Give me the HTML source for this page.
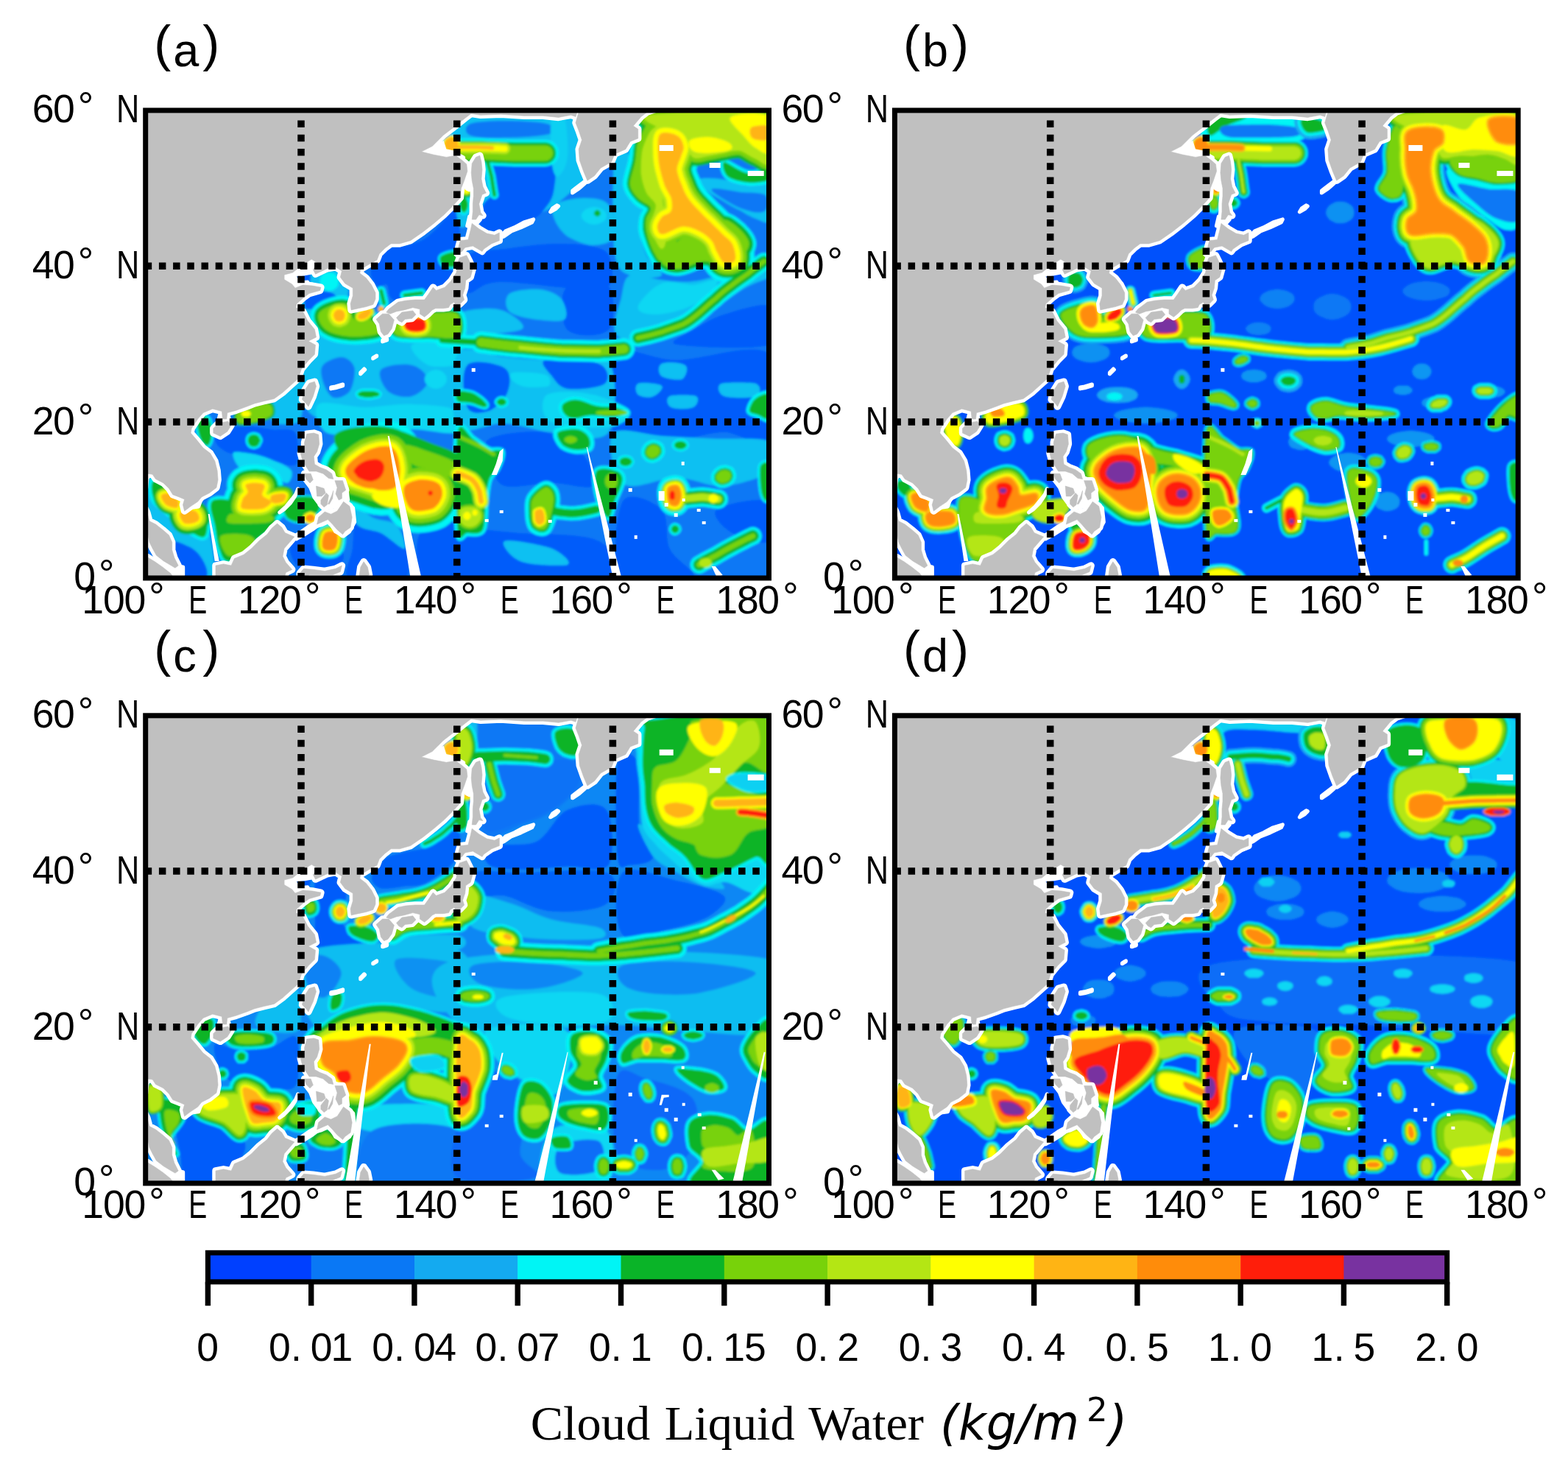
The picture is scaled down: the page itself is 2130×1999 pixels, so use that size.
<!DOCTYPE html>
<html lang="en"><head><meta charset="utf-8"><title>Cloud Liquid Water</title>
<style>html,body{margin:0;padding:0;background:#fff}body{width:2130px;height:1999px;overflow:hidden}svg{display:block}text{white-space:pre}</style>
</head><body>
<svg width="2130" height="1999" viewBox="0 0 2130 1999">
<defs><clipPath id="cp"><rect x="0" y="0" width="846.8" height="635.1"/></clipPath><filter id="bl" x="-5%" y="-5%" width="110%" height="110%"><feGaussianBlur stdDeviation="1.6"/></filter></defs>
<defs><g id="lp"><path d="M-10.6-10.6l453.1 0 0 14.8-8.5 6.4-15.9 12.7-13.8 10.6-14.8 14.8-14.8 7.4 16.9 4.2 17 3.2 12.7-2.1 8.5 6.3 6.3 5.3 1.1 9.6-4.3 12.7-4.2 10.6-1.1 12.7-10.6 11.6-11.6 11.6-13.8 11.7-14.8 11.6-16.9 11.7-14.8 4.2-11.7 0-8.4 6.4-7.4 7.4-3.2 8.4-11.7 6.4-10.6 6.3-1 5.3 8.5 6.4 7.4 9.5 5.3 10.6 0 8.5-3.2 7.4-9.5 3.1-10.6 2.2-9.6 2.1-1-8.5 3.2-10.6 0-10.6-10.6-6.3-6.4-8.5 2.1-8.4-8.4-5.3-11.7 2.1-15.8 7.4-3.2-6.4 6.3-8.4-8.4-5.3-13.8 8.4-11.6 9.6-11.7 3.1 0 6.4 10.6 6.3 4.2 5.3 10.6-4.2 12.7 1.1 11.7 2.1-1.1 4.2-14.8 4.2-7.4 5.3-9.6 8.5-1 5.3 9.5 5.3 6.4 12.7 9.5 11.6 2.1 10.6-10.6 5.3 9.6 5.3-1.1 12.7-8.5 8.5-9.5 11.6-4.2 12.7-10.6 9.6-10.6 9.5-11.6 8.4-13.8 3.2-12.7 3.2-10.6 4.2-14.8 5.3-11.7 3.2-1 8.5-5.3 0-1.1-10.6-12.7-3.2-12.7 5.3-7.4 8.5-8.4 12.7-1.1 6.3 7.4 8.5 9.5 11.6 9.6 7.4 6.3 10.6 3.2 12.7 1 12.7-2.1 10.6-9.5 7.4-10.6 5.3-5.3 6.4-9.5 6.3-8.5 6.4-2.1-8.5 2.1-7.4-7.4-3.2-8.5-3.2-5.2-8.4-7.5-7.4-10.5-5.3-4.3-6.4-6.3-1-3.2 6.3-1.1 12.7-5.3 10.6-2.1 12.7 6.4 2.1 4.2 8.5 3.2 11.6 8.5 4.3 9.5 7.4 8.5 7.4 4.2 9.5 0 10.6 3.2 10.6 5.3 10.6-4.3 3.1-5.3-3.1-10.6-6.4-9.5-7.4-5.3-9.5-4.2-8.5-2.1-10.6-1.1-8.4-12.7-2.2z"/><path d="M-10.6 600.2l12.7 6.3 10.6 6.4 10.6 7.4 10.6 8.4 6.3 8.5 0 8.5-50.8 0z"/><path d="M92.1 431.9l7.4-7.4 12.7-2.2 4.2 5.3-5.3 8.5-9.5 6.4-9.5-4.3z"/><path d="M212.8 392.7l2.1-10.6 7.4-11.6 7.4-2.1 2.1 6.3-4.2 13.8-6.4 13.7-3.1-4.2z"/><path d="M215.9 463.6l0-12.7 3.2-11.6 9.5-1.1 6.4 2.1 1 12.7-3.1 10.6-4.3 6.4 1.1 10.6 7.4 4.2 8.5 3.2 7.4 5.3 2.1 7.4-6.4-1.1-7.4-6.3-9.5-3.2-9.5 0-4.2-6.4-4.3-6.3-3.2-11.7z"/><path d="M215.9 493.3l8.5 0 3.2 8.4-4.3 4.3-5.2-5.3z"/><path d="M231.8 510.2l10.6 3.2 2.1 6.3-5.3 4.3-6.3 0z"/><path d="M238.2 529.2l7.4-9.5 3.1 3.2-2.1 12.7-4.2 3.2-4.2-4.3z"/><path d="M247.7 534.5l5.3-11.6 2.1-6.4-1.1 10.6-4.2 7.4z"/><path d="M257.2 502.8l10.6 0 4.2 12.7-5.3 4.2 0 7.4-4.2 2.1-4.2-8.4 2.1-8.5z"/><path d="M232.9 562.1l2.1-9.6 8.5-7.4 8.4 3.2 8.5-4.2 8.5-12.7 8.4 6.3 3.2 14.8-2.1 13.8-7.4 5.3-3.2 4.2-7.4-6.3-6.4-7.4-6.3-6.4-7.4 3.2z"/><path d="M95.3 645.7l0-27.5 10.6-2.2 10.5 2.2 4.3-9.6 12.7-5.3 10.6-8.4 10.5-10.6 10.6-8.5 6.4-8.4 7.4-6.4 6.3 5.3 4.3 7.4 12.7 5.3-6.4 7.4-7.4 8.5-2.1 10.6 4.2 8.4 8.5 9.6-8.5 4.2-4.2 18z"/><path d="M209.6 645.7l0-17 5.3-6.3 12.7 1.1 15.9 2.1 14.8-3.2 8.4-4.2-2.1 8.4-10.6 4.3-15.8 0-15.9 0-8.5 6.3 2.1 8.5z"/><path d="M290 635.1l2.1-14.8 4.3-7.4 5.3 7.4 2.1 10.6-7.4 4.2 2.1 10.6-7.4 0z"/><path d="M313.3 283.7l8.5-7.4 8.5 0 7.4 8.4-3.2 11.7-5.3 7.4-5.3 2.1-4.2-5.3-2.1-10.6z"/><path d="M340.8 281.6l7.4-7.4 14.9-2.2 4.2 5.3-5.3 5.3-9.5 1.1-4.3 4.2-4.2-2.1z"/><path d="M327.1 274.2l3.2-4.3 12.7-9.5 10.5-2.1 12.7-1.1 12.7 0 5.3-7.4 6.4-9.5 4.2 4.2 11.7-4.2 8.4-8.5 7.4-11.6 1.1-11.7 3.2-8.4 9.5-3.2 4.2 8.4 4.3 9.6-3.2 11.6-6.4 4.3-1 10.5-3.2 9.6 2.1 6.3-6.3 6.4-5.3 1-2.1-4.2-5.3 3.2-2.1 4.2-7.5 1.1-10.5 0-4.3 2.1-5.3 5.3-5.3 4.2-6.3-4.2 0-6.4-9.5-2.1-11.7 3.2-10.6 2.1-8.4 3.2z"/><path d="M423.4 194.8l2.1-10.6 2.1-7.4 10.6-1.1 3.2-12.7 2.1-9.5 9.5 7.4 10.6 6.3 10.6 2.2 6.4-3.2 0 10.6-10.6 4.2-10.6 7.4-2.1 3.2-12.7-7.4-10.6 2.1-4.2 5.3z"/><path d="M443.5 148.2l1.1-10.6 0-10.6 1-10.6 0-10.5-2.1-10.6-1-10.6 1-12.7 5.3-8.5 5.3-2.1 2.1 8.5 1.1 10.5-1.1 12.7 2.1 10.6 4.3 8.5-5.3 2.1-4.3 12.7 2.2 11.7 3.1 4.2-5.3-1.1-4.2 6.4z"/><path d="M582.2-10.6l6.3 12.7-4.2 14.8 4.2 10.6 4.3 12.7-4.3 12.7 1.1 14.8 5.3 14.9 5.3 12.7 9.5-6.4 8.5-10.6 14.8-8.4 4.2-10.6 14.8-6.4 6.4-10.6 10.6-4.2 0-12.7-6.4-4.2 10.6-12.7 8.5-6.4 12.7-4.2 4.2-8.5z"/><path d="M440.3-10.6l0 14.8 14.9 2.2 27.5-1.1 31.7 2.1 25.4 0 21.2 2.1 16.9-3.1 6.4 2.1 6.3-19.1z"/></g><g id="land"><g fill="#fff" stroke="#fff" stroke-width="5" stroke-linejoin="round"><path d="M182 546l9-8 8-10 6-8 2-6-4 10-6 9-9 9z"/><path d="M480 174l9-10 12-5 13-7 13-4-2 4-15 7-13 5-10 7z"/><path d="M222 491l21 4 17 5 13 12 2 17-4 7-13 2-12 2-11-7-6-8-5-13-6-8z"/><path d="M231 565l6-14 11-7 12-2 11-12 11 10 2 19-7 13-8 6-11-6-8-14-11 5z"/><path d="M205 582l11-6 11-7 8-6-2-4-11 6-10 7-9 6z"/><path d="M252 378l6-1 10-3 0-2-10 3-6 1z"/><path d="M292 358l6-6-1-1-5 5z"/><path d="M309 337l5-3 0-1-5 3z"/><path d="M322 314l6-2 0-2-6 2z"/><path d="M339 279l10-2 17-4 7-4-3-3-16 3-15 4z"/><path d="M437 157l10 0 8-9-4-6-11 2z"/><path d="M580 112l9-6 8-7 0-3-8 6-9 7z"/><path d="M550 138l7-4 4-4-2-1-6 4z"/><path d="M373 59l12 7 17 2 17-2 9 6 4-8-13-7-21-4-17-2z"/><path d="M186 241l11 2 19 0 8-3-4-7-10 1-7-7-10-5-7 5z"/><path d="M197 224l13-8 12-9 11 0-6 13-11 2z"/><path d="M99 421l15 0-2-10-10-2z"/><path d="M57 540l15-2 4-11-8-2z"/><path d="M34 629l17 2 0-11-13-2z"/><path d="M430 74l10 11 2 10-2 13-4-2-2-15-2-11z"/></g><use href="#lp" fill="#fff" stroke="#fff" stroke-width="9.5" stroke-linejoin="round"/><use href="#lp" fill="#c0c0c0" stroke="#c0c0c0" stroke-width="0.6"/></g></defs>
<rect width="2130" height="1999" fill="#fff"/>
<g transform="translate(197.7 149.9)"><g clip-path="url(#cp)"><g filter="url(#bl)"><defs><path id="a1" d="M401 198c3-3 19-8 23-6 4 2 3 16 0 19-3 3-15 2-19 0-4-2-7-10-4-13z"/><path id="a2" d="M352 251l23-3"/><path id="a3" d="M320 245l4 17"/><path id="a4" d="M271 278c0 2 0 3-1 4 0 2-1 3-3 4-1 0-2 1-4 1-1 0-3-1-4-1-1-1-2-2-3-4 0-1-1-2-1-4 0-1 1-3 1-4 1-1 2-2 3-3 1-1 3-1 4-1 2 0 3 0 4 1 2 1 3 2 3 3 1 1 1 3 1 4z"/><path id="a5" d="M235 277c1-6 14-11 21-13 7-2 14-3 19 0 5 4 3 16 9 20 5 3 20-2 25 2 5 3 12 13 7 17-6 3-27 5-39 4-12-1-25-4-32-9-7-5-12-15-10-21z"/><path id="a6" d="M307 272c0 1 0 2 0 3-1 1-2 2-3 3-1 2-2 3-4 4-1 1-3 1-5 2-1 0-3 0-4 0-1 0-2-1-3-2 0 0 0-1 0-3 0-1 1-2 2-3 2-1 3-3 5-3 1-1 3-2 5-3 1 0 3 0 4 0 1 0 2 1 3 2z"/><path id="a7" d="M335 281c3-4 17-3 27-4 10-1 22-2 32-2 11 0 25-3 30 2 5 5 7 25 0 30-7 5-26 0-40 0-14 0-35 2-43-2-8-4-10-19-6-24z"/><path id="a8" d="M354 286c3-3 19-5 23-2 4 2 5 12 1 14-3 3-18 3-22 0-4-2-6-10-2-12z"/><path id="a9" d="M425 46c0 1 0 3-1 5-1 1-2 2-3 3-2 1-4 1-5 1-2 0-4 0-5-1-1-1-3-2-4-3 0-2-1-4-1-5 0-2 1-4 1-5 1-1 3-3 4-3 1-1 3-2 5-2 1 0 3 1 5 2 1 0 2 2 3 3 1 1 1 3 1 5z"/><path id="a10" d="M411 56c8 0 30 0 45 0 14 1 28 1 43 2 14 0 37 0 44 0"/><path id="a11" d="M411 51c8 0 32 0 45 0 13 0 27 1 32 1"/><path id="a12" d="M464 68c1 4 4 14 6 22 1 7 3 21 4 25"/><path id="a13" d="M442 102c0 2-1 4-1 6-1 1-1 3-2 4-1 0-2 1-3 1-1 0-2-1-3-1-1-1-2-3-3-4 0-2 0-4 0-6 0-1 0-3 0-5 1-2 2-3 3-4 1-1 2-1 3-1 1 0 2 0 3 1 1 1 1 2 2 4 0 2 1 4 1 5z"/><path id="a14" d="M438 128c0 2 0 4-1 5 0 2-1 3-2 4-1 1-2 2-3 2 0 0-1-1-2-2-1-1-2-2-2-4-1-1-1-3-1-5 0-2 0-4 1-5 0-2 1-3 2-4 1-1 2-2 2-2 1 0 2 1 3 2 1 1 2 2 2 4 1 1 1 3 1 5z"/><path id="a15" d="M699 32c4-4 18-1 23 2 6 3 8 10 9 15 1 5-3 10-4 15-2 5-5 11-5 17 1 6 4 15 7 21 2 7 5 12 8 17 4 5 6 8 11 13 5 5 11 12 17 17 6 6 12 12 17 17 5 6 12 9 15 15 3 6 6 17 4 22-1 4-10 6-15 4-4-2-7-10-10-15-3-5-3-10-7-15-4-5-11-10-17-13-6-3-13-6-19-6-6-1-10 2-15 4-5 2-13 7-17 6-4 0-6-6-6-10 0-4 3-9 6-13 3-4 11-4 13-9 2-4 1-11 0-17-2-5-6-10-9-17-2-6-4-13-6-21-2-8-3-17-3-26 0-8-1-19 3-23z"/><path id="a16" d="M686 13c-5 3-13 20-17 30-3 9-2 18-4 27-2 10-7 22-7 30 1 8 6 14 11 19 5 6 15 8 17 13 2 5-6 11-6 17-1 7 0 14 2 22 2 7 5 15 8 21 4 6 6 13 11 13 5 0 21 17 21-13 0-31-15-141-21-171-6-30-10-12-15-8z"/><path id="a17" d="M701 203c-2 7 12 12 21 12 10 1 24-9 35-10 10-1 21 5 29 4 9-1 16-4 22-9 5-4 12-12 12-19 0-6-7-14-12-19-6-5-15-14-22-13-7 2-12 18-21 22-9 3-21-6-32 0-11 5-30 24-32 32z"/><path id="a18" d="M686 6c25-3 135-10 162 0 27 11 3 54 0 64-3 10-12-1-19-4-7-2-14-9-21-11-7-1-15 1-22 3-7 1-14 3-21 4-7 1-16 5-21 2-6-3-4-15-11-21-7-7-24-11-32-17-8-6-39-16-15-20z"/><path id="a19" d="M786 70c5 0 22 14 32 15 11 2 25-5 30-4 5 1 5 10 0 13-5 3-20 5-30 4-9-1-22-4-27-8-6-5-9-19-5-20z"/><path id="a20" d="M840 205c-4 3-15 11-22 17-7 5-14 9-21 15-7 5-16 12-23 19-8 6-15 13-22 19-7 6-13 11-21 15-9 4-20 7-30 11-10 3-27 7-32 8"/><path id="a21" d="M318 385c0 1-1 2-2 3-2 0-4 1-6 1-2 1-5 1-7 1-3 0-6 0-8-1-2 0-4-1-5-1-1-1-2-2-2-3 0-1 1-1 2-2 1-1 3-1 5-2 2 0 5 0 8 0 2 0 5 0 7 0 2 1 4 1 6 2 1 1 2 1 2 2z"/><path id="a22" d="M124 412c2-4 14-9 21-11 7-2 19-4 23-2 5 2 6 11 3 15-4 4-15 7-22 9-7 1-17 3-21 2-4-2-7-9-4-13z"/><path id="a23" d="M156 448c0 2-1 3-2 4 0 2-1 3-3 4-1 0-2 1-4 1-1 0-3-1-4-1-1-1-3-2-3-4-1-1-1-2-1-4 0-1 0-3 1-4 0-1 2-3 3-3 1-1 3-1 4-1 2 0 3 0 4 1 2 0 3 2 3 3 1 1 2 3 2 4z"/><path id="a24" d="M70 418c2-4 12-3 15 0 3 3 5 13 5 19 0 7-2 16-5 18-2 1-8-3-10-9-3-6-6-23-5-28z"/><path id="a25" d="M136 508c3-2 13-3 17-2 5 0 8 1 9 4 1 3-5 9-3 13 1 3 11 5 12 8 0 3-5 7-9 9-4 2-12 2-17 2-5 0-13 0-15-2-2-3 1-9 2-13 2-4 6-5 7-9 0-3-5-8-3-10z"/><path id="a26" d="M171 523c2-2 16-4 19-2 3 1 0 8-2 10-3 2-12 4-15 2-3-1-5-8-2-10z"/><path id="a27" d="M90 531c4-5 22-3 29 0 7 4 5 19 13 22 9 2 31-6 39-5 7 2 7 9 4 15-4 6-19 14-26 22-6 7-6 16-13 21-6 5-19 8-25 6-6-1-8-9-11-17-3-8-4-21-6-32-2-10-9-26-4-32z"/><path id="a28" d="M21 523c1-3 9-4 13-2 4 1 9 7 11 10 1 3 0 8-2 9-3 1-12-2-15-4-4-3-8-11-7-13z"/><path id="a29" d="M47 546c2-3 17-4 21-2 4 2 7 10 4 13-2 3-14 6-19 4-4-2-9-12-6-15z"/><path id="a30" d="M9 506c1-5 8-3 12 0 5 2 5 9 13 15 8 6 28 16 36 21 9 5 11 5 13 11 2 6 1 22-2 25-3 4-10 0-17-4-7-4-17-14-26-21-8-8-20-14-25-22-5-8-6-21-4-25z"/><path id="a31" d="M188 531c2-4 9-5 17-6 7-1 22-1 27 2 5 3 6 12 3 17-4 5-15 14-22 15-7 1-17-2-21-6-4-5-7-17-4-22z"/><path id="a32" d="M230 554c0 1 0 2-1 2 0 1-1 2-2 2-1 1-2 1-3 1-1 0-2 0-3-1-1 0-2-1-3-2 0 0-1-1-1-2 0-1 1-2 1-3 1-1 2-2 3-2 1 0 2-1 3-1 1 0 2 1 3 1 1 0 2 1 2 2 1 1 1 2 1 3z"/><path id="a33" d="M243 574c3-4 15-4 17 0 3 3 1 18-2 21-3 4-15 4-17 0-3-3-1-18 2-21z"/><path id="a34" d="M284 487c2-4 9-9 14-11 6-2 13-3 18-2 4 1 7 4 8 8 1 4-1 12-4 15-3 4-9 6-13 7-4 0-9-1-13-3-3-1-7-3-8-6-2-2-5-5-2-8z"/><path id="a35" d="M273 484c3-6 16-16 25-21 10-5 27-9 35-6 7 2 11 14 12 23 2 9 0 24-4 30-4 6-14 6-21 6-7 0-14-4-22-6-7-3-17-4-21-9-4-4-8-10-4-17z"/><path id="a36" d="M352 510c3-5 14-8 21-9 8 0 19 1 24 5 5 3 7 11 6 17-1 5-5 13-11 17-6 3-19 5-25 4-7-1-11-7-13-13-3-5-5-16-2-21z"/><path id="a37" d="M456 315c9 1 35 5 53 6 18 2 36 4 54 5 17 0 38 1 53 1 14-1 28-2 34-3"/><path id="a38" d="M403 312l53 3"/><path id="a39" d="M567 399c3-3 11-7 19-6 7 0 17 6 26 8 8 2 18 1 25 2 7 2 17 5 17 7 0 2-9 5-17 6-8 1-23-2-32-2-9 0-17 5-23 4-6 0-11-3-13-6-3-3-5-10-2-13z"/><path id="a40" d="M560 437c4-3 19-5 26-4 7 1 12 5 15 9 3 4 4 11 2 15-2 3-11 4-17 4-6 0-15-3-19-6-4-4-10-14-7-18z"/><path id="a41" d="M424 382c3-2 15 0 21 2 7 3 15 10 17 13 3 3 2 6-2 6-3 0-13-5-19-6-6-1-14 0-17-2-3-3-4-11 0-13z"/><path id="a42" d="M490 396c0 1 0 2-1 2 0 1-1 2-2 2-1 0-2 1-3 1-1 0-3-1-4-1 0 0-1-1-2-2 0 0-1-1-1-2 0-1 1-2 1-2 1-1 2-2 2-2 1-1 3-1 4-1 1 0 2 0 3 1 1 0 2 1 2 2 1 0 1 1 1 2z"/><path id="a43" d="M424 437c3-20 14 5 21 9 7 4 15 12 22 15 6 3 14-2 17 2 2 4-2 15-5 21-2 7-10 10-12 17-3 8-3 19-5 30-1 12 0 32-4 39-4 7-16 4-21 4-6 0-11 18-13-4-2-23-4-112 0-133z"/><path id="a44" d="M424 493c3 1 14 5 19 8 5 4 8 10 10 15 2 5 2 13 3 15"/><path id="a45" d="M428 542c3-4 17-4 22-2 4 2 7 8 6 13-1 4-6 11-11 12-4 2-12 0-15-4-3-4-5-16-2-19z"/><path id="a46" d="M526 527c3-5 13-14 17-15 5-1 10 5 11 11 1 5 0 14-2 21-2 8-5 20-9 24-4 3-11 1-15-3-3-4-4-15-4-21 0-6-1-12 2-17z"/><path id="a47" d="M529 544c2-2 8-4 10-2 2 2 4 11 3 15 0 3-5 6-7 6-2 0-5-3-6-6 0-3-1-10 0-13z"/><path id="a48" d="M552 544c5 1 22 4 32 3 10 0 23-4 28-5"/><path id="a49" d="M612 491c3-7 19-4 25-2 6 1 11 5 11 12 0 8-8 22-11 30-3 9-5 22-8 22-4 0-10-11-13-22-3-10-8-33-4-40z"/><path id="a50" d="M710 514c1-4 10-5 12-4 3 1 5 8 5 13 0 4-2 11-5 13-2 1-8 1-10-3-2-3-4-15-2-19z"/><path id="a51" d="M735 527c4 0 14-2 22-2 7 0 17 3 21 3"/><path id="a52" d="M698 458c0 1 1 3 1 5 0 1-1 3-2 4-1 1-2 3-3 3-2 1-4 2-5 2-2 0-3 0-5-1-1-1-2-2-3-3-1-1-1-3-1-4 0-2 1-4 2-5 0-1 2-3 3-3 1-1 3-2 5-2 1 0 3 1 4 1 2 1 3 2 4 3z"/><path id="a53" d="M661 477c0 1-1 2-2 3 0 1-1 2-3 2-1 1-3 1-4 1-1 0-3 0-4-1-1 0-3-1-3-2-1-1-1-2-1-3 0-1 0-2 1-3 0-1 2-2 3-2 1-1 3-1 4-1 1 0 3 0 4 1 2 0 3 1 3 2 1 1 2 2 2 3z"/><path id="a54" d="M735 455c0 0 0 1-1 2-1 1-2 2-3 2-1 1-3 1-4 1-2 0-3 0-5-1-1 0-2-1-3-2 0-1-1-2-1-2 0-1 1-2 1-3 1-1 2-2 3-2 2-1 3-1 5-1 1 0 3 0 4 1 1 0 2 1 3 2 1 1 1 2 1 3z"/><path id="a55" d="M795 494c1 1 1 3 0 4 0 1-1 3-2 4-1 1-3 3-5 3-1 1-4 1-5 1-2 0-4-1-5-2-1-1-2-2-3-3 0-2 0-3 0-5 1-1 2-3 3-4 1-1 3-2 4-3 2 0 4-1 6-1 1 1 3 1 5 2 1 1 2 2 2 4z"/><path id="a56" d="M752 617c4-3 16-9 24-13 8-5 15-9 23-13 8-4 21-11 26-13"/><path id="a57" d="M829 391c5-4 16-9 19-5 3 5 2 28 0 32-3 5-10-2-15-4-4-2-12-2-13-6 0-4 4-14 9-17z"/><path id="a58" d="M835 484c2-6 11-9 13-2 2 7 1 38 0 45-2 7-8 3-10-4-3-7-4-32-3-39z"/><path id="a59" d="M725 569c0 0-1 1-1 2-1 1-1 2-2 2-1 1-2 1-3 1-1 0-2 0-2-1-1 0-2-1-2-2-1-1-1-2-1-2 0-1 0-2 1-3 0-1 1-2 2-2 0 0 1-1 2-1 1 0 2 1 3 1 1 0 1 1 2 2 0 1 1 2 1 3z"/></defs><g stroke-linejoin="round" stroke-linecap="round"><rect x="-5" y="-5" width="860" height="648" fill="#0a78f5"/><path d="M424 119c-3-12-12 22-19 30-7 9-14 16-21 22-7 5-14 8-22 10-7 3-14 3-21 4-7 2-16 2-21 7-6 4-11 16-13 21-2 6-1 9 0 13 1 4 5 11 9 13 3 2 9-5 12-2 3 2 1 13 5 17 3 4 10 6 17 6 6 0 16-6 23-8 8-3 13-2 21-7 9-4 25 0 30-21 5-21 3-92 0-105z" fill="#055cfa"/><path d="M213 217c10-16 49-8 60 0 11 9-4 40 4 49 8 10 36 3 43 11 7 9 18 34 0 41-18 7-89 17-107 0-18-17-10-84 0-101z" fill="#0ec0f2"/><path d="M217 249c3-3 11-4 18-4 6 0 16 1 21 4 4 4 10 12 6 15-3 4-20 4-27 5-8 0-15 3-18 0-2-4-2-16 0-20z" fill="#055cfa"/><path d="M203 220c2-3 16-5 19-3 3 3 3 15 0 18-3 2-14 2-17 0-4-3-5-13-2-15z" fill="#055cfa"/><path d="M424 6c28-23 138-6 166 0 29 6 3 23 4 37 2 13 8 34 5 47-4 12-17 17-26 25-9 8-19 16-30 21-10 6-21 8-34 13-13 5-32 17-42 17-10 0-10-14-17-17-8-3-22 24-26 0-4-24-28-119 0-143z" fill="#0ec0f2"/><path d="M467 70c6-3 28-1 42-1 14 1 34-1 41 6 7 6 3 23 2 32-1 8-4 15-9 21-4 6-9 12-17 17-7 5-18 10-27 13-10 3-25 5-32 4-8-1-10-7-11-13-1-5 3-15 6-21 3-6 10-6 11-13 1-6-2-18-3-25-1-8-10-16-3-20z" fill="#055cfa" stroke="#055cfa" stroke-width="6"/><path d="M441 18c8-3 29-4 47-4 17 0 47 1 57 4 11 3 13 11 4 14-10 3-43 5-61 5-18 1-39 0-47-3-8-3-8-13 0-16z" fill="#0a78f5"/><path d="M552 9c3-11 13-10 17 0 3 9 6 41 4 55-1 13-9 24-13 26-3 1-7-6-8-20-2-13-3-51 0-61z" fill="#0ad0f2"/><path d="M556 128c7-5 26-9 38-9 13 0 27 0 35 9 7 8 12 33 8 43-3 9-19 12-30 12-10 0-25-7-34-12-8-6-14-15-17-22-3-7-6-16 0-21z" fill="#0ec0f2"/><path d="M626 143c0 2 0 4-2 6-1 1-4 3-6 4-3 1-6 2-9 2-2 0-6-1-8-2-3-1-5-3-6-4-2-2-3-4-3-6 0-2 1-4 3-6 1-2 3-3 6-4 2-1 6-2 8-2 3 0 6 1 9 2 2 1 5 2 6 4 2 2 2 4 2 6z" fill="#08d7f3"/><path d="M437 198c8-10 32-8 51-10 19-3 45-6 64-7 18 0 34 0 47 2 13 3 25 4 30 13 5 9 9 35 0 43-10 7-37 3-56 2-19-1-42-5-60-6-17-2-34-3-46 0-13 2-25 18-30 12-5-6-9-39 0-49z" fill="#055cfa"/><path d="M571 241c9-10 48-12 58-2 9 9 9 50 0 59-10 10-46 10-56 0-9-9-11-47-2-57z" fill="#055cfa"/><path d="M494 249c7-5 29-7 41-6 12 1 24 6 30 13 5 7 10 23 4 28-6 4-26 1-38 0-13-2-31-5-37-11-6-6-6-19 0-24z" fill="#0ec0f2"/><path d="M424 277c7-6 30-8 43-8 12 0 22 3 29 8 8 5 25 17 13 21-12 5-71 8-85 5-14-4-7-20 0-26z" fill="#0ec0f2"/><path d="M637 64c4-21 19-8 21 0 3 8-7 37-4 49 3 12 19 16 21 23 3 8-4 12-4 22 1 10 4 27 9 38 5 11 25 23 21 28-3 4-32 5-43 0-10-5-17-5-21-32-3-27-3-107 0-128z" fill="#0ec0f2"/><path d="M750 94c4-3 25-2 36 0 12 1 22 7 32 8 11 1 25-10 30-2 5 8 3 41 0 49-3 8-12 0-19-2-7-2-14-7-21-11-7-3-15-8-22-12-7-5-15-8-21-13-6-5-18-14-15-17z" fill="#0ec0f2"/><path d="M769 107c3-3 27 2 39 4 12 1 28 0 34 4 5 4 4 18 0 21-4 4-15 3-24 0-8-2-19-7-27-12-9-5-25-15-22-17z" fill="#0a78f5"/><path d="M658 224c10-4 29 5 43 6 14 2 29 4 43 2 14-1 28-7 42-10 15-3 33-5 43-7 10-1 16-4 19-2 3 2 5 9 0 13-5 4-19 7-30 13-10 5-21 14-32 21-10 7-17 15-29 21-13 7-29 12-45 17-17 5-41 13-54 13-12 0-19-3-21-13-2-9 5-30 9-42 3-13 3-28 12-32z" fill="#0ec0f2"/><path d="M701 235c13-5 30 2 43 2 12-1 28-9 32-7 3 3-4 15-11 22-7 6-20 12-32 17-12 4-32 9-43 8-10 0-23-3-21-11 2-7 20-27 32-31z" fill="#08d7f3"/><path d="M744 298c10-6 25-16 42-21 18-5 52-17 62-11 10 7 21 43 0 52-21 8-108 3-126 0-17-3 11-13 22-20z" fill="#055cfa"/><path d="M224 318c35-11 166-17 200 0 33 17 17 85 0 102-18 18-73 5-104 5-32-1-68 0-85-7-18-7-20-19-22-36-2-17-24-53 11-64z" fill="#0ec0f2"/><path d="M235 399c8-6 42 4 63 4 22 0 44-5 64-4 21 1 52 2 62 9 10 6 10 25 0 29-10 5-41-4-62-4-20 0-44 4-64 4-19 1-42 7-53 0-10-6-19-32-10-38z" fill="#08d7f3"/><path d="M239 350c2-9 20-15 27-15 8 0 16 7 18 15 1 8-2 26-7 32-5 6-19 12-25 6-7-5-16-29-13-38z" fill="#0a78f5"/><path d="M320 352c5-6 32-9 42-6 11 2 22 14 22 21 0 7-13 19-22 21-8 3-24 0-32-6-7-6-16-24-10-30z" fill="#0a78f5"/><path d="M362 318c7-5 52-4 62 0 10 4 7 21 0 26-7 4-30 6-40 2-10-4-28-23-22-28z" fill="#08d7f3"/><path d="M409 365c0 2 0 5-2 6-1 2-3 4-5 5-2 1-5 2-8 2-2 0-5-1-7-2-2-1-4-3-6-5-1-1-2-4-2-6 0-2 1-5 2-6 2-2 4-4 6-5 2-1 5-2 7-2 3 0 6 1 8 2 2 1 4 3 5 5 2 1 2 4 2 6z" fill="#08d7f3"/><path d="M171 382c6-9 33-19 40-15 7 4 4 31 2 41-1 9-3 15-10 17-8 2-27 3-32-5-6-7-7-29 0-38z" fill="#0ec0f2"/><path d="M96 433c7-4 30-4 43-4 12 0 21 3 32 4 10 2 26-3 32 4 5 8 6 37 2 43-5 7-21-2-30-4-9-2-17-7-26-9-9-1-21 2-30 0-8-2-17-7-21-12-4-6-9-18-2-22z" fill="#055cfa"/><path d="M119 465c3-3 21 1 30 2 9 2 18 5 26 9 8 3 20 8 23 13 3 5-1 16-6 17-5 0-16-10-26-13-10-3-26 0-34-4-8-5-15-20-13-24z" fill="#08d7f3"/><path d="M107 561c10-3 54-4 64-2 10 2 5 12-5 15-10 3-45 4-55 2-10-2-14-12-4-15z" fill="#08d7f3"/><path d="M0 495c4-8 12 0 21 6 9 6 22 19 32 30 11 12 26 21 32 39 6 17 12 55 5 66-8 11-36 10-47 0-12-10-15-48-22-62-7-14-17-8-21-21-4-14-4-49 0-58z" fill="#0ec0f2"/><path d="M26 585c2-7 29 5 38 10 9 6 14 15 17 22 3 6 5 16 0 19-5 3-23 9-32 0-9-9-26-45-23-51z" fill="#055cfa"/><path d="M198 531c2-3 13-4 15-2 3 2 2 12 0 15-2 3-10 4-13 2-2-2-4-12-2-15z" fill="#055cfa"/><path d="M196 595c0-8 11-16 17-21 7-5 13-12 22-9 8 4 27 22 31 30 5 9 5 17-4 22-9 4-38 9-49 6-11-4-17-20-17-28z" fill="#055cfa"/><path d="M288 553c6-6 21 5 32 10 10 6 26 9 32 22 5 12 12 42 0 51-13 9-63 7-75 0-12-7 3-27 4-41 2-14 0-37 7-42z" fill="#055cfa"/><path d="M373 574c8-12 42-21 51-11 8 11 8 61 0 73-8 12-40 10-49 0-8-10-10-50-2-62z" fill="#055cfa"/><path d="M277 531c4-2 21 16 32 22 11 5 25 3 32 10 7 7 14 30 11 32-4 2-22-16-32-21-11-5-25-4-32-11-7-7-14-30-11-32z" fill="#0ec0f2"/><path d="M637 331c14-16 50 8 85 8 36 0 105-26 126-8 21 18 10 97 0 115-10 18-41-9-62-9-21 0-39 9-64 9-24 0-71 11-85-9-14-19-14-90 0-106z" fill="#055cfa"/><path d="M701 344c5-3 27-2 32 2 5 3 1 16-4 19-6 2-23-1-28-4-5-4-5-15 0-17z" fill="#0ec0f2"/><path d="M669 371c5-2 29 0 32 3 4 2-5 12-11 14-5 3-17 1-21-2-3-3-5-12 0-15z" fill="#0ec0f2"/><path d="M712 388c5-2 31-2 36 0 5 3 1 13-4 15-6 3-25 3-30 0-5-2-8-12-2-15z" fill="#0ec0f2"/><path d="M782 371c7-2 39-2 47 0 8 3 7 15 0 17-7 3-35 3-43 0-7-2-11-14-4-17z" fill="#0ec0f2"/><path d="M424 331c11-16 43 3 64 4 21 2 40 4 64 4 23 1 64-16 77 0 12 17 12 82 0 98-13 17-54 3-77 0-24-2-43-11-64-12-21-2-53 20-64 4-11-16-11-82 0-98z" fill="#0ec0f2"/><path d="M499 356c7-1 36 0 44 3 8 2 8 12 5 15-4 2-20 2-28 2-8-1-16-4-19-7-4-3-10-11-2-13z" fill="#08d7f3"/><path d="M543 388c5-5 18-6 30-6 12 0 29 2 43 6 14 5 39 13 42 20 4 6-7 17-21 21-14 3-48 2-64 0-15-2-25-6-30-13-5-7-5-22 0-28z" fill="#08d7f3"/><path d="M437 346c8-9 42-2 51 4 9 6 8 22 4 32-3 10-16 22-25 26-10 3-25 6-30-5-5-10-9-48 0-57z" fill="#055cfa"/><path d="M543 339c11-2 59-1 73 5 13 5 15 22 8 27-7 6-39 9-51 7-12-2-16-11-21-17-5-7-19-19-9-22z" fill="#055cfa"/><path d="M467 446c12-7 55-12 76-9 22 4 41 18 51 30 11 12 20 37 13 43-7 6-35-4-55-4-20 0-51 8-64 4-14-4-14-19-17-30-4-11-17-27-4-34z" fill="#055cfa"/><path d="M424 574c14-10 53-2 85 0 32 2 86 0 107 11 20 10 49 42 17 51-32 9-174 10-209 0-35-10-14-52 0-62z" fill="#055cfa"/><path d="M488 585c7-3 50 5 64 10 14 6 28 19 21 22-7 2-50 1-64-5-14-5-28-25-21-27z" fill="#0ec0f2"/><path d="M648 531c9-15 42 0 53 11 11 11 4 38 11 53 7 16 42 34 32 41-11 7-80 17-96 0-16-17-9-89 0-105z" fill="#055cfa"/><path d="M776 542c8-7 60-18 72-11 12 7 8 46 0 54-9 7-39-4-51-11-12-7-30-25-21-32z" fill="#055cfa"/><path d="M637 437c11-7 41 3 64 5 23 1 50 3 75 4 24 1 60-3 72 4 12 7 10 29 0 39-10 10-41 19-62 21-21 2-42-11-64-11-21 0-49 13-64 11-14-2-17-9-21-21-3-12-11-44 0-52z" fill="#0ec0f2"/><use href="#a1" fill="#00f5f5" stroke="#00f5f5" stroke-width="5"/><use href="#a2" fill="none" stroke="#00f5f5" stroke-width="12"/><use href="#a3" fill="none" stroke="#00f5f5" stroke-width="12"/><use href="#a5" fill="#00f5f5" stroke="#00f5f5" stroke-width="21"/><path d="M262 232c0 3 0 5-1 7-2 2-3 3-5 4-2 2-4 2-7 2-2 0-4 0-6-2-2-1-4-2-5-4-1-2-1-4-1-7 0-2 0-4 1-6 1-2 3-4 5-5 2-1 4-1 6-1 3 0 5 0 7 1 2 1 3 3 5 5 1 2 1 4 1 6z" fill="#00f5f5"/><use href="#a7" fill="#00f5f5" stroke="#00f5f5" stroke-width="15"/><path d="M419 279c0 2-1 4-1 5-1 1-2 3-4 4-1 0-3 1-5 1-1 0-3-1-4-1-2-1-3-3-4-4-1-1-1-3-1-5 0-1 0-3 1-5 1-1 2-2 4-3 1-1 3-1 4-1 2 0 4 0 5 1 2 1 3 2 4 3 0 2 1 4 1 5z" fill="#00f5f5"/><use href="#a10" fill="none" stroke="#00f5f5" stroke-width="36"/><use href="#a12" fill="none" stroke="#00f5f5" stroke-width="11"/><use href="#a14" fill="#00f5f5" stroke="#00f5f5" stroke-width="6"/><use href="#a15" fill="#00f5f5" stroke="#00f5f5" stroke-width="51"/><use href="#a16" fill="#00f5f5" stroke="#00f5f5" stroke-width="19"/><use href="#a17" fill="#00f5f5" stroke="#00f5f5" stroke-width="19"/><use href="#a19" fill="#00f5f5" stroke="#00f5f5" stroke-width="8"/><use href="#a20" fill="none" stroke="#00f5f5" stroke-width="23"/><use href="#a21" fill="#00f5f5" stroke="#00f5f5" stroke-width="6"/><use href="#a23" fill="#00f5f5" stroke="#00f5f5" stroke-width="6"/><use href="#a24" fill="#00f5f5" stroke="#00f5f5" stroke-width="6"/><use href="#a25" fill="#00f5f5" stroke="#00f5f5" stroke-width="49"/><use href="#a27" fill="#00f5f5" stroke="#00f5f5" stroke-width="8"/><use href="#a30" fill="#00f5f5" stroke="#00f5f5" stroke-width="8"/><use href="#a31" fill="#00f5f5" stroke="#00f5f5" stroke-width="4"/><use href="#a33" fill="#00f5f5" stroke="#00f5f5" stroke-width="21"/><use href="#a35" fill="#00f5f5" stroke="#00f5f5" stroke-width="68"/><use href="#a36" fill="#00f5f5" stroke="#00f5f5" stroke-width="59"/><use href="#a37" fill="none" stroke="#00f5f5" stroke-width="29"/><use href="#a38" fill="none" stroke="#00f5f5" stroke-width="19"/><use href="#a39" fill="#00f5f5" stroke="#00f5f5" stroke-width="8"/><use href="#a40" fill="#00f5f5" stroke="#00f5f5" stroke-width="11"/><use href="#a41" fill="#00f5f5" stroke="#00f5f5" stroke-width="6"/><use href="#a42" fill="#00f5f5" stroke="#00f5f5" stroke-width="6"/><use href="#a43" fill="#00f5f5" stroke="#00f5f5" stroke-width="8"/><use href="#a46" fill="#00f5f5" stroke="#00f5f5" stroke-width="17"/><use href="#a48" fill="none" stroke="#00f5f5" stroke-width="19"/><use href="#a49" fill="#00f5f5" stroke="#00f5f5" stroke-width="8"/><use href="#a50" fill="#00f5f5" stroke="#00f5f5" stroke-width="28"/><use href="#a51" fill="none" stroke="#00f5f5" stroke-width="26"/><use href="#a52" fill="#00f5f5" stroke="#00f5f5" stroke-width="13"/><use href="#a53" fill="#00f5f5" stroke="#00f5f5" stroke-width="6"/><use href="#a54" fill="#00f5f5" stroke="#00f5f5" stroke-width="6"/><use href="#a55" fill="#00f5f5" stroke="#00f5f5" stroke-width="13"/><use href="#a56" fill="none" stroke="#00f5f5" stroke-width="24"/><use href="#a57" fill="#00f5f5" stroke="#00f5f5" stroke-width="8"/><use href="#a58" fill="#00f5f5" stroke="#00f5f5" stroke-width="6"/><use href="#a59" fill="#00f5f5" stroke="#00f5f5" stroke-width="6"/><use href="#a1" fill="#0ab428"/><use href="#a2" fill="none" stroke="#0ab428" stroke-width="5"/><use href="#a3" fill="none" stroke="#0ab428" stroke-width="5"/><use href="#a5" fill="#0ab428" stroke="#0ab428" stroke-width="11"/><use href="#a7" fill="#0ab428" stroke="#0ab428" stroke-width="6"/><use href="#a10" fill="none" stroke="#0ab428" stroke-width="29"/><use href="#a12" fill="none" stroke="#0ab428" stroke-width="5"/><use href="#a13" fill="#0ab428" stroke="#0ab428" stroke-width="11"/><use href="#a14" fill="#0ab428"/><path d="M618 140c0 0 0 1-1 2 0 0-1 1-1 1-1 1-2 1-2 1-1 0-2 0-2-1-1 0-2-1-2-1 0-1-1-2-1-2 0-1 1-2 1-2 0-1 1-2 2-2 0 0 1-1 2-1 0 0 1 1 2 1 0 0 1 1 1 2 1 0 1 1 1 2z" fill="#0ab428"/><use href="#a15" fill="#0ab428" stroke="#0ab428" stroke-width="39"/><use href="#a16" fill="#0ab428" stroke="#0ab428" stroke-width="8"/><use href="#a17" fill="#0ab428" stroke="#0ab428" stroke-width="11"/><path d="M720 179c3-3 13-5 19-4 6 1 15 6 18 10 2 5-1 13-5 15-4 3-14 0-19-2-5-1-8-3-11-6-2-3-5-10-2-13z" fill="#0ab428"/><use href="#a18" fill="#0ab428" stroke="#0ab428" stroke-width="21"/><use href="#a19" fill="#0ab428"/><use href="#a20" fill="none" stroke="#0ab428" stroke-width="15"/><use href="#a21" fill="#0ab428"/><use href="#a22" fill="#0ab428" stroke="#0ab428" stroke-width="6"/><use href="#a23" fill="#0ab428"/><use href="#a24" fill="#0ab428"/><use href="#a25" fill="#0ab428" stroke="#0ab428" stroke-width="36"/><use href="#a26" fill="#0ab428" stroke="#0ab428" stroke-width="21"/><use href="#a27" fill="#0ab428"/><use href="#a28" fill="#0ab428" stroke="#0ab428" stroke-width="21"/><use href="#a29" fill="#0ab428" stroke="#0ab428" stroke-width="28"/><use href="#a30" fill="#0ab428"/><use href="#a31" fill="#0ab428"/><use href="#a35" fill="#0ab428" stroke="#0ab428" stroke-width="51"/><use href="#a36" fill="#0ab428" stroke="#0ab428" stroke-width="42"/><path d="M256 446c-1-6 6-10 17-13 11-3 34-5 47-4 13 1 21 5 32 8 10 4 20 8 32 13 12 5 33 11 40 17 7 7 10 22 0 22-10 0-37-18-62-22-24-3-67 4-85 0-18-3-20-15-21-21z" fill="#0ab428"/><use href="#a37" fill="none" stroke="#0ab428" stroke-width="19"/><use href="#a38" fill="none" stroke="#0ab428" stroke-width="8"/><use href="#a39" fill="#0ab428"/><use href="#a40" fill="#0ab428"/><use href="#a41" fill="#0ab428"/><use href="#a42" fill="#0ab428"/><use href="#a43" fill="#0ab428"/><use href="#a46" fill="#0ab428" stroke="#0ab428" stroke-width="7"/><use href="#a48" fill="none" stroke="#0ab428" stroke-width="11"/><use href="#a49" fill="#0ab428"/><use href="#a51" fill="none" stroke="#0ab428" stroke-width="18"/><use href="#a52" fill="#0ab428" stroke="#0ab428" stroke-width="5"/><use href="#a53" fill="#0ab428"/><use href="#a54" fill="#0ab428"/><use href="#a55" fill="#0ab428" stroke="#0ab428" stroke-width="5"/><use href="#a56" fill="none" stroke="#0ab428" stroke-width="16"/><use href="#a57" fill="#0ab428"/><use href="#a58" fill="#0ab428"/><use href="#a59" fill="#0ab428"/><use href="#a5" fill="#78d20a"/><use href="#a6" fill="#78d20a" stroke="#78d20a" stroke-width="8"/><use href="#a7" fill="#78d20a"/><use href="#a10" fill="none" stroke="#78d20a" stroke-width="21"/><use href="#a15" fill="#78d20a" stroke="#78d20a" stroke-width="30"/><use href="#a16" fill="#78d20a"/><use href="#a17" fill="#78d20a"/><use href="#a18" fill="#78d20a" stroke="#78d20a" stroke-width="11"/><path d="M705 9c6-3 26-1 39 0 13 0 31 1 38 4 7 2 11 8 4 10-6 3-30 3-42 3-13-1-26-2-32-5-7-3-12-10-7-12z" fill="#78d20a"/><use href="#a20" fill="none" stroke="#78d20a" stroke-width="6"/><use href="#a22" fill="#78d20a"/><use href="#a25" fill="#78d20a" stroke="#78d20a" stroke-width="25"/><use href="#a26" fill="#78d20a" stroke="#78d20a" stroke-width="15"/><path d="M115 548c4-1 12 0 21 0 10 1 29 1 35 2 5 2 5 7-3 9-7 2-30 2-40 2-10 0-15 0-17-2-2-2 0-9 4-11z" fill="#78d20a"/><path d="M102 578c5-4 27-3 34-2 8 1 14 6 13 11 0 4-10 12-17 15-6 2-16 6-21 2-5-4-13-21-9-26z" fill="#78d20a"/><use href="#a33" fill="#78d20a" stroke="#78d20a" stroke-width="13"/><use href="#a35" fill="#78d20a" stroke="#78d20a" stroke-width="32"/><use href="#a36" fill="#78d20a" stroke="#78d20a" stroke-width="32"/><path d="M352 455c3-3 20 4 32 8 12 4 33 11 40 17 7 7 5 20 0 21-5 2-19-9-30-12-10-4-24-3-32-9-7-6-14-23-10-25z" fill="#78d20a"/><use href="#a37" fill="none" stroke="#78d20a" stroke-width="12"/><path d="M616 408c5-1 28-1 34 0 6 1 6 4 0 5-6 1-29 1-34 0-6-1-6-4 0-5z" fill="#78d20a"/><path d="M586 447c0 1 0 2-1 2-1 1-2 2-3 2-2 1-3 1-5 1-1 0-3 0-4-1-1 0-2-1-3-2-1 0-1-1-1-2 0-1 0-2 1-2 1-1 2-2 3-2 1 0 3-1 4-1 2 0 3 1 5 1 1 0 2 1 3 2 1 0 1 1 1 2z" fill="#78d20a"/><path d="M428 444c4 2 16 7 24 11 7 3 17 10 21 12" fill="none" stroke="#78d20a" stroke-width="5"/><use href="#a45" fill="#78d20a" stroke="#78d20a" stroke-width="6"/><use href="#a46" fill="#78d20a"/><path d="M641 504c0 1 0 3-1 5 0 1-2 3-3 4-1 1-3 1-4 1-2 0-3 0-4-1-2-1-3-3-4-4 0-2-1-4-1-5 0-2 1-4 1-6 1-1 2-3 4-4 1-1 2-1 4-1 1 0 3 0 4 1 1 1 3 3 3 4 1 2 1 4 1 6z" fill="#78d20a"/><use href="#a50" fill="#78d20a" stroke="#78d20a" stroke-width="17"/><use href="#a52" fill="#78d20a"/><use href="#a55" fill="#78d20a"/><use href="#a56" fill="none" stroke="#78d20a" stroke-width="7"/><use href="#a4" fill="#b4e614" stroke="#b4e614" stroke-width="15"/><use href="#a8" fill="#b4e614" stroke="#b4e614" stroke-width="15"/><use href="#a11" fill="none" stroke="#b4e614" stroke-width="15"/><use href="#a13" fill="#b4e614" stroke="#b4e614" stroke-width="4"/><use href="#a15" fill="#b4e614" stroke="#b4e614" stroke-width="21"/><path d="M688 26c-4 3-10 17-13 27-2 10-2 23-2 32 1 10 4 19 7 26 3 7 11 11 13 17 1 6-4 14-5 21 0 7 0 15 2 22 3 6 8 17 11 17 3 0 6-4 6-17 0-14-4-41-6-64-1-23 0-62-2-75-2-14-7-10-11-6z" fill="#b4e614"/><use href="#a18" fill="#b4e614"/><use href="#a25" fill="#b4e614" stroke="#b4e614" stroke-width="17"/><use href="#a28" fill="#b4e614" stroke="#b4e614" stroke-width="13"/><use href="#a29" fill="#b4e614" stroke="#b4e614" stroke-width="17"/><use href="#a35" fill="#b4e614" stroke="#b4e614" stroke-width="21"/><use href="#a36" fill="#b4e614" stroke="#b4e614" stroke-width="21"/><path d="M509 322c9 1 36 3 54 4 17 1 44 1 53 1" fill="none" stroke="#b4e614" stroke-width="5"/><use href="#a44" fill="none" stroke="#b4e614" stroke-width="20"/><use href="#a45" fill="#b4e614"/><use href="#a51" fill="none" stroke="#b4e614" stroke-width="10"/><path d="M769 614c0 1 0 3-1 4-1 1-2 1-3 2-1 0-3 1-4 1-2 0-3-1-4-1-2-1-3-1-4-2 0-1-1-3-1-4 0-1 1-2 1-3 1-1 2-2 4-2 1-1 2-1 4-1 1 0 3 0 4 1 1 0 2 1 3 2 1 1 1 2 1 3z" fill="#b4e614"/><use href="#a4" fill="#ffff00" stroke="#ffff00" stroke-width="7"/><use href="#a6" fill="#ffff00" stroke="#ffff00" stroke-width="4"/><use href="#a8" fill="#ffff00" stroke="#ffff00" stroke-width="8"/><use href="#a9" fill="#ffff00" stroke="#ffff00" stroke-width="4"/><use href="#a11" fill="none" stroke="#ffff00" stroke-width="8"/><use href="#a13" fill="#ffff00"/><use href="#a15" fill="#ffff00" stroke="#ffff00" stroke-width="13"/><path d="M739 41c4-4 18-5 26-5 9 1 21 4 26 7 5 2 8 8 4 10-4 3-21 4-30 5-8 0-17 0-21-3-5-2-8-11-5-14z" fill="#ffff00"/><path d="M795 9c6-5 44-8 53 0 9 7 3 39 0 46-3 8-13 0-19-4-6-3-11-10-17-17-6-7-23-21-17-25z" fill="#ffff00"/><path d="M143 412c0 1 0 1-1 2-1 1-1 1-2 2-1 0-2 0-4 0-1 0-2 0-3 0-1-1-2-1-2-2-1-1-1-1-1-2 0-1 0-2 1-2 0-1 1-1 2-2 1 0 2 0 3 0 2 0 3 0 4 0 1 1 1 1 2 2 1 0 1 1 1 2z" fill="#ffff00"/><use href="#a25" fill="#ffff00" stroke="#ffff00" stroke-width="10"/><use href="#a26" fill="#ffff00" stroke="#ffff00" stroke-width="6"/><use href="#a28" fill="#ffff00" stroke="#ffff00" stroke-width="6"/><use href="#a29" fill="#ffff00" stroke="#ffff00" stroke-width="8"/><use href="#a32" fill="#ffff00" stroke="#ffff00" stroke-width="6"/><use href="#a33" fill="#ffff00" stroke="#ffff00" stroke-width="6"/><use href="#a35" fill="#ffff00" stroke="#ffff00" stroke-width="13"/><use href="#a36" fill="#ffff00" stroke="#ffff00" stroke-width="11"/><path d="M309 521c4-3 25-4 32-3 7 2 11 10 11 13 0 4-5 8-11 9-6 0-20-3-25-7-6-3-11-10-7-12z" fill="#ffff00"/><use href="#a44" fill="none" stroke="#ffff00" stroke-width="14"/><path d="M442 550c0 1 0 2-1 3 0 1-1 2-2 2 0 1-1 1-2 1-1 0-2 0-3-1-1 0-1-1-2-2 0-1-1-2-1-3 0 0 1-1 1-2 1-1 1-2 2-2 1-1 2-1 3-1 1 0 2 0 2 1 1 0 2 1 2 2 1 1 1 2 1 2z" fill="#ffff00"/><path d="M451 546c0 1 0 2 0 2-1 1-1 1-2 2 0 0-1 0-2 0 0 0-1 0-2 0 0-1-1-1-1-2 0 0 0-1 0-2 0 0 0-1 0-2 0 0 1-1 1-1 1 0 2-1 2-1 1 0 2 1 2 1 1 0 1 1 2 1 0 1 0 2 0 2z" fill="#ffff00"/><use href="#a47" fill="#ffff00" stroke="#ffff00" stroke-width="5"/><use href="#a50" fill="#ffff00" stroke="#ffff00" stroke-width="11"/><path d="M778 527c0 1 0 2-1 3-1 1-1 2-2 2-1 1-3 1-4 1-1 0-2 0-3-1-1 0-2-1-2-2-1-1-1-2-1-3 0-1 0-2 1-3 0-1 1-2 2-2 1-1 2-1 3-1 1 0 3 0 4 1 1 0 1 1 2 2 1 1 1 2 1 3z" fill="#ffff00"/><use href="#a4" fill="#ffb414"/><use href="#a6" fill="#ffb414"/><path d="M324 270c0 0-1 1-1 2 0 0-1 1-1 1-1 0-2 1-2 1-1 0-2-1-2-1-1 0-1-1-2-1 0-1 0-2 0-2 0-1 0-2 0-2 1-1 1-1 2-2 0 0 1 0 2 0 0 0 1 0 2 0 0 1 1 1 1 2 0 0 1 1 1 2z" fill="#ffb414"/><use href="#a9" fill="#ffb414"/><path d="M411 50c7 0 29 0 39 0 9 0 17 1 21 1" fill="none" stroke="#ffb414" stroke-width="5"/><use href="#a15" fill="#ffb414"/><path d="M823 23c3-2 21-4 25-2 4 3 4 16 0 18-4 3-19 2-23-1-4-2-6-12-2-15z" fill="#ffb414"/><use href="#a25" fill="#ffb414"/><use href="#a26" fill="#ffb414"/><use href="#a28" fill="#ffb414"/><use href="#a29" fill="#ffb414"/><use href="#a44" fill="none" stroke="#ffb414" stroke-width="7"/><use href="#a47" fill="#ffb414"/><use href="#a50" fill="#ffb414" stroke="#ffb414" stroke-width="4"/><use href="#a8" fill="#ff8c0a" stroke="#ff8c0a" stroke-width="3"/><use href="#a32" fill="#ff8c0a"/><use href="#a33" fill="#ff8c0a"/><use href="#a34" fill="#ff8c0a" stroke="#ff8c0a" stroke-width="19"/><use href="#a35" fill="#ff8c0a"/><use href="#a36" fill="#ff8c0a"/><use href="#a50" fill="#ff8c0a"/><use href="#a8" fill="#ff1e0a"/><use href="#a34" fill="#ff1e0a"/><path d="M390 520c0 0 0 1 0 1-1 1-1 1-1 1-1 1-2 1-2 1-1 0-1 0-2-1 0 0-1 0-1-1 0 0 0-1 0-1 0-1 0-2 0-2 0-1 1-1 1-1 1 0 1-1 2-1 0 0 1 1 2 1 0 0 0 0 1 1 0 0 0 1 0 2z" fill="#ff1e0a"/><path d="M719 523c0 1 0 2 0 3 0 1-1 2-2 2 0 1-1 1-1 1-1 0-2 0-2-1-1 0-1-1-2-2 0-1 0-2 0-3 0-1 0-3 0-3 1-1 1-2 2-3 0 0 1-1 2-1 0 0 1 1 1 1 1 1 2 2 2 3 0 0 0 2 0 3z" fill="#ff1e0a"/></g></g><path fill="#fff" d="M329 442l2 0 44 194-15 0z"/><path fill="#fff" d="M85 548l2 0 13 64-6 0z"/><path fill="#fff" d="M599 457l1 0 47 179-12 0z"/><path fill="#fff" d="M769 619l5 0 10 12-8 3z"/><path fill="#fff" d="M470 495l6-15 5-17 5-4-1 17-8 19z"/><path fill="#fff" d="M375 53l30-12 6 19-17 6z"/><path fill="#fff" d="M698 47l19 0 0 8-19 0z"/><path fill="#fff" d="M766 71l15 0 0 7-15 0z"/><path fill="#fff" d="M818 82l22 0 0 7-22 0z"/><path fill="#fff" d="M443 350l5 0 0 5-5 0z"/><path fill="#fff" d="M481 543l5 0 0 4-5 0z"/><path fill="#fff" d="M461 555l5 0 0 4-5 0z"/><path fill="#fff" d="M547 556l5 0 0 4-5 0z"/><path fill="#fff" d="M656 513l5 0 0 5-5 0z"/><path fill="#fff" d="M728 477l4 0 0 5-4 0z"/><path fill="#fff" d="M664 577l4 0 0 5-4 0z"/><path fill="#fff" d="M756 558l5 0 0 4-5 0z"/><path fill="#fff" d="M749 541l5 0 0 4-5 0z"/><path fill="#fff" d="M718 547l5 0 0 5-5 0z"/><path fill="#fff" d="M705 533l5 0 0 5-5 0z"/><path fill="#fff" d="M729 527l4 0 0 4-4 0z"/><path fill="#fff" d="M697 517l8 0 0 13-8 0z"/><use href="#land"/><g stroke="#000" stroke-width="9.5" stroke-dasharray="9.5 9.7" fill="none"><line x1="211.3" y1="13.7" x2="211.3" y2="635.1"/><line x1="423" y1="13.7" x2="423" y2="635.1"/><line x1="634.7" y1="13.7" x2="634.7" y2="635.1"/><line x1="-1" y1="211.3" x2="849.8" y2="211.3"/><line x1="-1" y1="423" x2="849.8" y2="423"/></g></g><rect x="0" y="0" width="846.8" height="635.1" fill="none" stroke="#000" stroke-width="7"/></g>
<g transform="translate(1215.4 149.9)"><g clip-path="url(#cp)"><g filter="url(#bl)"><defs><path id="b1" d="M401 198c3-4 19-13 23-10 4 2 3 19 0 23-3 4-15 4-19 2-4-2-7-10-4-15z"/><path id="b2" d="M352 251l23-3"/><path id="b3" d="M320 245l4 17"/><path id="b4" d="M256 230c0 2-1 4-2 6 0 1-2 3-3 3-2 1-4 2-6 2-2 0-4-1-5-2-2 0-3-2-4-3-1-2-1-4-1-6 0-2 0-4 1-5 1-2 2-3 4-4 1-1 3-1 5-1 2 0 4 0 6 1 1 1 3 2 3 4 1 1 2 3 2 5z"/><path id="b5" d="M226 277c2-6 22-11 30-13 8-2 14-3 19 0 5 4 3 16 9 20 5 3 20-2 25 2 5 3 12 13 7 17-6 3-27 4-39 4-12 0-23 1-32-4-8-5-21-19-19-26z"/><path id="b6" d="M254 271c2-4 13-7 17-5 3 3 4 13 4 18 0 4-3 9-6 10-4 1-11-2-13-6-3-4-5-14-2-17z"/><path id="b7" d="M308 271c0 1 0 2 0 3 0 1-1 2-2 4-1 1-3 2-4 4-2 1-4 2-5 2-2 1-4 1-5 1-1 0-2-1-3-1 0-1 0-2 0-4 0-1 1-2 2-3 1-2 3-3 4-4 2-1 4-2 5-3 2 0 4-1 5-1 1 1 2 1 3 2z"/><path id="b8" d="M335 284c3-5 17-3 27-5 10-1 22-4 32-4 11 0 25-1 30 4 5 6 7 23 0 28-7 5-26 2-40 2-14 0-35 2-43-2-8-4-10-19-6-23z"/><path id="b9" d="M353 286c4-3 22-5 26-2 5 2 7 13 3 16-4 2-21 3-26 1-5-3-7-12-3-15z"/><path id="b10" d="M425 46c0 1 0 3-1 5-1 1-2 2-3 3-2 1-4 1-5 1-2 0-4 0-5-1-1-1-3-2-4-3 0-2-1-4-1-5 0-2 1-4 1-5 1-1 3-3 4-3 1-1 3-2 5-2 1 0 3 1 5 2 1 0 2 2 3 3 1 1 1 3 1 5z"/><path id="b11" d="M552 13c3-3 20-2 25 0 6 2 12 10 9 13-3 2-20 6-26 4-5-2-11-14-8-17z"/><path id="b12" d="M411 56c8 0 30 0 45 0 14 1 28 1 43 2 14 0 37 0 44 0"/><path id="b13" d="M411 50c7 0 29 0 39 0 9 0 17 1 21 1"/><path id="b14" d="M467 68c0 4 3 14 4 22 1 7 2 17 3 21"/><path id="b15" d="M442 103c0 2-1 4-1 5-1 2-1 3-2 4-1 1-2 1-3 1-1 0-2 0-2-1-1-1-2-2-2-4-1-1-1-3-1-5 0-1 0-3 1-4 0-2 1-3 2-4 0-1 1-1 2-1 1 0 2 0 3 1 1 1 1 2 2 4 0 1 1 3 1 4z"/><path id="b16" d="M439 126c0 1 0 3-1 4 0 1-1 2-2 3-1 1-2 1-2 1-1 0-2 0-3-1-1-1-2-2-2-3-1-1-1-3-1-4 0-2 0-3 1-4 0-2 1-3 2-4 1 0 2-1 3-1 0 0 1 1 2 1 1 1 2 2 2 4 1 1 1 2 1 4z"/><path id="b17" d="M466 126c0 1-1 2-1 2-1 1-1 2-2 2-1 1-2 1-3 1-1 0-2 0-2-1-1 0-2-1-2-2-1 0-1-1-1-2 0-1 0-2 1-3 0-1 1-1 2-2 0 0 1-1 2-1 1 0 2 1 3 1 1 1 1 1 2 2 0 1 1 2 1 3z"/><path id="b18" d="M699 28c7-5 33-5 40-2 8 2 6 12 5 17-2 5-10 5-13 12-3 8-5 20-4 30 1 11 5 26 10 34 5 9 11 11 20 17 8 7 22 15 29 22 8 7 15 13 17 21 3 8 2 21-2 26-3 4-14 3-19 0-5-4-4-13-8-20-5-6-10-13-17-17-8-3-17-2-26-2-9 0-24 5-30 2-6-2-6-13-4-19 1-5 11-6 13-13 1-6 0-17-3-25-2-9-8-16-10-26-2-9-3-22-2-32 0-9-4-21 4-25z"/><path id="b19" d="M680 21c-4 2-9 22-11 32-2 11 2 23 0 32-2 9-12 16-11 22 2 5 12 12 17 12 6 0 13 0 15-12 3-13 4-50 3-64-2-15-9-23-13-22z"/><path id="b20" d="M701 177c-2 7 12 32 21 36 10 5 24-8 35-8 10 0 21 8 29 8 9 0 16-3 22-8 5-6 12-17 12-24 0-7-7-14-12-19-6-5-15-14-22-13-7 2-12 18-21 22-9 3-21-2-32 0-11 1-30-1-32 6z"/><path id="b21" d="M686 6c25-3 135-10 162 0 27 11 3 54 0 64-3 10-12-2-19-4-7-2-14-6-21-6-7-1-15 1-22 2-7 0-14-1-21 0-7 0-16 5-21 2-6-3-4-15-11-21-7-7-24-11-32-17-8-6-39-16-15-20z"/><path id="b22" d="M808 13c5-5 33-5 40 0 6 5 5 25 0 30-5 4-23 2-30-2-6-5-15-24-10-28z"/><path id="b23" d="M757 64c7-4 35-2 51 0 15 2 33 6 40 11 6 5 5 15 0 19-5 4-20 4-30 4-9 0-18-4-27-6-9-2-20-2-26-7-6-4-16-17-8-21z"/><path id="b24" d="M840 205c-4 3-15 11-22 17-7 5-14 9-21 15-7 5-16 12-23 19-8 6-15 13-22 19-7 6-13 11-21 15-9 4-20 7-30 11-10 3-23 6-32 8-9 3-12 4-21 7-9 2-27 5-32 6"/><path id="b25" d="M124 412c2-4 13-9 21-11 8-2 21-4 26-2 5 2 7 11 4 15-4 4-18 7-26 9-8 1-17 3-21 2-4-2-7-9-4-13z"/><path id="b26" d="M68 418c2-4 14-3 17 0 4 3 5 13 5 19 0 7-2 16-5 18-3 1-10-3-13-9-2-6-6-23-4-28z"/><path id="b27" d="M157 448c0 1-1 3-1 4-1 1-2 2-3 3-1 0-3 1-4 1-1 0-2-1-3-1-2-1-3-2-3-3-1-1-1-3-1-4 0-1 0-3 1-4 0-1 1-2 3-2 1-1 2-1 3-1 1 0 3 0 4 1 1 0 2 1 3 2 0 1 1 3 1 4z"/><path id="b28" d="M139 508c2-3 11-3 14-2 4 1 7 4 7 8 0 4-5 13-7 17-1 5-1 8-4 9-2 1-9 1-10-2-2-3 2-10 2-15 0-5-5-12-2-15z"/><path id="b29" d="M128 510c5-5 19-11 25-11 7 0 10 7 13 11 3 4 0 11 5 13 4 2 18-4 21-2 3 1 2 9-2 12-5 4-16 6-24 9-7 2-14 6-21 6-7 1-18 0-21-4-4-3 1-11 2-17 0-6-3-12 2-17z"/><path id="b30" d="M90 527c5-5 22 0 29 4 7 5 5 18 13 22 9 3 31-4 39-3 7 2 7 7 4 13-4 6-19 16-26 24-6 7-6 17-13 21-6 4-19 6-25 4-7-2-9-9-13-17-3-8-7-20-8-32-2-11-5-31 0-36z"/><path id="b31" d="M23 523c2-3 10-4 13-2 4 1 9 8 10 12 1 4 0 10-3 11-3 1-12-3-15-6-3-4-6-12-5-15z"/><path id="b32" d="M45 547c4-3 26-3 32-1 5 3 7 12 2 15-5 3-24 5-30 2-6-2-9-13-4-16z"/><path id="b33" d="M4 504c2-2 10-3 13 0 3 2 7 11 6 14 0 4-7 5-10 5-3-1-7-6-9-9-1-3-2-9 0-10z"/><path id="b34" d="M188 544c2-4 9-10 17-13 7-2 22-4 27-2 5 2 6 10 3 15-4 5-15 13-22 15-7 2-17-2-21-4-4-3-7-7-4-11z"/><path id="b35" d="M230 554c0 0 0 1-1 2 0 1-1 1-2 2-1 0-2 0-3 0-1 0-2 0-3 0-1-1-2-1-3-2 0-1-1-2-1-2 0-1 1-2 1-3 1 0 2-1 3-1 1-1 2-1 3-1 1 0 2 0 3 1 1 0 2 1 2 1 1 1 1 2 1 3z"/><path id="b36" d="M245 576c3-4 14-4 17-2 3 2 3 9 2 13-1 3-5 7-8 8-4 2-11 3-13 0-2-3-1-15 2-19z"/><path id="b37" d="M252 565c0 1-1 3-1 4-1 1-2 1-3 2-1 0-2 1-3 1-1 0-2-1-3-1-1-1-2-1-2-2-1-1-1-3-1-4 0-1 0-2 1-3 0-1 1-2 2-2 1-1 2-1 3-1 1 0 2 0 3 1 1 0 2 1 3 2 0 1 1 2 1 3z"/><path id="b38" d="M288 489c1-4 5-9 10-11 6-2 17-2 22 0 4 2 6 6 6 11 0 4-2 12-6 15-4 2-12 2-17 2-5-1-11-4-13-7-3-3-4-7-2-10z"/><path id="b39" d="M273 484c3-7 16-17 25-21 10-4 27-7 35-4 7 3 10 13 12 21 3 9 1 20 0 30 0 10 0 24-4 30-4 5-14 4-21 2-7-2-14-9-22-15-7-6-17-14-21-21-4-7-8-15-4-22z"/><path id="b40" d="M367 514c1-5 9-10 15-10 5-1 15 2 19 6 4 4 5 10 4 15-1 4-5 11-11 13-5 1-16 1-21-2-5-4-8-16-6-22z"/><path id="b41" d="M262 457c2-6 16-11 26-13 9-2 21-3 32 0 10 2 21 11 32 15 10 4 20 5 32 8 12 4 33 9 40 13 7 4 10 13 0 13-10 0-37-11-62-13-24-2-68 4-85 0-17-4-17-17-15-23z"/><path id="b42" d="M403 312c8 0 35 2 53 4 18 2 35 5 53 7 18 2 36 4 54 5 17 0 37 1 53 0 16-1 28-3 42-6 15-3 36-10 43-12"/><path id="b43" d="M567 401c3-3 11-6 19-6 7 0 17 6 26 7 8 2 14 2 25 3 11 2 32 3 38 5 7 1 7 3 0 4-6 1-26 3-38 3-12 0-23-3-32-3-9 0-17 5-23 4-6 0-11-3-13-6-3-3-5-8-2-11z"/><path id="b44" d="M543 440c0-4 15-6 22-7 7-1 15 1 21 2 6 2 12 5 15 9 3 3 4 10 2 13-2 2-11 4-17 4-6 0-12-3-19-6-7-4-23-12-24-15z"/><path id="b45" d="M545 367c0 1 0 2-1 3-1 1-2 2-4 3-1 0-3 1-5 1-2 0-4-1-6-1-1-1-3-2-3-3-1-1-2-2-2-3 0-1 1-2 2-3 0-1 2-2 3-2 2-1 4-1 6-1 2 0 4 0 5 1 2 0 3 1 4 2 1 1 1 2 1 3z"/><path id="b46" d="M428 386c3-1 12-4 17-2 6 2 15 10 17 13 3 3 2 6-2 6-3 0-14-5-19-6-5-1-11 0-13-2-2-2-3-7 0-9z"/><path id="b47" d="M492 398c0 1 0 2-1 2 0 1-1 2-2 2-1 0-2 1-3 1-1 0-3-1-3-1-1 0-2-1-3-2 0 0-1-1-1-2 0-1 1-2 1-2 1-1 2-2 3-2 0 0 2-1 3-1 1 0 2 1 3 1 1 0 2 1 2 2 1 0 1 1 1 2z"/><path id="b48" d="M479 336c0 1 0 2 0 3-1 1-2 2-3 2-1 1-2 2-4 2-1 1-3 1-4 1-1 0-3 0-3 0-1 0-2-1-2-2 0 0 0-1 0-2 1-1 2-2 3-3 1 0 2-1 3-2 2 0 3 0 5-1 1 0 2 1 3 1 1 0 2 1 2 1z"/><path id="b49" d="M496 425c0 0 0 1 0 2-1 0-1 1-2 1 0 0-1 1-2 1-1 0-1-1-2-1-1 0-1-1-2-1 0-1 0-2 0-2 0-1 0-2 0-2 1-1 1-1 2-2 1 0 1 0 2 0 1 0 2 0 2 0 1 1 1 1 2 2 0 0 0 1 0 2z"/><path id="b50" d="M424 437c3-20 14 5 21 9 7 4 15 12 22 15 6 3 14-2 17 2 2 4-2 15-5 21-2 7-10 10-12 17-3 8-4 19-5 30 0 12 7 32 2 39-4 7-21 4-27 4-7 0-11 18-13-4-2-23-4-112 0-133z"/><path id="b51" d="M424 495c3 1 14 1 19 4 5 3 8 10 11 15 2 6 3 14 4 17"/><path id="b52" d="M432 544c3-3 13-3 18-2 4 1 9 7 8 11-1 3-9 9-13 10-4 2-8 1-10-2-3-3-5-14-3-17z"/><path id="b53" d="M531 527c2-5 11-12 14-13 4 0 8 4 9 9 1 5-1 14-2 21-1 8-1 19-4 24-4 4-12 6-15 2-4-4-4-19-5-26 0-7 0-12 3-17z"/><path id="b54" d="M532 544c1-3 7-4 9-2 2 2 5 11 4 15 0 4-4 10-6 11-2 0-6-5-7-9-2-4-2-12 0-15z"/><path id="b55" d="M552 542c5 1 22 5 32 4 10 0 23-5 28-6"/><path id="b56" d="M505 540l21-11"/><path id="b57" d="M616 491c3-7 15-4 21-2 7 1 15 5 17 12 2 8-2 22-6 30-4 9-15 22-19 22-5 0-7-11-9-22-2-10-7-33-4-40z"/><path id="b58" d="M710 514c1-4 9-5 12-4 4 1 6 8 7 13 0 4-2 11-4 13-3 1-11 1-13-3-3-3-4-15-2-19z"/><path id="b59" d="M735 527c4 0 14-2 22-2 7 0 17 3 21 3"/><path id="b60" d="M700 459c0 1 1 3 1 4-1 2-1 3-2 4-1 2-2 3-4 4-1 0-3 1-4 1-2 0-4 0-5 0-1-1-2-2-3-3 0-1-1-3-1-4 1-1 1-3 2-4 1-1 2-3 4-3 1-1 3-2 4-2 2 0 4 0 5 1 1 0 2 1 3 2z"/><path id="b61" d="M662 477c0 1-1 2-2 3 0 1-1 2-3 2-1 1-2 1-4 1-1 0-3 0-4-1-1 0-3-1-3-2-1-1-1-2-1-3 0-1 0-2 1-3 0-1 2-2 3-2 1-1 3-1 4-1 2 0 3 0 4 1 2 0 3 1 3 2 1 1 2 2 2 3z"/><path id="b62" d="M738 457c0 0 0 1-1 2-1 1-2 1-3 2-2 0-4 0-5 0-2 0-4 0-5 0-1-1-3-1-4-2 0-1-1-2-1-2 0-1 1-2 1-3 1 0 3-1 4-1 1-1 3-1 5-1 1 0 3 0 5 1 1 0 2 1 3 1 1 1 1 2 1 3z"/><path id="b63" d="M800 495c0 2 0 3-1 5 0 1-1 3-2 4-2 1-4 3-6 3-1 1-4 1-5 1-2 0-4 0-6-1-1-1-2-2-3-4 0-1 0-3 0-4 1-2 2-3 3-5 2-1 4-2 6-3 1 0 4-1 5-1 2 0 4 1 6 2 1 1 2 2 3 3z"/><path id="b64" d="M750 395c0 1 0 2-1 3-1 1-2 2-3 3-2 0-4 1-5 2-2 0-4 0-6 0-1 0-3 0-4 0-1-1-2-1-2-2 0-1 0-2 1-3 1-1 2-2 3-3 2 0 4-1 5-2 2 0 4 0 6 0 1 0 3 0 4 0 1 1 2 2 2 2z"/><path id="b65" d="M812 381c0 1-1 1-1 2-1 1-3 1-4 2-2 0-4 0-6 0-1 0-4 0-5 0-2-1-3-1-4-2-1-1-1-1-1-2 0-1 0-2 1-2 1-1 2-1 4-2 1 0 4 0 5 0 2 0 4 0 6 0 1 1 3 1 4 2 0 0 1 1 1 2z"/><path id="b66" d="M757 617c3-2 12-5 19-9 7-4 15-10 23-15 8-5 21-12 26-15"/><path id="b67" d="M808 425c1-5 14-20 21-26 7-6 16-13 19-11 3 3 2 24 0 28-3 4-10-4-15-2-4 2-8 13-13 15-4 2-14 1-12-4z"/><path id="b68" d="M835 484c2-6 11-9 13-2 2 7 1 38 0 45-2 7-8 3-10-4-3-7-4-32-3-39z"/><path id="b69" d="M727 571c0 1-1 2-1 3 0 1-1 2-2 2-1 1-2 1-3 1-1 0-2 0-2-1-1 0-2-1-2-2-1-1-1-2-1-3 0-1 0-3 1-3 0-1 1-2 2-3 0 0 1-1 2-1 1 0 2 1 3 1 1 1 2 2 2 3 0 0 1 2 1 3z"/><path id="b70" d="M428 625c4-2 15-3 22-2 6 1 14 6 17 8 2 3 6 4 0 5-7 1-32 2-39 0-6-2-3-9 0-11z"/></defs><g stroke-linejoin="round" stroke-linecap="round"><rect x="-5" y="-5" width="860" height="648" fill="#0351fc"/><path d="M428 9c20-6 101-6 122 0 20 5 20 26 0 32-21 5-102 5-122 0-20-6-20-27 0-32z" fill="#00f5f5"/><path d="M428 9c8-5 46-3 49 0 4 2-19 8-27 12-9 5-18 15-22 13-3-2-8-21 0-25z" fill="#0ab428"/><path d="M447 21c10-2 46-2 62-2 17 1 30 2 36 4 6 3 10 10 0 12-9 2-41 2-57 2-16 0-32 1-38-2-7-2-13-11-3-14z" fill="#0a78f5"/><path d="M624 139c0 2-1 5-2 7-2 2-4 4-7 5-3 2-7 2-10 2-3 0-7 0-9-2-3-1-6-3-7-5-2-2-3-5-3-7 0-3 1-6 3-8 1-2 4-4 7-5 2-2 6-2 9-2 3 0 7 0 10 2 3 1 5 3 7 5 1 2 2 5 2 8z" fill="#0f91f2"/><path d="M543 256c0 2-1 4-3 6-2 2-5 4-8 5-4 1-8 2-12 2-4 0-8-1-12-2-3-1-6-3-8-5-2-2-4-4-4-6 0-2 2-5 4-7 2-1 5-3 8-4 4-1 8-2 12-2 4 0 8 1 12 2 3 1 6 3 8 4 2 2 3 5 3 7z" fill="#0c82f4"/><path d="M511 296c0 2-1 3-2 5-1 1-4 2-6 3-3 0-6 1-9 1-3 0-6-1-8-1-3-1-5-2-6-3-2-2-3-3-3-5 0-1 1-3 3-4 1-1 3-2 6-3 2-1 5-1 8-1 3 0 6 0 9 1 2 1 5 2 6 3 1 1 2 3 2 4z" fill="#0c82f4"/><path d="M620 266c0 3-1 7-3 9-2 2-6 5-10 6-3 2-8 3-13 3-4 0-9-1-12-3-4-1-8-4-10-6-2-2-3-6-3-9 0-2 1-6 3-8 2-2 6-5 10-6 3-2 8-3 12-3 5 0 10 1 13 3 4 1 8 4 10 6 2 2 3 6 3 8z" fill="#0a78f5"/><path d="M754 245c0 2-1 5-4 7-3 1-7 3-12 4-4 1-10 2-16 2-5 0-11-1-16-2-4-1-9-3-11-4-3-2-5-5-5-7 0-2 2-4 5-6 2-2 7-4 11-5 5-1 11-2 16-2 6 0 12 1 16 2 5 1 9 3 12 5 3 2 4 4 4 6z" fill="#0a78f5"/><path d="M750 81c4-5 25 2 36 4 12 3 22 10 32 11 11 1 25-12 30-2 5 9 3 48 0 59-3 12-12 10-19 9-7-1-14-8-21-13-7-5-15-11-22-17-7-6-15-8-21-17-6-8-18-29-15-34z" fill="#00f5f5"/><path d="M765 100c3-3 29 5 43 7 13 1 33-3 40 4 6 7 5 32 0 38-5 6-20 2-30-2-9-3-18-11-27-19-9-8-29-24-26-28z" fill="#0a78f5"/><path d="M330 386c0 2-1 4-3 6-3 1-6 3-10 4-4 0-10 1-14 1-5 0-10-1-14-1-4-1-8-3-10-4-3-2-4-4-4-6 0-1 1-3 4-5 2-2 6-3 10-4 4-1 9-1 14-1 4 0 10 0 14 1 4 1 7 2 10 4 2 2 3 4 3 5z" fill="#14aaf0"/><path d="M309 388c0 1 0 2-1 3-1 1-3 2-4 2-2 0-4 1-6 1-1 0-3-1-5-1-1 0-3-1-4-2-1-1-1-2-1-3 0 0 0-1 1-2 1-1 3-2 4-2 2-1 4-1 5-1 2 0 4 0 6 1 1 0 3 1 4 2 1 1 1 2 1 2z" fill="#00f5f5"/><path d="M292 329c0 2-1 4-3 6-2 2-6 4-10 5-3 1-8 2-13 2-4 0-9-1-12-2-4-1-8-3-10-5-2-2-3-4-3-6 0-2 1-5 3-7 2-2 6-3 10-4 3-1 8-2 12-2 5 0 10 1 13 2 4 1 8 2 10 4 2 2 3 5 3 7z" fill="#0f91f2"/><path d="M401 365c0 2-1 5-2 6-1 2-2 4-4 5-1 1-3 2-5 2-2 0-4-1-5-2-2-1-3-3-4-5-1-1-2-4-2-6 0-2 1-5 2-6 1-2 2-4 4-5 1-1 3-2 5-2 2 0 4 1 5 2 2 1 3 3 4 5 1 1 2 4 2 6z" fill="#14aaf0"/><path d="M384 414c0 2-2 4-6 5-4 2-9 3-16 4-6 1-14 2-21 2-7 0-15-1-21-2-6-1-12-2-16-4-3-1-6-3-6-5 0-2 3-4 6-5 4-2 10-3 16-4 6-1 14-2 21-2 7 0 15 1 21 2 7 1 12 2 16 4 4 1 6 3 6 5z" fill="#0f91f2"/><path d="M107 563c9-2 50-4 59-2 10 2 5 10-4 13-9 2-42 4-51 2-9-2-14-10-4-13z" fill="#0a78f5"/><path d="M198 531c5-3 23-4 28-2 5 3 4 14 0 17-4 3-21 5-26 2-4-2-6-14-2-17z" fill="#0351fc"/><path d="M729 354c0 2-1 4-2 6-1 1-3 3-5 4-1 0-4 1-6 1-2 0-5-1-6-1-2-1-4-3-5-4-1-2-2-4-2-6 0-1 1-3 2-5 1-2 3-3 5-4 1-1 4-1 6-1 2 0 5 0 6 1 2 1 4 2 5 4 1 2 2 4 2 5z" fill="#1096f2"/><path d="M703 380c0 1 0 2-2 3-1 1-2 2-4 2-2 1-4 1-7 1-2 0-4 0-6-1-2 0-4-1-5-2-1-1-1-2-1-3 0-1 0-2 1-3 1-1 3-2 5-3 2 0 4 0 6 0 3 0 5 0 7 0 2 1 3 2 4 3 2 1 2 2 2 3z" fill="#1096f2"/><path d="M750 397c0 1-1 3-2 4-2 1-4 2-6 2-3 1-6 1-9 1-3 0-6 0-8-1-3 0-5-1-7-2-1-1-2-3-2-4 0-1 1-3 2-4 2-1 4-2 7-3 2 0 5-1 8-1 3 0 6 1 9 1 2 1 4 2 6 3 1 1 2 3 2 4z" fill="#1096f2"/><path d="M829 382c0 1-1 3-3 4-2 2-5 3-8 3-3 1-7 2-10 2-4 0-8-1-11-2-3 0-6-1-8-3-2-1-3-3-3-4 0-1 1-3 3-4 2-1 5-3 8-3 3-1 7-1 11-1 3 0 7 0 10 1 3 0 6 2 8 3 2 1 3 3 3 4z" fill="#1096f2"/><path d="M569 450c0 2-1 4-2 6-2 1-4 3-7 3-2 1-5 2-8 2-3 0-6-1-9-2-2 0-5-2-6-3-1-2-2-4-2-6 0-2 1-4 2-5 1-2 4-3 6-4 3-1 6-1 9-1 3 0 6 0 8 1 3 1 5 2 7 4 1 1 2 3 2 5z" fill="#1096f2"/><path d="M686 531c0 2-1 5-2 7-2 2-4 3-6 4-3 1-6 2-9 2-3 0-6-1-8-2-3-1-5-2-7-4-1-2-2-5-2-7 0-2 1-4 2-6 2-2 4-4 7-5 2-1 5-2 8-2 3 0 6 1 9 2 2 1 4 3 6 5 1 2 2 4 2 6z" fill="#1096f2"/><path d="M505 361c0 1-1 3-2 4-2 1-4 2-7 3-2 1-5 1-8 1-3 0-6 0-9-1-2-1-4-2-6-3-1-1-2-3-2-4 0-2 1-3 2-5 2-1 4-2 6-3 3 0 6-1 9-1 3 0 6 1 8 1 3 1 5 2 7 3 1 2 2 3 2 5z" fill="#1096f2"/><path d="M641 478c0 2-1 5-3 6-2 2-6 4-9 5-4 1-9 2-13 2-4 0-9-1-13-2-4-1-7-3-9-5-2-1-4-4-4-6 0-2 2-5 4-6 2-2 5-4 9-5 4-1 9-2 13-2 4 0 9 1 13 2 3 1 7 3 9 5 2 1 3 4 3 6z" fill="#1096f2"/><path d="M733 446c0 2-2 4-4 5-3 2-7 3-12 4-5 1-11 2-16 2-5 0-11-1-16-2-5-1-9-2-12-4-2-1-4-3-4-5 0-2 2-4 4-5 3-2 7-3 12-4 5-1 11-2 16-2 5 0 11 1 16 2 5 1 9 2 12 4 2 1 4 3 4 5z" fill="#1096f2"/><use href="#b4" fill="#14aaf0" stroke="#14aaf0" stroke-width="13"/><use href="#b5" fill="#14aaf0" stroke="#14aaf0" stroke-width="19"/><use href="#b11" fill="#14aaf0" stroke="#14aaf0" stroke-width="17"/><use href="#b18" fill="#14aaf0" stroke="#14aaf0" stroke-width="40"/><use href="#b24" fill="none" stroke="#14aaf0" stroke-width="24"/><use href="#b45" fill="#14aaf0" stroke="#14aaf0" stroke-width="17"/><use href="#b1" fill="#00f5f5" stroke="#00f5f5" stroke-width="8"/><use href="#b2" fill="none" stroke="#00f5f5" stroke-width="11"/><use href="#b3" fill="none" stroke="#00f5f5" stroke-width="13"/><use href="#b4" fill="#00f5f5" stroke="#00f5f5" stroke-width="6"/><use href="#b5" fill="#00f5f5" stroke="#00f5f5" stroke-width="13"/><use href="#b8" fill="#00f5f5" stroke="#00f5f5" stroke-width="11"/><use href="#b11" fill="#00f5f5" stroke="#00f5f5" stroke-width="8"/><use href="#b12" fill="none" stroke="#00f5f5" stroke-width="36"/><use href="#b14" fill="none" stroke="#00f5f5" stroke-width="16"/><use href="#b16" fill="#00f5f5" stroke="#00f5f5" stroke-width="11"/><use href="#b17" fill="#00f5f5" stroke="#00f5f5" stroke-width="6"/><use href="#b18" fill="#00f5f5" stroke="#00f5f5" stroke-width="34"/><use href="#b19" fill="#00f5f5" stroke="#00f5f5" stroke-width="11"/><use href="#b20" fill="#00f5f5" stroke="#00f5f5" stroke-width="17"/><path d="M733 185c0 1 0 2-1 3 0 1-1 2-2 2-1 1-2 1-3 1-1 0-3 0-4-1 0 0-1-1-2-2 0-1-1-2-1-3 0 0 1-1 1-2 1-1 2-2 2-2 1-1 3-1 4-1 1 0 2 0 3 1 1 0 2 1 2 2 1 1 1 2 1 2z" fill="#00f5f5"/><use href="#b23" fill="#00f5f5" stroke="#00f5f5" stroke-width="13"/><use href="#b24" fill="none" stroke="#00f5f5" stroke-width="18"/><use href="#b27" fill="#00f5f5" stroke="#00f5f5" stroke-width="13"/><path d="M188 442c0 2-1 4-1 5-1 2-2 3-3 4-1 1-2 1-3 1-1 0-2 0-3-1-1-1-2-2-2-4-1-1-1-3-1-5 0-2 0-4 1-6 0-1 1-3 2-4 1 0 2-1 3-1 1 0 2 1 3 1 1 1 2 3 3 4 0 2 1 4 1 6z" fill="#00f5f5"/><use href="#b29" fill="#00f5f5" stroke="#00f5f5" stroke-width="36"/><use href="#b30" fill="#00f5f5" stroke="#00f5f5" stroke-width="8"/><use href="#b31" fill="#00f5f5" stroke="#00f5f5" stroke-width="21"/><use href="#b32" fill="#00f5f5" stroke="#00f5f5" stroke-width="21"/><use href="#b33" fill="#00f5f5" stroke="#00f5f5" stroke-width="6"/><use href="#b36" fill="#00f5f5" stroke="#00f5f5" stroke-width="19"/><use href="#b37" fill="#00f5f5" stroke="#00f5f5" stroke-width="6"/><use href="#b39" fill="#00f5f5" stroke="#00f5f5" stroke-width="40"/><use href="#b40" fill="#00f5f5" stroke="#00f5f5" stroke-width="57"/><use href="#b41" fill="#00f5f5" stroke="#00f5f5" stroke-width="13"/><use href="#b42" fill="none" stroke="#00f5f5" stroke-width="22"/><use href="#b43" fill="#00f5f5" stroke="#00f5f5" stroke-width="11"/><use href="#b44" fill="#00f5f5" stroke="#00f5f5" stroke-width="13"/><use href="#b45" fill="#00f5f5" stroke="#00f5f5" stroke-width="8"/><use href="#b46" fill="#00f5f5" stroke="#00f5f5" stroke-width="8"/><use href="#b47" fill="#00f5f5" stroke="#00f5f5" stroke-width="8"/><use href="#b48" fill="#00f5f5" stroke="#00f5f5" stroke-width="8"/><use href="#b49" fill="#00f5f5" stroke="#00f5f5" stroke-width="6"/><use href="#b50" fill="#00f5f5" stroke="#00f5f5" stroke-width="8"/><use href="#b53" fill="#00f5f5" stroke="#00f5f5" stroke-width="15"/><use href="#b55" fill="none" stroke="#00f5f5" stroke-width="23"/><use href="#b56" fill="none" stroke="#00f5f5" stroke-width="12"/><use href="#b57" fill="#00f5f5" stroke="#00f5f5" stroke-width="11"/><use href="#b58" fill="#00f5f5" stroke="#00f5f5" stroke-width="25"/><use href="#b59" fill="none" stroke="#00f5f5" stroke-width="25"/><use href="#b60" fill="#00f5f5" stroke="#00f5f5" stroke-width="11"/><use href="#b61" fill="#00f5f5" stroke="#00f5f5" stroke-width="8"/><use href="#b62" fill="#00f5f5" stroke="#00f5f5" stroke-width="8"/><use href="#b63" fill="#00f5f5" stroke="#00f5f5" stroke-width="13"/><use href="#b64" fill="#00f5f5" stroke="#00f5f5" stroke-width="13"/><use href="#b65" fill="#00f5f5" stroke="#00f5f5" stroke-width="13"/><use href="#b66" fill="none" stroke="#00f5f5" stroke-width="23"/><use href="#b67" fill="#00f5f5" stroke="#00f5f5" stroke-width="11"/><use href="#b68" fill="#00f5f5" stroke="#00f5f5" stroke-width="6"/><use href="#b69" fill="#00f5f5" stroke="#00f5f5" stroke-width="8"/><path d="M722 585l0 17" fill="none" stroke="#00f5f5" stroke-width="5"/><use href="#b70" fill="#00f5f5" stroke="#00f5f5" stroke-width="13"/><use href="#b1" fill="#0ab428" stroke="#0ab428" stroke-width="4"/><use href="#b2" fill="none" stroke="#0ab428" stroke-width="4"/><use href="#b4" fill="#0ab428"/><use href="#b5" fill="#0ab428" stroke="#0ab428" stroke-width="6"/><use href="#b8" fill="#0ab428" stroke="#0ab428" stroke-width="5"/><use href="#b11" fill="#0ab428"/><use href="#b12" fill="none" stroke="#0ab428" stroke-width="30"/><use href="#b14" fill="none" stroke="#0ab428" stroke-width="11"/><use href="#b16" fill="#0ab428" stroke="#0ab428" stroke-width="4"/><use href="#b17" fill="#0ab428"/><use href="#b18" fill="#0ab428" stroke="#0ab428" stroke-width="29"/><use href="#b19" fill="#0ab428" stroke="#0ab428" stroke-width="5"/><use href="#b20" fill="#0ab428" stroke="#0ab428" stroke-width="11"/><path d="M716 179c2-3 15-3 19-2 5 1 8 7 9 11 0 4-3 11-7 12-3 2-11 2-15-2-3-3-8-15-6-19z" fill="#0ab428"/><use href="#b21" fill="#0ab428" stroke="#0ab428" stroke-width="17"/><use href="#b23" fill="#0ab428" stroke="#0ab428" stroke-width="6"/><use href="#b24" fill="none" stroke="#0ab428" stroke-width="14"/><path d="M394 365c0 1 0 2 0 3-1 1-1 2-2 3 0 0-1 0-2 0-1 0-1 0-2 0-1-1-1-2-2-3 0-1 0-2 0-3 0-1 0-2 0-3 1-1 1-2 2-3 1 0 1 0 2 0 1 0 2 0 2 0 1 1 1 2 2 3 0 1 0 2 0 3z" fill="#0ab428"/><use href="#b25" fill="#0ab428" stroke="#0ab428" stroke-width="11"/><use href="#b26" fill="#0ab428" stroke="#0ab428" stroke-width="8"/><use href="#b27" fill="#0ab428" stroke="#0ab428" stroke-width="6"/><use href="#b29" fill="#0ab428" stroke="#0ab428" stroke-width="30"/><use href="#b30" fill="#0ab428" stroke="#0ab428" stroke-width="4"/><use href="#b33" fill="#0ab428"/><use href="#b34" fill="#0ab428" stroke="#0ab428" stroke-width="4"/><use href="#b37" fill="#0ab428"/><use href="#b39" fill="#0ab428" stroke="#0ab428" stroke-width="32"/><use href="#b40" fill="#0ab428" stroke="#0ab428" stroke-width="49"/><use href="#b41" fill="#0ab428" stroke="#0ab428" stroke-width="6"/><use href="#b42" fill="none" stroke="#0ab428" stroke-width="16"/><use href="#b43" fill="#0ab428" stroke="#0ab428" stroke-width="4"/><use href="#b44" fill="#0ab428" stroke="#0ab428" stroke-width="4"/><use href="#b45" fill="#0ab428"/><use href="#b46" fill="#0ab428" stroke="#0ab428" stroke-width="4"/><use href="#b47" fill="#0ab428" stroke="#0ab428" stroke-width="4"/><use href="#b48" fill="#0ab428" stroke="#0ab428" stroke-width="4"/><use href="#b50" fill="#0ab428" stroke="#0ab428" stroke-width="4"/><use href="#b53" fill="#0ab428" stroke="#0ab428" stroke-width="10"/><use href="#b55" fill="none" stroke="#0ab428" stroke-width="19"/><use href="#b56" fill="none" stroke="#0ab428" stroke-width="5"/><use href="#b57" fill="#0ab428" stroke="#0ab428" stroke-width="4"/><use href="#b59" fill="none" stroke="#0ab428" stroke-width="19"/><use href="#b60" fill="#0ab428" stroke="#0ab428" stroke-width="6"/><use href="#b61" fill="#0ab428" stroke="#0ab428" stroke-width="4"/><use href="#b62" fill="#0ab428" stroke="#0ab428" stroke-width="4"/><use href="#b63" fill="#0ab428" stroke="#0ab428" stroke-width="6"/><use href="#b64" fill="#0ab428" stroke="#0ab428" stroke-width="6"/><use href="#b65" fill="#0ab428" stroke="#0ab428" stroke-width="6"/><use href="#b66" fill="none" stroke="#0ab428" stroke-width="17"/><use href="#b67" fill="#0ab428" stroke="#0ab428" stroke-width="6"/><use href="#b68" fill="#0ab428"/><use href="#b69" fill="#0ab428" stroke="#0ab428" stroke-width="4"/><use href="#b1" fill="#78d20a"/><use href="#b3" fill="none" stroke="#78d20a" stroke-width="8"/><use href="#b5" fill="#78d20a"/><use href="#b7" fill="#78d20a" stroke="#78d20a" stroke-width="11"/><use href="#b8" fill="#78d20a"/><use href="#b12" fill="none" stroke="#78d20a" stroke-width="24"/><use href="#b15" fill="#78d20a" stroke="#78d20a" stroke-width="8"/><use href="#b16" fill="#78d20a"/><use href="#b18" fill="#78d20a" stroke="#78d20a" stroke-width="23"/><use href="#b19" fill="#78d20a"/><use href="#b20" fill="#78d20a" stroke="#78d20a" stroke-width="5"/><use href="#b21" fill="#78d20a" stroke="#78d20a" stroke-width="8"/><path d="M712 9c9-3 64-3 74 0 11 2-1 10-10 12-9 2-32 2-43 0-11-2-30-10-21-12z" fill="#78d20a"/><use href="#b23" fill="#78d20a"/><use href="#b24" fill="none" stroke="#78d20a" stroke-width="10"/><use href="#b25" fill="#78d20a" stroke="#78d20a" stroke-width="6"/><use href="#b26" fill="#78d20a" stroke="#78d20a" stroke-width="4"/><use href="#b29" fill="#78d20a" stroke="#78d20a" stroke-width="23"/><use href="#b30" fill="#78d20a"/><use href="#b31" fill="#78d20a" stroke="#78d20a" stroke-width="15"/><use href="#b32" fill="#78d20a" stroke="#78d20a" stroke-width="15"/><use href="#b36" fill="#78d20a" stroke="#78d20a" stroke-width="13"/><use href="#b39" fill="#78d20a" stroke="#78d20a" stroke-width="23"/><use href="#b40" fill="#78d20a" stroke="#78d20a" stroke-width="42"/><use href="#b41" fill="#78d20a"/><use href="#b42" fill="none" stroke="#78d20a" stroke-width="13"/><use href="#b43" fill="#78d20a"/><use href="#b44" fill="#78d20a"/><use href="#b46" fill="#78d20a"/><use href="#b47" fill="#78d20a"/><use href="#b48" fill="#78d20a"/><use href="#b49" fill="#78d20a"/><use href="#b50" fill="#78d20a"/><use href="#b53" fill="#78d20a" stroke="#78d20a" stroke-width="5"/><use href="#b55" fill="none" stroke="#78d20a" stroke-width="15"/><use href="#b57" fill="#78d20a"/><use href="#b58" fill="#78d20a" stroke="#78d20a" stroke-width="19"/><use href="#b59" fill="none" stroke="#78d20a" stroke-width="15"/><use href="#b60" fill="#78d20a" stroke="#78d20a" stroke-width="3"/><use href="#b61" fill="#78d20a"/><use href="#b62" fill="#78d20a"/><use href="#b63" fill="#78d20a" stroke="#78d20a" stroke-width="3"/><use href="#b64" fill="#78d20a" stroke="#78d20a" stroke-width="3"/><use href="#b65" fill="#78d20a" stroke="#78d20a" stroke-width="3"/><use href="#b66" fill="none" stroke="#78d20a" stroke-width="13"/><use href="#b67" fill="#78d20a"/><use href="#b69" fill="#78d20a"/><use href="#b70" fill="#78d20a" stroke="#78d20a" stroke-width="6"/><use href="#b12" fill="none" stroke="#b4e614" stroke-width="18"/><use href="#b14" fill="none" stroke="#b4e614" stroke-width="4"/><use href="#b18" fill="#b4e614" stroke="#b4e614" stroke-width="18"/><use href="#b20" fill="#b4e614"/><use href="#b21" fill="#b4e614"/><use href="#b24" fill="none" stroke="#b4e614" stroke-width="5"/><use href="#b27" fill="#b4e614"/><use href="#b29" fill="#b4e614" stroke="#b4e614" stroke-width="17"/><path d="M111 546c4-2 15 2 25 2 10 1 29 1 35 2 5 2 5 7-3 9-7 2-30 2-40 2-10 0-16 0-19-2-3-3-3-11 2-13z" fill="#b4e614"/><path d="M100 580c5-4 28-3 36-2 9 1 14 5 13 9 0 4-10 12-17 15-7 2-20 5-25 2-6-4-12-19-7-24z" fill="#b4e614"/><use href="#b34" fill="#b4e614"/><use href="#b39" fill="#b4e614" stroke="#b4e614" stroke-width="17"/><use href="#b40" fill="#b4e614" stroke="#b4e614" stroke-width="36"/><use href="#b42" fill="none" stroke="#b4e614" stroke-width="9"/><path d="M616 408c7-1 35 0 42 1 8 1 8 4 0 5-7 1-35 1-42 0-7-1-7-5 0-6z" fill="#b4e614"/><path d="M594 448c0 1 0 2-1 3-1 1-3 2-5 3-2 0-4 1-6 1-2 0-5-1-7-1-2-1-3-2-4-3-1-1-2-2-2-3 0-1 1-2 2-3 1-1 2-2 4-2 2-1 5-1 7-1 2 0 4 0 6 1 2 0 4 1 5 2 1 1 1 2 1 3z" fill="#b4e614"/><use href="#b51" fill="none" stroke="#b4e614" stroke-width="19"/><path d="M428 444c4 2 16 7 24 11 7 3 17 10 21 12" fill="none" stroke="#b4e614" stroke-width="5"/><use href="#b55" fill="none" stroke="#b4e614" stroke-width="8"/><use href="#b60" fill="#b4e614"/><use href="#b63" fill="#b4e614"/><use href="#b64" fill="#b4e614"/><use href="#b65" fill="#b4e614"/><use href="#b66" fill="none" stroke="#b4e614" stroke-width="10"/><use href="#b3" fill="none" stroke="#ffff00" stroke-width="4"/><use href="#b6" fill="#ffff00" stroke="#ffff00" stroke-width="11"/><path d="M256 292c5-2 35-5 42-4 8 1 10 8 5 10-6 3-29 4-37 3-7-1-15-7-10-9z" fill="#ffff00"/><use href="#b7" fill="#ffff00" stroke="#ffff00" stroke-width="6"/><use href="#b9" fill="#ffff00" stroke="#ffff00" stroke-width="13"/><use href="#b10" fill="#ffff00" stroke="#ffff00" stroke-width="4"/><path d="M411 51c8 0 29 0 45 0 16 0 44 1 53 1" fill="none" stroke="#ffff00" stroke-width="7"/><use href="#b15" fill="#ffff00" stroke="#ffff00" stroke-width="4"/><use href="#b18" fill="#ffff00" stroke="#ffff00" stroke-width="13"/><path d="M744 21c4-5 23 7 32 5 9-3 9-15 21-17 12-3 42-9 51 0 8 8 5 43 0 51-5 8-19-4-30-5-10-1-20-2-32-2-11 0-31 8-38 2-7-5-9-29-4-34z" fill="#ffff00"/><use href="#b25" fill="#ffff00"/><use href="#b26" fill="#ffff00"/><use href="#b29" fill="#ffff00" stroke="#ffff00" stroke-width="11"/><use href="#b31" fill="#ffff00" stroke="#ffff00" stroke-width="8"/><use href="#b32" fill="#ffff00" stroke="#ffff00" stroke-width="8"/><use href="#b35" fill="#ffff00" stroke="#ffff00" stroke-width="6"/><use href="#b36" fill="#ffff00" stroke="#ffff00" stroke-width="7"/><use href="#b39" fill="#ffff00" stroke="#ffff00" stroke-width="11"/><use href="#b40" fill="#ffff00" stroke="#ffff00" stroke-width="30"/><path d="M379 467c4-1 19 3 26 7 7 3 19 11 19 15 0 3-12 5-19 4-7-2-17-9-21-13-5-4-8-12-5-13z" fill="#ffff00"/><use href="#b42" fill="none" stroke="#ffff00" stroke-width="5"/><use href="#b51" fill="none" stroke="#ffff00" stroke-width="15"/><use href="#b52" fill="#ffff00" stroke="#ffff00" stroke-width="6"/><use href="#b53" fill="#ffff00"/><path d="M648 504c0 1-1 3-2 4-1 1-2 2-4 3-1 1-3 1-5 1-2 0-4 0-5-1-2-1-3-2-4-3-1-1-2-3-2-4 0-2 1-3 2-5 1-1 2-2 4-3 1-1 3-1 5-1 2 0 4 0 5 1 2 1 3 2 4 3 1 2 2 3 2 5z" fill="#ffff00"/><use href="#b58" fill="#ffff00" stroke="#ffff00" stroke-width="15"/><use href="#b59" fill="none" stroke="#ffff00" stroke-width="8"/><use href="#b66" fill="none" stroke="#ffff00" stroke-width="6"/><use href="#b70" fill="#ffff00"/><use href="#b6" fill="#ffb414" stroke="#ffb414" stroke-width="4"/><use href="#b13" fill="none" stroke="#ffb414" stroke-width="11"/><use href="#b18" fill="#ffb414" stroke="#ffb414" stroke-width="6"/><use href="#b22" fill="#ffb414" stroke="#ffb414" stroke-width="6"/><use href="#b29" fill="#ffb414" stroke="#ffb414" stroke-width="5"/><use href="#b31" fill="#ffb414" stroke="#ffb414" stroke-width="4"/><use href="#b32" fill="#ffb414" stroke="#ffb414" stroke-width="4"/><use href="#b39" fill="#ffb414" stroke="#ffb414" stroke-width="5"/><use href="#b40" fill="#ffb414" stroke="#ffb414" stroke-width="24"/><use href="#b58" fill="#ffb414" stroke="#ffb414" stroke-width="11"/><use href="#b6" fill="#ff8c0a"/><use href="#b7" fill="#ff8c0a" stroke="#ff8c0a" stroke-width="2"/><path d="M324 270c0 0-1 1-1 2 0 0-1 1-1 1-1 0-2 1-2 1-1 0-2-1-2-1-1 0-1-1-2-1 0-1 0-2 0-2 0-1 0-2 0-2 1-1 1-1 2-2 0 0 1 0 2 0 0 0 1 0 2 0 0 1 1 1 1 2 0 0 1 1 1 2z" fill="#ff8c0a"/><use href="#b9" fill="#ff8c0a" stroke="#ff8c0a" stroke-width="6"/><use href="#b10" fill="#ff8c0a"/><use href="#b13" fill="none" stroke="#ff8c0a" stroke-width="6"/><use href="#b15" fill="#ff8c0a"/><use href="#b18" fill="#ff8c0a"/><use href="#b22" fill="#ff8c0a"/><path d="M130 408c2-2 12-4 15-3 3 2 6 7 4 9-2 2-11 3-15 2-3-1-6-7-4-8z" fill="#ff8c0a"/><use href="#b28" fill="#ff8c0a" stroke="#ff8c0a" stroke-width="4"/><use href="#b29" fill="#ff8c0a"/><use href="#b31" fill="#ff8c0a"/><use href="#b32" fill="#ff8c0a"/><use href="#b35" fill="#ff8c0a" stroke="#ff8c0a" stroke-width="2"/><use href="#b36" fill="#ff8c0a" stroke="#ff8c0a" stroke-width="3"/><use href="#b39" fill="#ff8c0a"/><use href="#b40" fill="#ff8c0a" stroke="#ff8c0a" stroke-width="19"/><path d="M337 467c2-3 12 0 15 5 3 4 4 18 2 21-2 3-10 0-13-4-3-5-6-19-4-22z" fill="#ff8c0a"/><use href="#b51" fill="none" stroke="#ff8c0a" stroke-width="11"/><use href="#b52" fill="#ff8c0a"/><use href="#b54" fill="#ff8c0a" stroke="#ff8c0a" stroke-width="6"/><use href="#b58" fill="#ff8c0a" stroke="#ff8c0a" stroke-width="6"/><path d="M779 528c0 1 0 2-1 3 0 1-1 1-2 2-1 0-2 0-2 0-1 0-2 0-3 0-1-1-2-1-2-2 0-1-1-2-1-3 0-1 1-2 1-3 0 0 1-1 2-2 1 0 2 0 3 0 0 0 1 0 2 0 1 1 2 2 2 2 1 1 1 2 1 3z" fill="#ff8c0a"/><path d="M772 614c0 1 0 2-1 3 0 0-1 1-2 1-1 0-3 1-4 1-1 0-3-1-4-1-1 0-2-1-2-1-1-1-1-2-1-3 0 0 0-1 1-2 0 0 1-1 2-1 1-1 3-1 4-1 1 0 3 0 4 1 1 0 2 1 2 1 1 1 1 2 1 2z" fill="#ff8c0a"/><use href="#b7" fill="#ff1e0a"/><use href="#b9" fill="#ff1e0a" stroke="#ff1e0a" stroke-width="3"/><use href="#b28" fill="#ff1e0a"/><use href="#b35" fill="#ff1e0a"/><use href="#b36" fill="#ff1e0a"/><use href="#b38" fill="#ff1e0a" stroke="#ff1e0a" stroke-width="20"/><use href="#b40" fill="#ff1e0a"/><use href="#b51" fill="none" stroke="#ff1e0a" stroke-width="6"/><use href="#b54" fill="#ff1e0a"/><use href="#b58" fill="#ff1e0a"/><use href="#b9" fill="#7832a0"/><path d="M152 516c0 1 0 2-1 2 0 1-1 1-2 2 0 0-1 0-2 0-1 0-2 0-2 0-1-1-2-1-2-2 0 0-1-1-1-2 0 0 1-1 1-2 0 0 1-1 2-1 0 0 1 0 2 0 1 0 2 0 2 0 1 0 2 1 2 1 1 1 1 2 1 2z" fill="#7832a0"/><path d="M259 584c0 0-1 1-1 1 0 1-1 2-1 2-1 0-2 0-2 0-1 0-2 0-2 0-1 0-1-1-2-2 0 0 0-1 0-1 0-1 0-2 0-2 1-1 1-1 2-2 0 0 1 0 2 0 0 0 1 0 2 0 0 1 1 1 1 2 0 0 1 1 1 2z" fill="#7832a0"/><use href="#b38" fill="#7832a0"/><path d="M398 521c0 1-1 2-1 3-1 1-2 2-3 2-1 1-3 1-4 1-1 0-3 0-4-1-1 0-2-1-2-2-1-1-1-2-1-3 0-1 0-3 1-4 0-1 1-1 2-2 1 0 3-1 4-1 1 0 3 1 4 1 1 1 2 1 3 2 0 1 1 3 1 4z" fill="#7832a0"/><path d="M542 558c0 0 0 1 0 2 0 0-1 0-1 1-1 0-1 0-2 0 0 0-1 0-2 0 0-1 0-1-1-1 0-1 0-2 0-2 0-1 0-1 0-2 1 0 1-1 1-1 1 0 2 0 2 0 1 0 1 0 2 0 0 0 1 1 1 1 0 1 0 1 0 2z" fill="#7832a0"/><path d="M722 524c0 0 0 1-1 2 0 0 0 1-1 1-1 0-1 1-2 1-1 0-1-1-2-1 0 0-1-1-1-1-1-1-1-2-1-2 0-1 0-2 1-2 0-1 1-1 1-2 1 0 1 0 2 0 1 0 1 0 2 0 1 1 1 1 1 2 1 0 1 1 1 2z" fill="#7832a0"/></g></g><path fill="#fff" d="M329 442l2 0 44 194-15 0z"/><path fill="#fff" d="M85 548l2 0 13 64-6 0z"/><path fill="#fff" d="M599 457l1 0 47 179-12 0z"/><path fill="#fff" d="M769 619l5 0 10 12-8 3z"/><path fill="#fff" d="M470 495l6-15 5-17 5-4-1 17-8 19z"/><path fill="#fff" d="M375 53l30-12 6 19-17 6z"/><path fill="#fff" d="M698 47l19 0 0 8-19 0z"/><path fill="#fff" d="M766 71l15 0 0 7-15 0z"/><path fill="#fff" d="M818 82l22 0 0 7-22 0z"/><path fill="#fff" d="M443 350l5 0 0 5-5 0z"/><path fill="#fff" d="M481 543l5 0 0 4-5 0z"/><path fill="#fff" d="M461 555l5 0 0 4-5 0z"/><path fill="#fff" d="M547 556l5 0 0 4-5 0z"/><path fill="#fff" d="M656 513l5 0 0 5-5 0z"/><path fill="#fff" d="M728 477l4 0 0 5-4 0z"/><path fill="#fff" d="M664 577l4 0 0 5-4 0z"/><path fill="#fff" d="M756 558l5 0 0 4-5 0z"/><path fill="#fff" d="M749 541l5 0 0 4-5 0z"/><path fill="#fff" d="M718 547l5 0 0 5-5 0z"/><path fill="#fff" d="M705 533l5 0 0 5-5 0z"/><path fill="#fff" d="M729 527l4 0 0 4-4 0z"/><path fill="#fff" d="M697 517l8 0 0 13-8 0z"/><use href="#land"/><g stroke="#000" stroke-width="9.5" stroke-dasharray="9.5 9.7" fill="none"><line x1="211.3" y1="13.7" x2="211.3" y2="635.1"/><line x1="423" y1="13.7" x2="423" y2="635.1"/><line x1="634.7" y1="13.7" x2="634.7" y2="635.1"/><line x1="-1" y1="211.3" x2="849.8" y2="211.3"/><line x1="-1" y1="423" x2="849.8" y2="423"/></g></g><rect x="0" y="0" width="846.8" height="635.1" fill="none" stroke="#000" stroke-width="7"/></g>
<g transform="translate(197.7 971.8)"><g clip-path="url(#cp)"><g filter="url(#bl)"><defs><path id="c1" d="M426 136c-2 3-9 13-15 17-5 5-11 10-17 13-5 4-12 7-15 8"/><path id="c2" d="M426 213c-3 3-13 10-21 15-8 5-16 10-26 13-9 3-19 5-29 6-10 2-25 4-30 5"/><path id="c3" d="M327 261c0 1 0 2-1 3 0 1-1 2-2 3-2 0-3 1-4 1-1 0-3-1-4-1-1-1-2-2-3-3 0-1-1-2-1-3 0-1 1-2 1-3 1-1 2-2 3-2 1-1 3-1 4-1 1 0 2 0 4 1 1 0 2 1 2 2 1 1 1 2 1 3z"/><path id="c4" d="M215 254c2-3 12-5 15-2 3 2 4 11 2 14-1 4-10 7-12 5-3-2-6-14-5-17z"/><path id="c5" d="M271 266c0 2-1 3-1 4-1 1-2 2-2 3-1 1-3 1-4 1-1 0-2 0-3-1-1-1-2-2-2-3-1-1-1-2-1-4 0-1 0-2 1-3 0-1 1-2 2-3 1-1 2-1 3-1 1 0 3 0 4 1 0 1 1 2 2 3 0 1 1 2 1 3z"/><path id="c6" d="M307 273c0 1 0 2 0 3-1 1-2 2-3 3-1 1-3 2-4 3-2 1-4 1-5 1-2 1-3 1-5 0-1 0-1-1-2-2 0 0 0-1 0-3 1-1 2-2 3-3 1-1 3-2 4-3 2 0 4-1 5-1 2 0 3 0 4 0 1 0 2 1 3 2z"/><path id="c7" d="M277 286c4-2 19 0 26 2 6 2 12 7 13 10 0 4-3 9-9 9-6 0-21-5-26-9-5-3-7-11-4-12z"/><path id="c8" d="M335 298c3-1 9-8 17-10 8-3 19-3 32-4 12-2 35-2 42-3"/><path id="c9" d="M405 274c0 1 0 2-1 3-1 0-2 1-3 2-1 0-3 0-4 0-2 0-3 0-5 0-1-1-2-2-3-2-1-1-1-2-1-3 0-1 0-2 1-3 1 0 2-1 3-2 2 0 3 0 5 0 1 0 3 0 4 0 1 1 2 2 3 2 1 1 1 2 1 3z"/><path id="c10" d="M425 46c0 1 0 3-1 5-1 1-2 2-3 3-2 1-4 1-5 1-2 0-4 0-5-1-1-1-3-2-4-3 0-2-1-4-1-5 0-2 1-4 1-5 1-1 3-3 4-3 1-1 3-2 5-2 1 0 3 1 5 2 1 0 2 2 3 3 1 1 1 3 1 5z"/><path id="c11" d="M424 21c2-7 10-3 13 0 3 4 6 15 6 22 0 7-3 17-6 21-3 4-11 7-13 0-2-7-2-36 0-43z"/><path id="c12" d="M452 56c6 0 25-1 36-1 11 0 23 1 32 1 9 1 19 2 23 3"/><path id="c13" d="M556 23c2-4 11-6 17-6 6 0 14 3 17 9 3 5 3 21 0 25-3 5-12 4-17 2-5-1-10-5-13-10-2-5-6-15-4-20z"/><path id="c14" d="M467 66c1 4 4 17 6 24 2 6 5 14 6 17"/><path id="c15" d="M441 102c0 2 0 4 0 5-1 2-1 3-2 4-1 0-1 1-2 1-1 0-2-1-3-1 0-1-1-2-1-4-1-1-1-3-1-5 0-1 0-3 1-4 0-2 1-3 1-4 1-1 2-1 3-1 1 0 1 0 2 1 1 1 1 2 2 4 0 1 0 3 0 4z"/><path id="c16" d="M424 119c2-6 8-7 11-2 2 5 3 26 2 32-2 6-11 9-13 4-2-4-2-28 0-34z"/><path id="c17" d="M467 124c0 1 0 2-1 3 0 0-1 1-2 2-1 0-2 1-3 1-1 0-2-1-3-1-1-1-1-2-2-2 0-1-1-2-1-3 0-1 1-2 1-3 1-1 1-2 2-3 1 0 2 0 3 0 1 0 2 0 3 0 1 1 2 2 2 3 1 1 1 2 1 3z"/><path id="c18" d="M678 17c-2 10-3 34-3 47 0 13 2 21 3 32 0 11 0 22 2 32 2 10 5 18 10 25 6 8 15 15 22 22 7 6 14 9 21 17 8 8 15 26 24 30 8 3 17-4 29-9 12-5 33-17 43-21 10-4 16 27 19-4 3-31 27-151 0-182-27-30-133-1-162 0-28 2-7 1-8 11z"/><path id="c19" d="M776 119c5 0 19 0 32-1 12 0 35-1 42-1"/><path id="c20" d="M808 131c3 0 14 1 21 2 7 1 18 3 21 3"/><path id="c21" d="M791 87c-2-3 7-7 17-8 9-1 33 1 40 4 6 4 5 14 0 17-5 3-20 4-30 2-9-2-26-11-27-15z"/><path id="c22" d="M850 232c-3 4-14 16-21 22-7 6-14 10-21 15-7 4-15 9-22 12-7 4-14 8-21 11-7 3-12 4-21 6-9 3-22 5-32 7-11 2-22 3-32 4-11 2-22 4-32 5-11 2-27 5-32 6"/><path id="c23" d="M424 235c3-8 12-5 17-3 5 3 10 9 11 15 0 6-2 17-7 22-4 5-18 14-21 8-4-6-3-35 0-42z"/><path id="c24" d="M502 308c-1 1-2 2-3 3-2 0-4 1-6 0-3 0-5 0-8-1-2-1-5-2-6-4-2-1-4-3-5-4 0-2-1-3 0-4 0-2 1-3 3-3 2-1 4-1 6-1 2 0 5 1 7 2 3 1 5 2 7 3 2 2 4 3 4 5 1 1 1 3 1 4z"/><path id="c25" d="M254 380c2-4 11-5 12-2 2 2 1 13-2 17-2 3-11 7-12 4-2-2-1-16 2-19z"/><path id="c26" d="M64 414c4-4 21-5 26-2 4 2 3 11 2 17-2 6-7 16-11 17-4 1-10-3-13-9-3-5-8-19-4-23z"/><path id="c27" d="M111 433c3-3 15-4 25-4 10 0 29 1 35 4 5 3 5 10 0 13-6 3-25 4-35 4-9 0-17-1-21-4-4-3-8-10-4-13z"/><path id="c28" d="M136 463c0 1 0 2 0 3-1 1-2 2-3 3-1 0-2 0-3 0-1 0-2 0-3 0-1-1-2-2-2-3-1-1-1-2-1-3 0-1 0-2 1-3 0-1 1-2 2-2 1-1 2-1 3-1 1 0 2 0 3 1 1 0 2 1 3 2 0 1 0 2 0 3z"/><path id="c29" d="M110 487c0 0 0 1-1 2 0 1-1 2-2 2-1 1-2 1-3 1 0 0-1 0-2-1-1 0-2-1-2-2-1-1-1-2-1-2 0-1 0-2 1-3 0-1 1-2 2-2 1-1 2-1 2-1 1 0 2 0 3 1 1 0 2 1 2 2 1 1 1 2 1 3z"/><path id="c30" d="M143 525c3-2 18 0 23 2 6 2 11 10 11 13 0 3-6 4-11 4-5 0-15-1-19-4-4-3-7-13-4-15z"/><path id="c31" d="M132 506c2-4 12 1 17 4 5 3 7 10 13 13 6 3 19 0 21 4 3 4 0 17-4 21-3 5-11 4-17 5-6 0-13 3-17 0-4-4-6-14-9-22-2-8-6-22-4-25z"/><path id="c32" d="M72 523c6-5 25-8 35-9 10 0 20-2 25 4 5 7 5 26 4 35 0 8-3 17-8 17-5 0-13-12-21-17-9-5-27-8-32-13-6-5-8-13-3-17z"/><path id="c33" d="M4 506c2-5 12-5 15 0 3 4 4 20 2 25-2 5-12 9-15 5-2-5-4-25-2-30z"/><path id="c34" d="M21 523c5-5 23 0 28 4 5 4 5 14 2 21-2 8-15 18-17 26-1 8 9 18 9 21 0 3-5 3-9-4-3-7-11-27-13-38-2-12-4-26 0-30z"/><path id="c35" d="M188 544c2-5 9-12 17-15 7-3 22-6 27-2 5 4 6 20 3 26-4 6-15 10-22 10-7 1-17-3-21-6-4-3-7-8-4-13z"/><path id="c36" d="M224 574c2-4 14-14 21-13 7 1 20 13 21 17 2 4-5 8-10 9-5 1-16 0-21-2-6-3-13-7-11-11z"/><path id="c37" d="M192 587c2-4 17-7 21-5 4 3 7 16 4 20-2 3-14 4-19 2-4-3-9-14-6-17z"/><path id="c38" d="M241 446c6-5 25-3 36-4 12-2 21-5 32-5 11 0 29 2 36 5 8 3 10 7 9 13-1 5-7 14-13 21-6 6-14 11-21 17-7 6-14 14-22 17-7 3-16 2-21 0-5-2-7-9-11-13-3-4-6-8-10-13-4-4-13-6-15-12-3-7-6-21 0-26z"/><path id="c39" d="M235 429c3-6 17-17 31-24 15-6 36-12 54-12 18-1 36 4 53 8 17 5 42 13 51 19 8 7 10 20 0 22-10 2-41-7-62-9-20-2-44-5-64-4-19 1-42 13-53 13-10 0-14-7-10-13z"/><path id="c40" d="M352 446c3-5 20-9 32-9 12 0 33 4 40 9 7 5 5 19 0 21-5 2-19-8-30-8-10 0-24 10-32 8-7-2-14-16-10-21z"/><path id="c41" d="M362 489c6-3 22 0 32 4 11 3 25 11 30 17 5 6 5 16 0 17-5 1-19-6-30-9-10-2-26-3-32-8-5-5-5-19 0-21z"/><path id="c42" d="M362 467c4-3 27-6 35-4 7 2 12 12 8 15-4 3-25 6-32 4-7-2-14-11-11-15z"/><path id="c43" d="M284 531c-1 7-3 25-5 43-1 17-3 52-4 62"/><path id="c44" d="M488 320c12 1 53 4 75 4 21 1 37 2 53 2 16-1 25-1 42-3 18-1 54-6 64-7"/><path id="c45" d="M424 442c3-17 12-5 17-2 5 2 10 8 13 15 2 6 3 16 2 25-2 9-8 21-11 30-2 9 0 21-4 26-4 5-14 19-17 4-3-16-3-82 0-98z"/><path id="c46" d="M467 381c0 1-1 3-3 4-2 1-4 2-7 2-3 1-6 1-10 1-3 0-6 0-9-1-3 0-6-1-7-2-2-1-3-3-3-4 0-1 1-3 3-4 1-1 4-2 7-2 3-1 6-1 9-1 4 0 7 0 10 1 3 0 5 1 7 2 2 1 3 3 3 4z"/><path id="c47" d="M500 487c-1 0-2 1-3 1-1 1-2 1-3 0-2 0-3 0-5-1-1-1-2-2-3-3-1-1-1-2-2-3 0-1 0-2 1-3 0-1 1-1 2-2 1 0 2 0 4 0 1 0 3 1 4 2 1 0 2 1 3 2 1 1 2 3 2 4 0 1 0 2 0 3z"/><path id="c48" d="M580 433c4-4 17-5 25-4 8 1 20 6 24 13 3 6 0 17-3 25-2 8-9 15-10 22-1 6 8 13 4 17-3 3-18 5-26 4-7-1-19-7-21-13-1-6 12-14 13-21 1-7-8-14-9-21-1-8-2-18 3-22z"/><path id="c49" d="M592 440c3-4 15-4 20-3 4 2 8 8 8 11 0 4-4 9-8 11-5 1-14 1-18-2-3-4-4-14-2-17z"/><path id="c50" d="M513 501c5-7 15-5 22-2 6 3 14 13 17 22 2 8 1 23-2 32-3 8-9 18-15 21-6 3-17 1-22-4-5-5-8-15-8-26 0-11 3-35 8-43z"/><path id="c51" d="M563 531c4-3 21-4 31-4 11 0 27-1 32 4 5 6 4 25-2 30-5 5-20 0-30-2-9-2-24-6-29-11-6-4-7-13-2-17z"/><path id="c52" d="M552 574c3-3 17-4 21-2 4 2 7 12 4 15-2 2-17 2-21 0-4-2-7-11-4-13z"/><path id="c53" d="M648 455c3-6 12-15 21-18 9-2 22-2 32 0 10 3 23 8 28 13 5 5 7 14 2 17-5 3-20 0-30 0-10 0-23 0-32 0-9 1-18 7-21 5-4-3-4-12 0-17z"/><path id="c54" d="M686 449c0 2-1 4-1 5-1 1-1 3-2 4-1 0-1 1-2 1-1 0-2-1-3-1 0-1-1-3-1-4-1-1-1-3-1-5 0-1 0-3 1-5 0-1 1-2 1-3 1-1 2-1 3-1 1 0 1 0 2 1 1 1 1 2 2 3 0 2 1 4 1 5z"/><path id="c55" d="M717 453c0 1 0 2-1 2-1 1-2 1-3 2-1 0-2 0-3 0-2 0-3 0-4 0-1-1-2-1-3-2 0 0-1-1-1-2 0 0 1-1 1-1 1-1 2-2 3-2 1 0 2 0 4 0 1 0 2 0 3 0 1 0 2 1 3 2 1 0 1 1 1 1z"/><path id="c56" d="M718 425c0 1 0 2-1 2 0 1-1 2-2 2-1 1-2 1-3 1-1 0-3 0-3-1-1 0-2-1-3-2 0 0-1-1-1-2 0-1 1-2 1-3 1-1 2-1 3-2 0 0 2-1 3-1 1 0 2 1 3 1 1 1 2 1 2 2 1 1 1 2 1 3z"/><path id="c57" d="M656 403c3-1 15-2 24-2 8 1 24 2 27 4 4 3 2 8-6 9-7 1-31 0-38-2-8-2-10-7-7-9z"/><path id="c58" d="M757 434c0 1-1 2-2 3-1 1-3 1-5 2-2 0-4 1-6 1-2 0-5-1-7-1-2-1-3-1-4-2-1-1-2-2-2-3 0-1 1-2 2-2 1-1 2-2 4-2 2-1 5-1 7-1 2 0 4 0 6 1 2 0 4 1 5 2 1 0 2 1 2 2z"/><path id="c59" d="M722 480c3-2 23 1 32 2 9 2 16 3 22 7 5 4 12 13 10 17-1 3-13 5-21 4-8-1-18-8-26-13-7-5-19-14-17-17z"/><path id="c60" d="M812 450c2-7 11-20 17-25 6-6 16-20 19-9 3 11 3 61 0 73-3 11-14-1-19-5-5-3-10-11-13-17-3-5-6-10-4-17z"/><path id="c61" d="M739 553c5-8 16-10 26-11 10-1 23 3 32 6 9 4 13 15 21 15 9 1 25-23 30-10 5 12 17 69 0 83-18 14-89 5-104 0-15-5 13-22 13-30-1-9-15-13-18-21-2-9-4-25 0-32z"/><path id="c62" d="M687 509c1 1 1 3 1 5 0 2-1 3-1 4-1 1-1 2-2 2-1 0-2 0-3 0-1-1-2-2-3-4-1-1-2-3-2-5-1-1-1-3-1-5 0-2 0-3 1-4 0-1 1-2 2-2 1-1 2 0 3 0 1 1 2 2 3 4 1 1 2 3 2 5z"/><path id="c63" d="M706 564c1 2 1 4 1 6-1 1-1 3-2 4 0 1-1 2-2 2-1 0-2 0-3-1-1-1-2-2-3-4 0-1-1-3-1-5 0-1-1-3 0-5 0-2 0-3 1-4 0-1 1-2 2-2 1 0 2 0 3 1 1 1 2 2 3 3 0 2 1 4 1 5z"/><path id="c64" d="M661 610c0 1-1 2-2 3-1 1-2 1-4 2-1 0-3 0-5 0-2 0-4 0-5 0-2-1-3-1-4-2-1-1-2-2-2-3 0-1 1-2 2-3 1 0 2-1 4-1 1-1 3-1 5-1 2 0 4 0 5 1 2 0 3 1 4 1 1 1 2 2 2 3z"/><path id="c65" d="M729 612c0 2-1 4-1 6-1 1-1 3-2 4-1 0-3 1-4 1-1 0-2-1-3-1-1-1-2-3-2-4-1-2-1-4-1-6 0-1 0-4 1-5 0-2 1-3 2-4 1-1 2-1 3-1 1 0 3 0 4 1 1 1 1 2 2 4 0 1 1 4 1 5z"/><path id="c66" d="M629 612c0 2-1 4-1 6-1 1-2 3-3 4-1 0-2 1-3 1-1 0-2-1-3-1-1-1-2-3-2-4-1-2-1-4-1-6 0-1 0-4 1-5 0-2 1-3 2-4 1-1 2-1 3-1 1 0 2 0 3 1 1 1 2 2 3 4 0 1 1 4 1 5z"/><path id="c67" d="M677 595c0 2-1 3-1 4-1 2-1 3-2 4-1 0-2 1-3 1-1 0-2-1-2-1-1-1-2-2-2-4-1-1-1-2-1-4 0-1 0-3 1-4 0-1 1-2 2-3 0-1 1-1 2-1 1 0 2 0 3 1 1 1 1 2 2 3 0 1 1 3 1 4z"/></defs><g stroke-linejoin="round" stroke-linecap="round"><rect x="-5" y="-5" width="860" height="648" fill="#0d87f4"/><path d="M424 149c-3-4-12 12-19 17-7 5-12 10-21 13-9 3-23 4-32 6-9 3-18 4-24 7-6 3-9 8-12 13-4 5-10 12-9 17 1 5 5 11 13 13 7 1 21-1 32-3 10-1 20 1 32-6 12-7 33-21 40-34 7-13 3-39 0-43z" fill="#0662f9"/><path d="M232 217c6-9 23-1 30 3 7 3 10 11 11 21 1 10-8 27-7 36 2 10 10 15 15 21 6 7 25 17 17 20-7 3-52 7-63 0-12-7-4-24-5-41 0-17-3-50 2-60z" fill="#055cfa"/><path d="M203 220c2-3 16-5 19-3 3 3 3 13 0 15-3 3-14 3-17 0-4-2-5-10-2-12z" fill="#055cfa"/><path d="M333 303c15-4 76-7 91-5 15 3 15 17 0 20-15 3-76 2-91 0-16-3-16-12 0-15z" fill="#0fbdf1"/><path d="M424 6c28-23 138-6 166 0 29 6 3 23 4 37 2 13 8 34 5 47-4 12-17 17-26 25-9 8-19 16-30 21-10 6-21 8-34 13-13 5-32 17-42 17-10 0-10-14-17-17-8-3-22 24-26 0-4-24-28-119 0-143z" fill="#0a78f5"/><path d="M477 70c8-7 27 0 43-2 16-2 41-11 53-8 12 3 17 17 17 25 0 9-9 18-17 26-8 8-19 15-30 21-10 6-21 9-34 13-13 4-34 14-42 13-9-1-10-12-9-19 1-8 14-13 17-24 3-11-5-37 2-45z" fill="#0972f6"/><path d="M428 9c4-10 19-10 22 0 2 9-1 46-5 55-3 9-14 9-17 0-3-9-3-46 0-55z" fill="#0fbdf1"/><path d="M467 177c10-5 46 2 64-6 17-9 26-36 42-43 16-7 44-13 53 0 10 12 11 62 3 75-9 12-36 1-56 2-20 1-46 4-64 4-18 0-35-1-42-6-8-6-11-21 0-26z" fill="#055cfa"/><path d="M641 64c5-21 23-14 28 0 5 14-1 64 2 85 4 22 22 34 19 43-2 9-23 11-32 11-8 0-14 12-17-11-2-23-4-107 0-128z" fill="#055cfa"/><path d="M445 213c11-5 34 0 64 0 30 0 98-7 117 0 20 7 13 34 0 43-12 9-51 12-74 10-23-1-46-17-64-21-18-3-36 6-43 0-7-5-10-26 0-32z" fill="#0662f9"/><path d="M445 245c9-5 36 6 54 11 17 5 33 16 53 21 19 5 53 7 64 11 10 4 14 12 0 15-14 2-57 2-85 0-29-3-72-6-86-15-14-10-9-37 0-43z" fill="#0fbdf1"/><path d="M648 213c12-12 51 6 74 11 23 5 57 13 64 21 7 8-9 20-21 28-12 7-34 13-53 17-20 4-54 21-64 8-11-12-13-72 0-85z" fill="#0662f9"/><path d="M669 149c0 6 13 32 21 43 9 11 22 15 32 21 11 7 22 14 32 17 11 4 31 7 32 5 2-3-9-15-21-22-12-7-41-12-53-21-13-9-14-25-22-32-7-7-21-16-21-11z" fill="#0fbdf1"/><path d="M667 53c1-14-17-32 13-40 30-8 140-42 168-7 28 36 10 183 0 220-10 37-46-1-62 0-15 1-19 8-29 4-11-4-24-18-35-27-10-10-22-19-29-28-8-9-14-13-18-26-3-13-2-37-4-53-1-16-5-29-4-43z" fill="#08d7f3"/><path d="M224 318c35-11 166-13 200 0 33 14 17 69 0 81-18 12-78-9-104-8-26 0-39 7-54 12-14 6-23 25-31 22-9-4-20-25-22-43-2-18-24-53 11-64z" fill="#0fbdf1"/><path d="M217 331c4-8 20-8 28-4 8 3 21 14 21 23 0 9-13 28-21 32-7 4-19-2-23-11-5-8-8-33-5-40z" fill="#0c82f4"/><path d="M341 331c10-5 69 0 83 8 14 9 10 38 0 43-10 5-48-2-62-11-13-8-31-35-21-40z" fill="#0f91f2"/><path d="M94 446c4-5 21 8 34 9 13 0 30-2 43-5 12-3 28-21 34-13 5 9 5 53 0 64-6 12-22 5-34 5-13 0-32-1-43-5-11-3-20-7-26-17-5-9-12-33-8-38z" fill="#0662f9"/><path d="M171 382c9-7 27-15 34-11 6 5 6 27 6 37 0 9 0 17-6 21-7 3-25 2-34 0-10-2-22-5-22-13 0-8 12-27 22-34z" fill="#0fbdf1"/><path d="M43 548c6-8 29-6 42-4 13 3 26 12 34 19 9 7 17 13 17 22 0 8-10 26-17 32-7 6-20 1-25 4-5 3 2 12-4 15-7 2-27 7-35 0-7-7-6-26-8-41-2-14-11-38-4-47z" fill="#055cfa"/><path d="M205 591c10-6 49-9 59-4 10 4 10 24 0 30-10 5-49 8-59 4-10-4-10-24 0-30z" fill="#0a78f5"/><path d="M298 531c21-5 105-5 126 0 21 6 21 27 0 32-21 6-105 6-126 0-20-5-20-26 0-32z" fill="#08d7f3"/><path d="M309 563c21-12 96-12 115 0 19 12 21 61 0 73-21 12-106 12-126 0-19-12-10-61 11-73z" fill="#0a78f5"/><path d="M424 331c71-15 353-16 424 0 70 16 17 77 0 94-18 16-69 5-104 4-35-1-68-9-107-9-39 0-92 9-128 9-35 0-71 8-85-9-14-16-71-74 0-89z" fill="#0fbdf1"/><path d="M445 339c13-5 61-6 86-4 24 2 63 9 63 15 0 6-40 19-63 21-24 3-61-1-75-6-14-5-23-21-11-26z" fill="#0d87f4"/><path d="M648 339c14-6 66-6 96-4 30 2 85 8 85 15 0 7-57 24-85 28-29 3-70 0-86-7-16-6-24-26-10-32z" fill="#0d87f4"/><path d="M488 382c21-5 104-10 128-4 23 5 23 29 13 36-11 7-54 7-77 6-24-1-53-6-64-12-11-7-21-21 0-26z" fill="#08d7f3"/><path d="M445 489c13-11 41-7 54 0 12 7 19 25 21 42 2 18-13 48-11 64 2 16 36 27 22 32-15 6-89 13-107 0-18-12-4-51 0-74 3-24 9-54 21-64z" fill="#0767f8"/><path d="M641 489c7-17 22-1 39 4 17 5 53 12 64 28 10 15 7 48 0 64-7 16-26 30-43 32-17 1-50 0-60-22-10-21-6-89 0-106z" fill="#0767f8"/><path d="M467 425c16-7 90-10 106 4 16 14-2 69-10 81-9 12-29-4-43-11-14-7-34-19-43-32-9-12-26-36-10-42z" fill="#08d7f3"/><path d="M552 563c14-12 62-12 74 0 13 12 15 61 0 73-14 12-72 12-85 0-12-12-3-61 11-73z" fill="#08d7f3"/><path d="M563 585c8-8 44-12 53-7 9 6 9 31 0 39-9 7-45 9-53 4-9-6-9-29 0-36z" fill="#086df7"/><use href="#c1" fill="none" stroke="#00f5f5" stroke-width="12"/><use href="#c2" fill="none" stroke="#00f5f5" stroke-width="19"/><use href="#c4" fill="#00f5f5" stroke="#00f5f5" stroke-width="6"/><use href="#c5" fill="#00f5f5" stroke="#00f5f5" stroke-width="17"/><use href="#c7" fill="#00f5f5" stroke="#00f5f5" stroke-width="6"/><use href="#c8" fill="none" stroke="#00f5f5" stroke-width="26"/><use href="#c11" fill="#00f5f5" stroke="#00f5f5" stroke-width="17"/><use href="#c12" fill="none" stroke="#00f5f5" stroke-width="22"/><use href="#c13" fill="#00f5f5" stroke="#00f5f5" stroke-width="8"/><use href="#c14" fill="none" stroke="#00f5f5" stroke-width="19"/><use href="#c16" fill="#00f5f5" stroke="#00f5f5" stroke-width="6"/><use href="#c17" fill="#00f5f5" stroke="#00f5f5" stroke-width="6"/><use href="#c18" fill="#00f5f5" stroke="#00f5f5" stroke-width="7"/><use href="#c22" fill="none" stroke="#00f5f5" stroke-width="25"/><use href="#c23" fill="#00f5f5" stroke="#00f5f5" stroke-width="19"/><use href="#c24" fill="#00f5f5" stroke="#00f5f5" stroke-width="21"/><use href="#c25" fill="#00f5f5" stroke="#00f5f5" stroke-width="6"/><use href="#c26" fill="#00f5f5" stroke="#00f5f5" stroke-width="6"/><use href="#c27" fill="#00f5f5" stroke="#00f5f5" stroke-width="6"/><use href="#c28" fill="#00f5f5" stroke="#00f5f5" stroke-width="6"/><use href="#c29" fill="#00f5f5" stroke="#00f5f5" stroke-width="6"/><use href="#c31" fill="#00f5f5" stroke="#00f5f5" stroke-width="36"/><use href="#c32" fill="#00f5f5" stroke="#00f5f5" stroke-width="19"/><use href="#c34" fill="#00f5f5" stroke="#00f5f5" stroke-width="6"/><use href="#c35" fill="#00f5f5" stroke="#00f5f5" stroke-width="6"/><use href="#c36" fill="#00f5f5" stroke="#00f5f5" stroke-width="6"/><use href="#c37" fill="#00f5f5" stroke="#00f5f5" stroke-width="6"/><use href="#c38" fill="#00f5f5" stroke="#00f5f5" stroke-width="53"/><use href="#c39" fill="#00f5f5" stroke="#00f5f5" stroke-width="6"/><use href="#c41" fill="#00f5f5" stroke="#00f5f5" stroke-width="21"/><use href="#c43" fill="none" stroke="#00f5f5" stroke-width="18"/><use href="#c44" fill="none" stroke="#00f5f5" stroke-width="26"/><use href="#c45" fill="#00f5f5" stroke="#00f5f5" stroke-width="34"/><use href="#c46" fill="#00f5f5" stroke="#00f5f5" stroke-width="15"/><use href="#c47" fill="#00f5f5" stroke="#00f5f5" stroke-width="11"/><use href="#c48" fill="#00f5f5" stroke="#00f5f5" stroke-width="10"/><use href="#c50" fill="#00f5f5" stroke="#00f5f5" stroke-width="8"/><use href="#c51" fill="#00f5f5" stroke="#00f5f5" stroke-width="8"/><use href="#c52" fill="#00f5f5" stroke="#00f5f5" stroke-width="6"/><use href="#c53" fill="#00f5f5" stroke="#00f5f5" stroke-width="8"/><use href="#c57" fill="#00f5f5" stroke="#00f5f5" stroke-width="6"/><use href="#c58" fill="#00f5f5" stroke="#00f5f5" stroke-width="6"/><use href="#c59" fill="#00f5f5" stroke="#00f5f5" stroke-width="8"/><use href="#c60" fill="#00f5f5" stroke="#00f5f5" stroke-width="8"/><use href="#c61" fill="#00f5f5" stroke="#00f5f5" stroke-width="8"/><use href="#c62" fill="#00f5f5" stroke="#00f5f5" stroke-width="11"/><use href="#c63" fill="#00f5f5" stroke="#00f5f5" stroke-width="17"/><use href="#c64" fill="#00f5f5" stroke="#00f5f5" stroke-width="17"/><use href="#c65" fill="#00f5f5" stroke="#00f5f5" stroke-width="13"/><use href="#c66" fill="#00f5f5" stroke="#00f5f5" stroke-width="13"/><use href="#c67" fill="#00f5f5" stroke="#00f5f5" stroke-width="11"/><use href="#c1" fill="none" stroke="#0ab428" stroke-width="5"/><use href="#c2" fill="none" stroke="#0ab428" stroke-width="13"/><use href="#c4" fill="#0ab428"/><use href="#c7" fill="#0ab428"/><use href="#c8" fill="none" stroke="#0ab428" stroke-width="16"/><use href="#c11" fill="#0ab428" stroke="#0ab428" stroke-width="11"/><use href="#c12" fill="none" stroke="#0ab428" stroke-width="14"/><use href="#c13" fill="#0ab428"/><use href="#c14" fill="none" stroke="#0ab428" stroke-width="13"/><use href="#c16" fill="#0ab428"/><use href="#c17" fill="#0ab428"/><use href="#c18" fill="#0ab428"/><path d="M757 132c4-4 21-4 29-2 9 2 19 10 22 15 3 5 1 13-5 17-5 4-20 6-27 4-8-1-14-7-17-13-4-5-7-17-2-21z" fill="#0ab428"/><use href="#c22" fill="none" stroke="#0ab428" stroke-width="15"/><use href="#c23" fill="#0ab428" stroke="#0ab428" stroke-width="13"/><use href="#c24" fill="#0ab428" stroke="#0ab428" stroke-width="15"/><use href="#c25" fill="#0ab428"/><use href="#c26" fill="#0ab428"/><use href="#c27" fill="#0ab428"/><use href="#c28" fill="#0ab428"/><use href="#c29" fill="#0ab428"/><use href="#c31" fill="#0ab428" stroke="#0ab428" stroke-width="28"/><use href="#c32" fill="#0ab428" stroke="#0ab428" stroke-width="13"/><use href="#c33" fill="#0ab428" stroke="#0ab428" stroke-width="8"/><use href="#c34" fill="#0ab428"/><use href="#c35" fill="#0ab428"/><use href="#c36" fill="#0ab428"/><use href="#c37" fill="#0ab428"/><use href="#c38" fill="#0ab428" stroke="#0ab428" stroke-width="44"/><use href="#c39" fill="#0ab428"/><use href="#c40" fill="#0ab428" stroke="#0ab428" stroke-width="6"/><use href="#c41" fill="#0ab428" stroke="#0ab428" stroke-width="13"/><use href="#c43" fill="none" stroke="#0ab428" stroke-width="10"/><use href="#c44" fill="none" stroke="#0ab428" stroke-width="16"/><use href="#c45" fill="#0ab428" stroke="#0ab428" stroke-width="25"/><use href="#c46" fill="#0ab428" stroke="#0ab428" stroke-width="6"/><use href="#c47" fill="#0ab428" stroke="#0ab428" stroke-width="4"/><use href="#c48" fill="#0ab428"/><use href="#c50" fill="#0ab428"/><use href="#c51" fill="#0ab428"/><use href="#c52" fill="#0ab428"/><use href="#c53" fill="#0ab428"/><use href="#c56" fill="#0ab428" stroke="#0ab428" stroke-width="11"/><use href="#c57" fill="#0ab428"/><use href="#c58" fill="#0ab428"/><use href="#c59" fill="#0ab428"/><use href="#c60" fill="#0ab428"/><use href="#c61" fill="#0ab428"/><use href="#c62" fill="#0ab428" stroke="#0ab428" stroke-width="4"/><use href="#c63" fill="#0ab428" stroke="#0ab428" stroke-width="11"/><use href="#c64" fill="#0ab428" stroke="#0ab428" stroke-width="11"/><use href="#c65" fill="#0ab428" stroke="#0ab428" stroke-width="6"/><use href="#c66" fill="#0ab428" stroke="#0ab428" stroke-width="6"/><use href="#c67" fill="#0ab428" stroke="#0ab428" stroke-width="4"/><use href="#c2" fill="none" stroke="#78d20a" stroke-width="6"/><path d="M219 256c1-2 7-2 9-1 2 1 2 7 1 9-1 2-6 4-8 3-1-1-3-9-2-11z" fill="#78d20a"/><use href="#c5" fill="#78d20a" stroke="#78d20a" stroke-width="11"/><use href="#c6" fill="#78d20a" stroke="#78d20a" stroke-width="8"/><use href="#c8" fill="none" stroke="#78d20a" stroke-width="10"/><use href="#c11" fill="#78d20a" stroke="#78d20a" stroke-width="4"/><path d="M488 54l43 3" fill="none" stroke="#78d20a" stroke-width="4"/><use href="#c14" fill="none" stroke="#78d20a" stroke-width="6"/><use href="#c15" fill="#78d20a" stroke="#78d20a" stroke-width="8"/><path d="M693 70c5-5 21-2 29-10 9-8 17-30 22-39 4-9-13-12 4-15 17-2 83-11 100 0 16 12 5 59 0 69-5 9-21-10-30-11-8-1-16 2-21 6-5 5-16 14-11 20 6 6 33 13 43 17 10 3 16-3 19 4 3 7 5 30 0 38-5 8-21 4-30 11-8 6-12 22-21 28-9 5-23 6-32 4-9-2-13-13-21-17-8-4-18-4-26-9-7-4-14-9-19-17-5-8-9-20-11-30-1-10 0-21 0-29 1-9-1-15 5-20z" fill="#78d20a"/><path d="M748 171c4-4 19-6 26-5 6 2 12 9 12 13 0 4-7 11-12 13-6 1-17-1-22-4-4-4-8-14-4-17z" fill="#78d20a"/><use href="#c22" fill="none" stroke="#78d20a" stroke-width="6"/><use href="#c23" fill="#78d20a" stroke="#78d20a" stroke-width="6"/><use href="#c24" fill="#78d20a" stroke="#78d20a" stroke-width="8"/><path d="M122 436c2-2 10-3 16-3 6 0 17 1 21 3 3 1 3 6 0 8-4 1-15 2-21 2-6 0-11-1-13-2-3-2-5-7-3-8z" fill="#78d20a"/><use href="#c31" fill="#78d20a" stroke="#78d20a" stroke-width="19"/><use href="#c32" fill="#78d20a" stroke="#78d20a" stroke-width="6"/><use href="#c33" fill="#78d20a" stroke="#78d20a" stroke-width="4"/><path d="M27 536c3-2 14 0 17 3 3 3 3 8 1 13-1 5-9 11-10 16-1 5 5 12 5 13 0 2-3 2-5-2-2-5-7-17-8-24-1-7-3-16 0-19z" fill="#78d20a"/><path d="M196 545c2-3 6-8 11-10 5-1 14-3 17-1 3 2 3 12 1 16-2 4-8 6-13 6-4 1-10-1-13-3-3-2-4-6-3-8z" fill="#78d20a"/><path d="M232 575c1-2 9-8 13-8 5 1 12 8 13 11 1 2-3 4-6 5-4 1-10 0-13-1-4-2-8-5-7-7z" fill="#78d20a"/><path d="M197 589c1-2 11-4 13-2 3 1 4 9 3 12-2 2-9 2-12 1-3-2-6-8-4-11z" fill="#78d20a"/><use href="#c38" fill="#78d20a" stroke="#78d20a" stroke-width="32"/><use href="#c40" fill="#78d20a"/><use href="#c41" fill="#78d20a" stroke="#78d20a" stroke-width="6"/><use href="#c44" fill="none" stroke="#78d20a" stroke-width="7"/><use href="#c45" fill="#78d20a" stroke="#78d20a" stroke-width="17"/><use href="#c46" fill="#78d20a"/><use href="#c47" fill="#78d20a"/><path d="M588 447c2-2 10-3 15-2 6 1 13 4 15 8 2 4 0 11-1 15-2 5-6 10-7 14-1 4 5 8 3 10-3 2-11 4-16 3-5-1-13-5-13-8-1-4 7-9 8-13 0-5-5-9-6-13 0-5-1-11 2-14z" fill="#78d20a"/><path d="M519 515c3-5 10-3 14-1 4 2 9 7 10 13 2 5 1 14-1 20-2 5-6 11-9 13-4 2-11 0-14-3-3-3-5-8-5-15 0-8 2-22 5-27z" fill="#78d20a"/><path d="M575 536c3-2 13-3 19-3 7 0 17-1 20 3 3 3 2 15-1 18-3 3-12 0-19-1-6-1-15-4-18-7-3-3-4-8-1-10z" fill="#78d20a"/><path d="M663 455c2-3 7-8 13-10 5-2 14-2 20 0 6 1 14 5 17 8 3 3 4 9 1 10-3 2-12 0-18 0-7 0-15 0-20 0-6 1-11 4-13 3-3-1-3-7 0-11z" fill="#78d20a"/><use href="#c56" fill="#78d20a" stroke="#78d20a" stroke-width="6"/><path d="M779 506c0 1-1 2-1 3-1 1-3 2-4 2-1 1-3 1-5 1-1 0-3 0-4-1-2 0-3-1-4-2-1-1-1-2-1-3 0-1 0-3 1-4 1 0 2-1 4-2 1 0 3-1 4-1 2 0 4 1 5 1 1 1 3 2 4 2 0 1 1 3 1 4z" fill="#78d20a"/><path d="M819 452c1-4 7-12 10-16 4-3 10-12 12-5 2 7 2 38 0 45-2 7-8 0-12-3-3-2-6-7-7-10-2-4-4-6-3-11z" fill="#78d20a"/><path d="M756 563c3-4 10-6 16-7 6 0 15 2 20 4 6 3 8 9 13 10 5 0 15-14 18-7 4 8 11 43 0 52-10 8-55 3-64 0-9-3 8-14 8-19-1-5-9-8-11-13-1-6-2-16 0-20z" fill="#78d20a"/><use href="#c62" fill="#78d20a"/><use href="#c63" fill="#78d20a" stroke="#78d20a" stroke-width="6"/><use href="#c64" fill="#78d20a" stroke="#78d20a" stroke-width="6"/><use href="#c65" fill="#78d20a"/><use href="#c66" fill="#78d20a"/><use href="#c67" fill="#78d20a"/><use href="#c11" fill="#b4e614"/><path d="M701 90c6-6 21-5 32-9 11-4 23-11 32-17 9-6 14-13 21-21 7-9 15-25 22-30 7-6 17-9 21-4 4 5 8 24 4 34-3 10-17 16-25 25-9 9-17 19-26 28-8 8-21 15-25 23-5 9 4 20 0 26-5 6-22 9-30 8-9 0-17-6-22-12-5-7-7-17-8-26-1-8-2-20 4-25z" fill="#b4e614"/><use href="#c23" fill="#b4e614"/><use href="#c24" fill="#b4e614" stroke="#b4e614" stroke-width="4"/><use href="#c31" fill="#b4e614" stroke="#b4e614" stroke-width="13"/><use href="#c32" fill="#b4e614"/><use href="#c33" fill="#b4e614"/><use href="#c38" fill="#b4e614" stroke="#b4e614" stroke-width="23"/><path d="M237 433c4-5 18-14 32-19 13-5 34-10 51-11 16 0 34 5 47 9 12 4 28 13 27 17 0 4-16 8-32 8-16 1-44-5-64-4-19 1-43 11-53 11-10 0-12-6-8-11z" fill="#b4e614"/><use href="#c41" fill="#b4e614"/><use href="#c45" fill="#b4e614" stroke="#b4e614" stroke-width="11"/><use href="#c49" fill="#b4e614" stroke="#b4e614" stroke-width="6"/><path d="M513 531c5-3 25-3 30 0 6 3 7 14 2 17-4 4-24 7-29 5-6-3-7-18-3-22z" fill="#b4e614"/><path d="M829 437c2-6 16-11 19-4 3 7 2 41 0 47-3 7-12-1-15-8-3-8-6-28-4-35z" fill="#b4e614"/><path d="M757 591c3-5 19-5 29-6 11-2 22-3 32-5 11-1 25-10 30-6 5 4 6 24 0 30-7 5-27 3-40 4-14 1-34 7-43 4-8-3-12-16-8-21z" fill="#b4e614"/><path d="M384 241c-6 1-23 6-32 8-9 3-20 4-24 5" fill="none" stroke="#ffff00" stroke-width="4"/><use href="#c3" fill="#ffff00" stroke="#ffff00" stroke-width="4"/><use href="#c5" fill="#ffff00" stroke="#ffff00" stroke-width="5"/><use href="#c6" fill="#ffff00" stroke="#ffff00" stroke-width="4"/><path d="M394 284l32-3" fill="none" stroke="#ffff00" stroke-width="4"/><use href="#c9" fill="#ffff00" stroke="#ffff00" stroke-width="4"/><use href="#c10" fill="#ffff00" stroke="#ffff00" stroke-width="4"/><use href="#c15" fill="#ffff00" stroke="#ffff00" stroke-width="4"/><path d="M695 102c3-8 16-10 27-10 11-1 33-1 39 6 5 7 0 26-4 34-5 9-17 16-26 17-9 2-22 0-28-8-6-8-12-30-8-39z" fill="#ffff00"/><path d="M739 13c9-6 51-8 60-4 10 3 2 17-2 25-4 8-15 20-23 21-9 2-20-5-26-12-6-7-17-25-9-30z" fill="#ffff00"/><use href="#c19" fill="none" stroke="#ffff00" stroke-width="16"/><path d="M840 245c-4 3-13 12-22 17-9 6-21 12-32 17-10 6-26 13-32 15" fill="none" stroke="#ffff00" stroke-width="3"/><use href="#c24" fill="#ffff00"/><use href="#c31" fill="#ffff00" stroke="#ffff00" stroke-width="6"/><path d="M75 523c3-3 26-6 32-5 6 2 7 10 4 13-4 3-20 6-26 5-6-2-14-10-10-13z" fill="#ffff00"/><use href="#c38" fill="#ffff00" stroke="#ffff00" stroke-width="15"/><path d="M239 437c4-3 20-9 34-12 13-4 33-9 47-9 14 0 31 5 38 9 7 3 14 10 4 12-10 3-44-1-64 0-19 2-43 11-53 11-10 0-11-7-6-11z" fill="#ffff00"/><use href="#c45" fill="#ffff00" stroke="#ffff00" stroke-width="6"/><path d="M459 382c0 1 0 1-1 2-1 0-2 1-3 1-1 0-2 0-3 0-2 0-3 0-4 0-1 0-2-1-3-1 0-1-1-1-1-2 0 0 1-1 1-2 1 0 2 0 3-1 1 0 2 0 4 0 1 0 2 0 3 0 1 1 2 1 3 1 1 1 1 2 1 2z" fill="#ffff00"/><use href="#c49" fill="#ffff00"/><path d="M614 540c0 1-1 2-2 2-1 1-2 2-4 2-1 1-3 1-5 1-2 0-4 0-5-1-2 0-3-1-4-2-1 0-2-1-2-2 0-1 1-2 2-3 1-1 2-1 4-2 1 0 3-1 5-1 2 0 4 1 5 1 2 1 3 1 4 2 1 1 2 2 2 3z" fill="#ffff00"/><use href="#c54" fill="#ffff00" stroke="#ffff00" stroke-width="4"/><use href="#c55" fill="#ffff00" stroke="#ffff00" stroke-width="4"/><use href="#c56" fill="#ffff00"/><use href="#c63" fill="#ffff00"/><use href="#c64" fill="#ffff00"/><use href="#c3" fill="#ffb414"/><use href="#c5" fill="#ffb414"/><use href="#c6" fill="#ffb414"/><use href="#c9" fill="#ffb414"/><use href="#c10" fill="#ffb414"/><use href="#c15" fill="#ffb414"/><path d="M705 122c3-3 11-4 17-4 7 1 19 3 22 6 3 2 1 8-2 10-4 3-14 5-20 5-5-1-12-4-15-7-2-3-4-8-2-10z" fill="#ffb414"/><path d="M754 6c4-4 23-3 28 0 5 4 4 14 2 20-1 5-6 13-10 15-5 1-12-3-15-9-4-6-9-21-5-26z" fill="#ffb414"/><use href="#c19" fill="none" stroke="#ffb414" stroke-width="10"/><use href="#c20" fill="none" stroke="#ffb414" stroke-width="12"/><path d="M802 272c1 0 1 1 0 2 0 1-1 2-2 3-1 1-2 2-3 2-1 1-3 2-4 2-1 0-3 1-4 0 0 0-1 0-2-1 0 0 0-1 1-2 0-1 1-2 2-3 0-1 2-2 3-2 1-1 3-2 4-2 1 0 2 0 3 0 1 0 2 0 2 1z" fill="#ffb414"/><path d="M498 303c0 0-1 1-1 1-1 1-2 1-3 1-1 0-2 0-3-1-1 0-2-1-3-1-1-1-1-2-2-2 0-1 0-2 0-3 0 0 1-1 2-1 0 0 1-1 2-1 1 0 2 1 3 1 1 0 3 1 3 2 1 0 2 1 2 2 0 0 0 1 0 2z" fill="#ffb414"/><use href="#c31" fill="#ffb414"/><use href="#c38" fill="#ffb414" stroke="#ffb414" stroke-width="5"/><path d="M501 318c0 1-1 2-2 3-1 1-3 1-5 2-2 0-4 0-6 0-2 0-5 0-7 0-1-1-3-1-4-2-1-1-2-2-2-3 0-1 1-2 2-3 1 0 3-1 4-2 2 0 5 0 7 0 2 0 4 0 6 0 2 1 4 2 5 2 1 1 2 2 2 3z" fill="#ffb414"/><use href="#c45" fill="#ffb414"/><use href="#c54" fill="#ffb414"/><use href="#c55" fill="#ffb414"/><use href="#c30" fill="#ff8c0a" stroke="#ff8c0a" stroke-width="6"/><use href="#c38" fill="#ff8c0a"/><use href="#c20" fill="none" stroke="#ff1e0a" stroke-width="7"/><use href="#c30" fill="#ff1e0a"/><path d="M260 484c2-2 12-3 15-2 3 2 5 8 4 11 0 3-5 6-8 6-3 1-7-1-9-4-2-2-4-8-2-11z" fill="#ff1e0a"/><path d="M424 493c2-6 10-4 13-2 3 2 6 9 6 15 0 5-1 15-4 19-3 4-13 9-15 4-3-5-2-30 0-36z" fill="#ff1e0a"/><path d="M168 536c0 1-1 1-2 2-1 0-2 0-4 0-2 0-4 0-5-1-2 0-4-1-5-2-2 0-3-1-4-2 0-1-1-2-1-2 1-1 1-2 2-2 1 0 3 0 4 0 2 0 4 0 6 1 1 0 3 1 5 2 1 0 2 1 3 2 1 1 1 2 1 2z" fill="#7832a0"/><path d="M438 508c0 2 0 4 0 5-1 2-2 3-3 4 0 1-2 1-3 1-1 0-2 0-3-1 0-1-1-2-2-4 0-1-1-3-1-5 0-2 1-4 1-6 1-1 2-3 2-3 1-1 2-2 3-2 1 0 3 1 3 2 1 0 2 2 3 3 0 2 0 4 0 6z" fill="#7832a0"/><use href="#c21" fill="#00f5f5" stroke="#00f5f5" stroke-width="4"/><use href="#c21" fill="#0ad0f2"/><path d="M207 528c3-2 18-2 22 0 4 2 3 12 0 14-3 2-15 2-19 0-4-2-6-12-3-14z" fill="#00f5f5"/><use href="#c42" fill="#00f5f5" stroke="#00f5f5" stroke-width="4"/><use href="#c42" fill="#0ad0f2"/></g></g><path fill="#fff" d="M304 446l2 0-22 190-13 0z"/><path fill="#fff" d="M573 457l1 0-34 179-12 0z"/><path fill="#fff" d="M840 457l2 0-32 179-13 0z"/><path fill="#fff" d="M484 458l2 0-8 37-7 0 1-6 5-2z"/><path fill="#fff" d="M769 617l5 0 12 12-8 2z"/><path fill="#fff" d="M698 529l3-14 10 0 0 3-7 1-3 10z"/><path fill="#fff" d="M375 53l30-12 6 19-17 6z"/><path fill="#fff" d="M698 46l19 0 0 8-19 0z"/><path fill="#fff" d="M766 71l15 0 0 7-15 0z"/><path fill="#fff" d="M818 80l22 0 0 8-22 0z"/><path fill="#fff" d="M443 349l5 0 0 4-5 0z"/><path fill="#fff" d="M481 542l5 0 0 4-5 0z"/><path fill="#fff" d="M461 555l5 0 0 4-5 0z"/><path fill="#fff" d="M609 496l5 0 0 5-5 0z"/><path fill="#fff" d="M615 559l4 0 0 4-4 0z"/><path fill="#fff" d="M656 512l5 0 0 5-5 0z"/><path fill="#fff" d="M728 476l4 0 0 4-4 0z"/><path fill="#fff" d="M664 575l4 0 0 4-4 0z"/><path fill="#fff" d="M718 546l5 0 0 5-5 0z"/><path fill="#fff" d="M705 533l5 0 0 5-5 0z"/><path fill="#fff" d="M729 526l4 0 0 4-4 0z"/><path fill="#fff" d="M756 558l5 0 0 4-5 0z"/><path fill="#fff" d="M750 540l5 0 0 4-5 0z"/><use href="#land"/><g stroke="#000" stroke-width="9.5" stroke-dasharray="9.5 9.7" fill="none"><line x1="211.3" y1="13.7" x2="211.3" y2="635.1"/><line x1="423" y1="13.7" x2="423" y2="635.1"/><line x1="634.7" y1="13.7" x2="634.7" y2="635.1"/><line x1="-1" y1="211.3" x2="849.8" y2="211.3"/><line x1="-1" y1="423" x2="849.8" y2="423"/></g></g><rect x="0" y="0" width="846.8" height="635.1" fill="none" stroke="#000" stroke-width="7"/></g>
<g transform="translate(1215.4 971.8)"><g clip-path="url(#cp)"><g filter="url(#bl)"><defs><path id="d1" d="M426 136c-2 3-9 13-15 17-5 5-11 10-17 13-5 4-12 7-15 8"/><path id="d2" d="M426 213c-3 3-13 10-21 15-8 5-16 10-26 13-9 3-19 5-29 6-10 2-25 4-30 5"/><path id="d3" d="M405 232c-4 2-17 8-26 11-8 3-23 5-27 6"/><path id="d4" d="M330 258c0 1 0 3-1 4 0 1-2 2-3 2-1 1-3 1-4 1-2 0-3 0-4-1-2 0-3-1-3-2-1-1-2-3-2-4 0-1 1-3 2-4 0-1 1-2 3-2 1-1 2-1 4-1 1 0 3 0 4 1 1 0 3 1 3 2 1 1 1 3 1 4z"/><path id="d5" d="M270 266c0 2 0 3 0 4-1 1-2 2-3 3-1 1-2 1-3 1-1 0-2 0-3-1 0-1-1-2-2-3 0-1-1-2-1-4 0-1 1-2 1-3 1-1 2-2 2-3 1-1 2-1 3-1 1 0 2 0 3 1 1 1 2 2 3 3 0 1 0 2 0 3z"/><path id="d6" d="M307 273c0 1 0 2 0 3-1 1-2 2-3 3-1 1-3 2-4 3-2 1-4 1-5 1-2 1-3 1-5 0-1 0-1-1-2-2 0 0 0-1 0-3 1-1 2-2 3-3 1-1 3-2 4-3 2 0 4-1 5-1 2 0 3 0 4 0 1 0 2 1 3 2z"/><path id="d7" d="M277 288c4-2 19-2 26 0 6 2 12 7 13 10 0 4-3 9-9 9-6 0-21-5-26-9-5-3-7-8-4-10z"/><path id="d8" d="M228 260c0 2 0 3-1 4 0 2-1 3-2 3-1 1-2 2-3 2-1 0-3-1-3-2-1 0-2-1-3-3 0-1-1-2-1-4 0-1 1-3 1-4 1-1 2-3 3-3 0-1 2-1 3-1 1 0 2 0 3 1 1 0 2 2 2 3 1 1 1 3 1 4z"/><path id="d9" d="M335 298c3-1 9-6 17-8 8-2 19-3 32-4 12-1 35-2 42-2"/><path id="d10" d="M405 275c0 1 0 2-1 2-1 1-2 2-3 2-1 0-3 1-4 1-2 0-3-1-5-1-1 0-2-1-3-2-1 0-1-1-1-2 0-1 0-2 1-2 1-1 2-2 3-2 2 0 3-1 5-1 1 0 3 1 4 1 1 0 2 1 3 2 1 0 1 1 1 2z"/><path id="d11" d="M425 46c0 1 0 3-1 5-1 1-2 2-3 3-2 1-4 1-5 1-2 0-4 0-5-1-1-1-3-2-4-3 0-2-1-4-1-5 0-2 1-4 1-5 1-1 3-3 4-3 1-1 3-2 5-2 1 0 3 1 5 2 1 0 2 2 3 3 1 1 1 3 1 5z"/><path id="d12" d="M424 21c2-7 10-3 13 0 3 4 6 15 6 22 0 7-3 17-6 21-3 4-11 7-13 0-2-7-2-36 0-43z"/><path id="d13" d="M456 56c5 0 21-2 32-2 11 0 24 2 32 2 8 1 12 2 15 3"/><path id="d14" d="M466 66c1 4 4 17 6 24 2 6 5 14 6 17"/><path id="d15" d="M556 23c3-4 11-8 17-8 6 0 14 0 17 6 3 6 3 25 0 30-3 5-12 4-17 2-5-1-12-5-15-10-3-5-4-15-2-20z"/><path id="d16" d="M441 102c0 2 0 4 0 5-1 2-1 3-2 4-1 0-1 1-2 1-1 0-2-1-3-1 0-1-1-2-1-4-1-1-1-3-1-5 0-1 0-3 1-4 0-2 1-3 1-4 1-1 2-1 3-1 1 0 1 0 2 1 1 1 1 2 2 4 0 1 0 3 0 4z"/><path id="d17" d="M424 119c2-6 8-7 11-2 2 5 3 26 2 32-2 6-11 9-13 4-2-4-2-28 0-34z"/><path id="d18" d="M467 124c0 1 0 2-1 3 0 0-1 1-2 2-1 0-2 1-3 1-1 0-2-1-3-1-1-1-1-2-2-2 0-1-1-2-1-3 0-1 1-2 1-3 1-1 1-2 2-3 1 0 2 0 3 0 1 0 2 0 3 0 1 1 2 2 2 3 1 1 1 2 1 3z"/><path id="d19" d="M686 81c5-5 16-9 26-11 9-2 22-3 32-2 9 1 20 4 25 9 5 4 7 13 5 19-3 6-13 8-17 15-5 7-3 18-9 25-6 8-18 19-26 22-7 3-15 0-21-5-6-4-13-12-17-21-4-8-5-21-4-30 0-8 1-16 6-21z"/><path id="d20" d="M701 113c4-4 14-6 21-6 8 0 19 2 22 6 3 4 0 15-5 19-4 4-14 7-21 7-6 0-14-3-17-7-3-4-3-15 0-19z"/><path id="d21" d="M744 119c7 0 25-2 42-3 18-1 54-1 64-1"/><path id="d22" d="M835 130c0 1 0 2-2 3-1 0-4 1-6 2-3 0-6 0-9 0-3 0-6 0-8 0-3-1-5-2-6-2-2-1-3-2-3-3 0 0 1-1 3-2 1-1 3-1 6-2 2 0 5 0 8 0 3 0 6 0 9 0 2 1 5 1 6 2 2 1 2 2 2 2z"/><path id="d23" d="M714 149c0-3 20-4 30-4 9 0 18 5 25 4 7 0 11-8 17-8 7 0 19 5 22 8 3 3 1 7-5 9-5 2-19 3-29 4-10 1-20 2-30 0-10-2-30-10-30-13z"/><path id="d24" d="M771 175c0 2 0 4-1 6 0 1-2 3-3 4-1 1-3 2-4 2-2 0-3-1-4-2-2-1-3-3-3-4-1-2-2-4-2-6 0-2 1-4 2-6 0-2 1-3 3-4 1-1 2-2 4-2 1 0 3 1 4 2 1 1 3 2 3 4 1 2 1 4 1 6z"/><path id="d25" d="M722 13c3-6 6-6 22-7 16-1 62-6 74 0 12 6 4 28-2 37-5 9-18 14-30 17-12 2-32 1-42-2-10-4-14-12-17-20-4-7-7-20-5-25z"/><path id="d26" d="M750 6c6-4 30-4 36 0 7 5 5 20 2 26-2 6-13 13-19 13-6-1-14-9-17-15-3-7-8-20-2-24z"/><path id="d27" d="M669 21c5-7 23-9 32-8 9 1 19 5 21 13 3 7 1 26-4 34-5 7-20 11-28 10-7 0-15-6-19-15-3-8-7-27-2-34z"/><path id="d28" d="M757 94c4-3 17-4 29-4 12 0 33 3 43 4 10 1 16 0 19 2 3 2 10 9 0 11-10 1-47 0-62 0-14 0-20 2-25 0-5-3-9-10-4-13z"/><path id="d29" d="M850 220c-3 3-10 14-17 21-7 7-18 15-25 21-8 6-15 11-22 15-7 4-14 8-21 11-7 3-12 5-21 8-9 3-22 7-32 9-11 2-22 3-32 4-11 2-22 4-32 5-11 2-27 5-32 6"/><path id="d30" d="M432 237c3-7 12-5 15-2 4 2 7 11 7 17-1 5-5 13-9 17-3 3-10 9-13 4-2-5-2-30 0-36z"/><path id="d31" d="M512 309c-1 1-2 2-4 2-2 0-5 0-8 0-3-1-6-2-9-4-3-1-6-3-8-5-2-1-4-3-5-5-1-2-2-3-1-5 0-1 2-2 4-2 2 0 5 0 7 1 3 0 7 1 9 3 3 1 6 3 9 5 2 2 4 4 5 5 1 2 1 4 1 5z"/><path id="d32" d="M262 408c0 1 0 2-1 2-1 1-2 2-3 2-1 1-3 1-4 1-2 0-3 0-5-1-1 0-2-1-3-2 0 0-1-1-1-2 0-1 1-2 1-3 1-1 2-2 3-2 2 0 3-1 5-1 1 0 3 1 4 1 1 0 2 1 3 2 1 1 1 2 1 3z"/><path id="d33" d="M64 414c4-4 21-5 26-2 4 2 3 11 2 17-2 6-7 16-11 17-4 1-10-3-13-9-3-5-8-19-4-23z"/><path id="d34" d="M111 433c3-3 15-4 25-4 10 0 29 1 35 4 5 3 5 10 0 13-6 3-25 4-35 4-9 0-17-1-21-4-4-3-8-10-4-13z"/><path id="d35" d="M136 463c0 1 0 2 0 3-1 1-2 2-3 3-1 0-2 0-3 0-1 0-2 0-3 0-1-1-2-2-2-3-1-1-1-2-1-3 0-1 0-2 1-3 0-1 1-2 2-2 1-1 2-1 3-1 1 0 2 0 3 1 1 0 2 1 3 2 0 1 0 2 0 3z"/><path id="d36" d="M110 487c0 0 0 1-1 2 0 1-1 2-2 2-1 1-2 1-3 1 0 0-1 0-2-1-1 0-2-1-2-2-1-1-1-2-1-2 0-1 0-2 1-3 0-1 1-2 2-2 1-1 2-1 2-1 1 0 2 0 3 1 1 0 2 1 2 2 1 1 1 2 1 3z"/><path id="d37" d="M143 525c2-2 14-1 19 1 5 2 11 7 13 10 1 2 0 5-4 6-5 1-17 1-22-2-4-3-8-13-6-15z"/><path id="d38" d="M132 510c2-3 12 0 17 2 5 2 7 6 13 9 6 2 19 2 21 6 3 4 0 15-4 19-3 4-11 4-17 4-6 1-13 4-17 0-4-3-6-12-9-19-2-6-6-18-4-21z"/><path id="d39" d="M85 523c3-4 14-4 22-5 7 0 20-3 25 3 5 5 5 23 4 32 0 8-3 17-8 17-5 0-15-12-21-17-7-5-14-8-17-13-4-5-8-14-5-17z"/><path id="d40" d="M70 521c4-3 26-6 32-5 6 1 8 9 5 11-4 2-20 5-26 4-6-1-14-8-11-10z"/><path id="d41" d="M138 595c0 2-1 4-1 6-1 1-1 3-2 3-1 1-2 2-3 2-1 0-2-1-2-2-1 0-2-2-2-3-1-2-1-4-1-6 0-2 0-4 1-5 0-2 1-3 2-4 0-1 1-1 2-1 1 0 2 0 3 1 1 1 1 2 2 4 0 1 1 3 1 5z"/><path id="d42" d="M4 506c2-5 10-4 13 0 3 3 6 17 4 21-1 4-12 8-15 4-2-3-4-21-2-25z"/><path id="d43" d="M21 527c5-4 23 1 28 4 5 4 5 11 2 17-2 7-12 21-17 22-5 0-11-10-13-17-2-8-4-22 0-26z"/><path id="d44" d="M34 574c2 3 7 15 9 21 2 7 3 14 4 17"/><path id="d45" d="M188 544c2-4 12-13 17-13 4 0 8 9 8 13 0 4-5 11-8 13-4 2-10 2-13 0-3-2-7-9-4-13z"/><path id="d46" d="M211 602c0 1 0 3-1 4 0 1-1 2-2 3-1 1-2 1-3 1-1 0-3 0-4-1 0-1-1-2-2-3 0-1-1-3-1-4 0-2 1-3 1-5 1-1 2-2 2-3 1 0 3-1 4-1 1 0 2 1 3 1 1 1 2 2 2 3 1 2 1 3 1 5z"/><path id="d47" d="M230 572c2-3 12-9 17-9 6 1 15 9 15 13 1 4-6 8-10 9-5 1-14 0-17-3-4-2-7-7-5-10z"/><path id="d48" d="M245 467c4-5 20-8 32-12 12-5 27-11 39-13 11-2 24-1 29 2 6 3 6 9 5 15-2 6-7 14-13 21-6 7-14 14-21 19-8 6-15 13-22 15-6 2-12-1-17-4-5-3-8-9-13-13-4-4-9-8-12-13-4-5-11-12-7-17z"/><path id="d49" d="M352 446c3-5 20-9 32-9 12 0 33 5 40 9 7 4 5 15 0 17-5 2-19-7-30-6-10 0-24 10-32 8-7-2-14-14-10-19z"/><path id="d50" d="M362 487c6-3 22 1 32 4 11 3 25 9 30 15 5 5 5 15 0 17-5 2-19-4-30-7-10-2-26-5-32-10-5-5-5-17 0-19z"/><path id="d51" d="M284 531c-1 7-3 25-5 43-1 17-3 52-4 62"/><path id="d52" d="M488 319c12 1 53 4 75 4 21 1 37 2 53 1 16 0 25 0 42-2 18-1 54-5 64-6"/><path id="d53" d="M424 437c2-17 8-5 13-4 4 2 10 7 13 13 2 6 2 11 2 21-1 11-5 32-7 43-2 11 0 21-4 26-4 5-14 20-17 4-3-17-2-85 0-103z"/><path id="d54" d="M403 437c3 2 13 5 21 9 8 4 19 11 26 17 6 6 10 14 12 17"/><path id="d55" d="M464 381c0 1 0 2-2 3-1 1-4 2-6 3-3 0-6 0-9 0-2 0-6 0-8 0-3-1-5-2-6-3-2-1-3-2-3-3 0-1 1-2 3-3 1-1 3-2 6-3 2 0 6 0 8 0 3 0 6 0 9 0 2 1 5 2 6 3 2 1 2 2 2 3z"/><path id="d56" d="M460 382c0 0 0 1-1 1 0 1-1 1-2 1-1 0-2 1-3 1-1 0-2-1-3-1-1 0-2 0-3-1 0 0-1-1-1-1 0 0 1-1 1-1 1-1 2-1 3-1 1 0 2-1 3-1 1 0 2 1 3 1 1 0 2 0 2 1 1 0 1 1 1 1z"/><path id="d57" d="M500 487c-1 0-2 1-3 1-1 1-2 1-3 0-2 0-3 0-5-1-1-1-2-2-3-3-1-1-1-2-2-3 0-1 0-2 1-3 0-1 1-1 2-2 1 0 2 0 4 0 1 0 3 1 4 2 1 0 2 1 3 2 1 1 2 3 2 4 0 1 0 2 0 3z"/><path id="d58" d="M582 433c4-4 15-5 23-4 8 1 20 6 24 13 3 6 0 17-3 25-2 8-9 15-10 22-1 6 8 13 4 17-3 3-18 5-26 4-7-1-19-7-21-13-1-6 12-14 13-21 1-7-8-14-9-21 0-8 0-18 5-22z"/><path id="d59" d="M594 442c3-3 13-4 18-2 4 1 8 7 8 10 0 4-4 9-8 11-5 1-15 1-18-2-2-3-2-14 0-17z"/><path id="d60" d="M513 501c5-7 15-5 22-2 6 3 14 13 17 22 2 8 1 23-2 32-3 8-9 18-15 21-6 3-17 1-22-4-5-5-8-15-8-26 0-11 3-35 8-43z"/><path id="d61" d="M563 531c4-3 21-4 31-4 11 0 27-1 32 4 5 6 4 25-2 30-5 5-20 0-30-2-9-2-24-6-29-11-6-4-7-13-2-17z"/><path id="d62" d="M616 541c0 1-1 2-2 3-1 0-2 1-4 1-1 1-3 1-5 1-2 0-4 0-5-1-2 0-3-1-4-1-1-1-2-2-2-3 0-1 1-2 2-3 1-1 2-1 4-2 1 0 3 0 5 0 2 0 4 0 5 0 2 1 3 1 4 2 1 1 2 2 2 3z"/><path id="d63" d="M552 574c3-3 17-4 21-2 4 2 7 12 4 15-2 2-17 2-21 0-4-2-7-11-4-13z"/><path id="d64" d="M648 455c3-6 12-15 21-18 9-2 22-2 32 0 10 3 23 8 28 13 5 5 7 14 2 17-5 3-20 0-30 0-10 0-23 0-32 0-9 1-18 7-21 5-4-3-4-12 0-17z"/><path id="d65" d="M686 449c0 2-1 4-1 5-1 1-1 3-2 4-1 0-1 1-2 1-1 0-2-1-3-1 0-1-1-3-1-4-1-1-1-3-1-5 0-1 0-3 1-5 0-1 1-2 1-3 1-1 2-1 3-1 1 0 1 0 2 1 1 1 1 2 2 3 0 2 1 4 1 5z"/><path id="d66" d="M717 453c0 1 0 2-1 2-1 1-2 1-3 2-1 0-2 0-3 0-2 0-3 0-4 0-1-1-2-1-3-2 0 0-1-1-1-2 0 0 1-1 1-1 1-1 2-2 3-2 1 0 2 0 4 0 1 0 2 0 3 0 1 0 2 1 3 2 1 0 1 1 1 1z"/><path id="d67" d="M718 425c0 1 0 2-1 2 0 1-1 2-2 2-1 1-2 1-3 1-1 0-3 0-3-1-1 0-2-1-3-2 0 0-1-1-1-2 0-1 1-2 1-3 1-1 2-1 3-2 0 0 2-1 3-1 1 0 2 1 3 1 1 1 2 1 2 2 1 1 1 2 1 3z"/><path id="d68" d="M656 403c3-1 15-2 24-2 8 1 24 2 27 4 4 3 2 8-6 9-7 1-31 0-38-2-8-2-10-7-7-9z"/><path id="d69" d="M757 434c0 1-1 2-2 3-1 1-3 1-5 2-2 0-4 1-6 1-2 0-5-1-7-1-2-1-3-1-4-2-1-1-2-2-2-3 0-1 1-2 2-2 1-1 2-2 4-2 2-1 5-1 7-1 2 0 4 0 6 1 2 0 4 1 5 2 1 0 2 1 2 2z"/><path id="d70" d="M722 480c3-2 23 1 32 2 9 2 16 3 22 7 5 4 12 13 10 17-1 3-13 5-21 4-8-1-18-8-26-13-7-5-19-14-17-17z"/><path id="d71" d="M812 450c2-7 11-20 17-25 6-6 16-20 19-9 3 11 3 61 0 73-3 11-14-1-19-5-5-3-10-11-13-17-3-5-6-10-4-17z"/><path id="d72" d="M739 553c5-8 16-10 26-11 10-1 23 3 32 6 9 4 13 15 21 15 9 1 25-23 30-10 5 12 17 69 0 83-18 14-89 5-104 0-15-5 13-22 13-30-1-9-15-13-18-21-2-9-4-25 0-32z"/><path id="d73" d="M687 509c1 1 1 3 1 5 0 2-1 3-1 4-1 1-1 2-2 2-1 0-2 0-3 0-1-1-2-2-3-4-1-1-2-3-2-5-1-1-1-3-1-5 0-2 0-3 1-4 0-1 1-2 2-2 1-1 2 0 3 0 1 1 2 2 3 4 1 1 2 3 2 5z"/><path id="d74" d="M705 565c1 1 1 3 1 4-1 2-1 3-1 4-1 1-2 2-2 2-1 0-2 0-3-1 0-1-1-2-2-3 0-2-1-3-1-5 0-1 0-3 0-5 0-1 0-3 1-3 0-1 1-2 1-2 1 0 2 0 3 1 0 1 1 2 2 3 0 1 1 3 1 5z"/><path id="d75" d="M660 610c0 1-1 2-2 2-1 1-2 1-3 2-2 0-3 0-5 0-2 0-3 0-5 0-1-1-3-1-3-2-1 0-2-1-2-2 0-1 1-1 2-2 0-1 2-1 3-2 2 0 3 0 5 0 2 0 3 0 5 0 1 1 2 1 3 2 1 1 2 1 2 2z"/><path id="d76" d="M729 612c0 2-1 4-1 6-1 1-1 3-2 4-1 0-3 1-4 1-1 0-2-1-3-1-1-1-2-3-2-4-1-2-1-4-1-6 0-1 0-4 1-5 0-2 1-3 2-4 1-1 2-1 3-1 1 0 3 0 4 1 1 1 1 2 2 4 0 1 1 4 1 5z"/><path id="d77" d="M629 612c0 2-1 4-1 6-1 1-2 3-3 4-1 0-2 1-3 1-1 0-2-1-3-1-1-1-2-3-2-4-1-2-1-4-1-6 0-1 0-4 1-5 0-2 1-3 2-4 1-1 2-1 3-1 1 0 2 0 3 1 1 1 2 2 3 4 0 1 1 4 1 5z"/><path id="d78" d="M677 595c0 2-1 3-1 4-1 2-1 3-2 4-1 0-2 1-3 1-1 0-2-1-2-1-1-1-2-2-2-4-1-1-1-2-1-4 0-1 0-3 1-4 0-1 1-2 2-3 0-1 1-1 2-1 1 0 2 0 3 1 1 1 1 2 2 3 0 1 1 3 1 4z"/></defs><g stroke-linejoin="round" stroke-linecap="round"><rect x="-5" y="-5" width="860" height="648" fill="#0351fc"/><path d="M303 307c0 1-2 3-4 4-2 1-5 3-9 3-4 1-9 2-13 2-4 0-9-1-13-2-3 0-7-2-9-3-2-1-3-3-3-4 0-1 1-3 3-4 2-1 6-3 9-3 4-1 9-2 13-2 4 0 9 1 13 2 4 0 7 2 9 3 2 1 4 3 4 4z" fill="#0f91f2"/><path d="M428 9c21-10 103-3 124 0 21 2 15 13 4 14-11 2-50-4-68-4-18 0-34-3-41 4-7 8 1 34-2 41-3 7-14 9-17 0-3-9-20-46 0-55z" fill="#0ad0f2"/><path d="M552 235c0 2-2 6-4 8-3 3-8 5-12 6-5 2-11 3-16 3-5 0-12-1-16-3-5-1-9-3-12-6-2-2-4-6-4-8 0-3 2-7 4-9 3-2 7-5 12-6 4-2 11-3 16-3 5 0 11 1 16 3 4 1 9 4 12 6 2 2 4 6 4 9z" fill="#0d87f4"/><path d="M556 266c0 2-1 4-3 6-2 1-6 3-10 4-3 1-8 1-12 1-5 0-10 0-13-1-4-1-7-3-10-4-2-2-3-4-3-6 0-1 1-3 3-5 3-1 6-3 10-4 3-1 8-1 13-1 4 0 9 0 12 1 4 1 8 3 10 4 2 2 3 4 3 5z" fill="#0d87f4"/><path d="M754 224c0 3-2 6-5 8-4 3-10 5-16 7-6 1-14 2-21 2-7 0-15-1-22-2-6-2-12-4-15-7-4-2-6-5-6-8 0-3 2-6 6-9 3-2 9-4 15-6 7-1 15-2 22-2 7 0 15 1 21 2 6 2 12 4 16 6 3 3 5 6 5 9z" fill="#0d87f4"/><path d="M818 203c0 2-1 4-4 6-3 2-7 4-12 5-4 1-10 1-16 1-5 0-11 0-16-1-4-1-9-3-11-5-3-2-5-4-5-6 0-3 2-5 5-7 2-2 7-3 11-5 5-1 11-1 16-1 6 0 12 0 16 1 5 2 9 3 12 5 3 2 4 4 4 7z" fill="#0d87f4"/><path d="M776 256c0 2-2 4-5 5-2 2-7 3-11 4-5 1-11 1-16 1-6 0-12 0-16-1-5-1-9-2-12-4-3-1-4-3-4-5 0-2 1-4 4-5 3-2 7-4 12-4 4-1 10-2 16-2 5 0 11 1 16 2 4 0 9 2 11 4 3 1 5 3 5 5z" fill="#0d87f4"/><path d="M616 277c0 2-1 4-3 5-2 2-5 3-8 4-3 1-7 2-11 2-3 0-7-1-10-2-3-1-6-2-8-4-2-1-3-3-3-5 0-2 1-4 3-5 2-2 5-3 8-4 3-1 7-2 10-2 4 0 8 1 11 2 3 1 6 2 8 4 2 1 3 3 3 5z" fill="#0d87f4"/><path d="M516 226c0 1-1 2-2 3-1 1-2 2-4 3-1 0-3 0-5 0-2 0-4 0-5 0-2-1-3-2-4-3-1-1-2-2-2-3 0-1 1-2 2-3 1-1 2-2 4-3 1 0 3 0 5 0 2 0 4 0 5 0 2 1 3 2 4 3 1 1 2 2 2 3z" fill="#0ad0f2"/><path d="M539 262c0 1 0 2-1 3-1 1-2 1-3 2-1 0-3 1-4 1-2 0-4-1-5-1-1-1-2-1-3-2-1-1-1-2-1-3 0-1 0-2 1-2 1-1 2-2 3-2 1-1 3-1 5-1 1 0 3 0 4 1 1 0 2 1 3 2 1 0 1 1 1 2z" fill="#0ad0f2"/><path d="M761 228c0 1-1 2-1 3-1 1-2 1-3 2-2 0-3 0-5 0-1 0-3 0-4 0-1-1-2-1-3-2-1-1-1-2-1-3 0-1 0-2 1-3 1 0 2-1 3-1 1-1 3-1 4-1 2 0 3 0 5 1 1 0 2 1 3 1 0 1 1 2 1 3z" fill="#0ad0f2"/><path d="M620 162c0 1 0 2-1 2-1 1-2 1-3 2-1 0-3 0-4 0-2 0-3 0-5 0-1-1-2-1-3-2-1 0-1-1-1-2 0-1 0-1 1-2 1-1 2-1 3-2 2 0 3 0 5 0 1 0 3 0 4 0 1 1 2 1 3 2 1 1 1 1 1 2z" fill="#0ad0f2"/><path d="M776 62c6-4 30-4 42-2 12 1 25 3 30 10 5 7 6 27 0 32-7 5-29 1-40-2-11-3-21-8-26-15-5-6-12-19-6-23z" fill="#0ad0f2"/><path d="M803 9c5-8 37-10 45 0 7 9 5 47 0 55-5 8-22 1-30-9-7-9-19-39-15-46z" fill="#0ad0f2"/><path d="M298 371c0 3-1 5-2 7-2 2-5 3-8 4-3 2-7 2-11 2-3 0-7 0-11-2-3-1-6-2-7-4-2-2-3-4-3-7 0-2 1-4 3-6 1-2 4-4 7-5 4-1 8-1 11-1 4 0 8 0 11 1 3 1 6 3 8 5 1 2 2 4 2 6z" fill="#0d87f4"/><path d="M341 350c0 2-1 4-3 5-2 2-4 3-8 4-3 1-7 2-10 2-4 0-8-1-11-2-3-1-6-2-8-4-1-1-3-3-3-5 0-2 2-4 3-5 2-2 5-3 8-4 3-1 7-2 11-2 3 0 7 1 10 2 4 1 6 2 8 4 2 1 3 3 3 5z" fill="#0d87f4"/><path d="M399 371c0 2-2 4-4 6-2 1-5 3-9 4-4 0-9 1-13 1-4 0-9-1-13-1-3-1-7-3-9-4-2-2-3-4-3-6 0-1 1-3 3-5 2-1 6-3 9-4 4-1 9-1 13-1 4 0 9 0 13 1 4 1 7 3 9 4 2 2 4 4 4 5z" fill="#0d87f4"/><path d="M273 414c0 1-1 3-2 4-2 2-4 3-7 3-2 1-5 2-8 2-3 0-6-1-9-2-2 0-5-1-6-3-1-1-2-3-2-4 0-1 1-3 2-4 1-1 4-3 6-3 3-1 6-2 9-2 3 0 6 1 8 2 3 0 5 2 7 3 1 1 2 3 2 4z" fill="#0d87f4"/><path d="M166 382c0 1-1 3-2 4-1 2-4 3-6 3-3 1-6 2-9 2-3 0-6-1-8-2-3 0-5-1-7-3-1-1-2-3-2-4 0-1 1-3 2-4 2-1 4-3 7-3 2-1 5-1 8-1 3 0 6 0 9 1 2 0 5 2 6 3 1 1 2 3 2 4z" fill="#0d87f4"/><path d="M445 335c67-11 336-15 403 0 67 15 17 74 0 90-18 15-69 5-104 4-35-1-68-6-107-9-39-2-96 0-128-4-32-3-53-3-64-17-10-13-67-53 0-64z" fill="#086df7"/><path d="M501 350c0 1-1 2-2 3-1 1-3 2-5 3-2 0-4 0-6 0-2 0-5 0-7 0-1-1-3-2-4-3-1-1-2-2-2-3 0-1 1-2 2-3 1-1 3-2 4-2 2-1 5-1 7-1 2 0 4 0 6 1 2 0 4 1 5 2 1 1 2 2 2 3z" fill="#08d7f3"/><path d="M541 367c0 1 0 2-1 3-1 1-3 2-4 3-2 0-4 1-5 1-2 0-4-1-6-1-1-1-3-2-4-3-1-1-1-2-1-3 0-1 0-2 1-3 1-1 3-2 4-2 2-1 4-1 6-1 1 0 3 0 5 1 1 0 3 1 4 2 1 1 1 2 1 3z" fill="#08d7f3"/><path d="M594 361c0 1 0 2-1 3-1 1-2 2-4 2-1 1-3 1-5 1-2 0-4 0-6-1-1 0-3-1-3-2-1-1-2-2-2-3 0-1 1-3 2-3 0-1 2-2 3-3 2 0 4-1 6-1 2 0 4 1 5 1 2 1 3 2 4 3 1 0 1 2 1 3z" fill="#08d7f3"/><path d="M673 388c0 2 0 3-2 4-1 1-3 2-5 3-2 1-5 1-8 1-2 0-5 0-7-1-2-1-4-2-5-3-2-1-2-2-2-4 0-1 0-2 2-3 1-1 3-2 5-3 2-1 5-1 7-1 3 0 6 0 8 1 2 1 4 2 5 3 2 1 2 2 2 3z" fill="#08d7f3"/><path d="M761 371c0 1-1 3-3 4-1 0-3 1-6 2-2 0-5 1-8 1-3 0-6-1-9-1-2-1-5-2-6-2-1-1-2-3-2-4 0-1 1-2 2-3 1-1 4-2 6-2 3-1 6-1 9-1 3 0 6 0 8 1 3 0 5 1 6 2 2 1 3 2 3 3z" fill="#08d7f3"/><path d="M812 388c0 2-1 3-2 5-1 1-3 2-6 3-2 1-4 1-7 1-2 0-5 0-7-1-3-1-5-2-6-3-1-2-2-3-2-5 0-1 1-3 2-4 1-1 3-2 6-3 2-1 5-1 7-1 3 0 5 0 7 1 3 1 5 2 6 3 1 1 2 3 2 4z" fill="#08d7f3"/><path d="M703 350c0 1 0 2-2 3-1 1-2 2-4 3-2 0-4 0-7 0-2 0-4 0-6 0-2-1-4-2-5-3-1-1-1-2-1-3 0-1 0-2 1-3 1-1 3-2 5-2 2-1 4-1 6-1 3 0 5 0 7 1 2 0 3 1 4 2 2 1 2 2 2 3z" fill="#08d7f3"/><path d="M520 388c0 1-1 2-2 3 0 1-2 2-3 2-2 0-4 1-6 1-2 0-4-1-5-1-2 0-3-1-4-2-1-1-1-2-1-3 0 0 0-1 1-2 1-1 2-2 4-2 1-1 3-1 5-1 2 0 4 0 6 1 1 0 3 1 3 2 1 1 2 2 2 2z" fill="#08d7f3"/><path d="M629 399c0 1-1 2-2 3-1 1-3 2-5 3-2 0-4 0-6 0-2 0-5 0-7 0-1-1-3-2-4-3-1-1-2-2-2-3 0-1 1-2 2-3 1-1 3-2 4-2 2-1 5-1 7-1 2 0 4 0 6 1 2 0 4 1 5 2 1 1 2 2 2 3z" fill="#08d7f3"/><path d="M799 356c0 2-1 3-2 4-1 1-2 1-4 2-2 1-5 1-7 1-2 0-4 0-6-1-2-1-4-1-5-2-1-1-1-2-1-4 0-1 0-2 1-3 1-1 3-2 5-2 2-1 4-1 6-1 2 0 5 0 7 1 2 0 3 1 4 2 1 1 2 2 2 3z" fill="#08d7f3"/><path d="M467 425c16-7 90-10 106 4 16 14-2 69-10 81-9 12-29-4-43-11-14-7-34-19-43-32-9-12-26-36-10-42z" fill="#0972f6"/><use href="#d13" fill="none" stroke="#14aaf0" stroke-width="21"/><use href="#d15" fill="#14aaf0" stroke="#14aaf0" stroke-width="13"/><use href="#d19" fill="#14aaf0" stroke="#14aaf0" stroke-width="19"/><use href="#d1" fill="none" stroke="#00f5f5" stroke-width="13"/><use href="#d2" fill="none" stroke="#00f5f5" stroke-width="19"/><use href="#d5" fill="#00f5f5" stroke="#00f5f5" stroke-width="13"/><use href="#d7" fill="#00f5f5" stroke="#00f5f5" stroke-width="6"/><use href="#d8" fill="#00f5f5" stroke="#00f5f5" stroke-width="6"/><use href="#d9" fill="none" stroke="#00f5f5" stroke-width="19"/><use href="#d12" fill="#00f5f5" stroke="#00f5f5" stroke-width="13"/><use href="#d13" fill="none" stroke="#00f5f5" stroke-width="15"/><use href="#d14" fill="none" stroke="#00f5f5" stroke-width="17"/><use href="#d15" fill="#00f5f5" stroke="#00f5f5" stroke-width="6"/><use href="#d17" fill="#00f5f5" stroke="#00f5f5" stroke-width="8"/><use href="#d18" fill="#00f5f5" stroke="#00f5f5" stroke-width="6"/><use href="#d19" fill="#00f5f5" stroke="#00f5f5" stroke-width="14"/><use href="#d23" fill="#00f5f5" stroke="#00f5f5" stroke-width="13"/><use href="#d24" fill="#00f5f5" stroke="#00f5f5" stroke-width="13"/><use href="#d25" fill="#00f5f5" stroke="#00f5f5" stroke-width="23"/><use href="#d27" fill="#00f5f5" stroke="#00f5f5" stroke-width="6"/><use href="#d28" fill="#00f5f5" stroke="#00f5f5" stroke-width="6"/><use href="#d29" fill="none" stroke="#00f5f5" stroke-width="21"/><use href="#d30" fill="#00f5f5" stroke="#00f5f5" stroke-width="17"/><use href="#d31" fill="#00f5f5" stroke="#00f5f5" stroke-width="20"/><use href="#d32" fill="#00f5f5" stroke="#00f5f5" stroke-width="6"/><use href="#d33" fill="#00f5f5" stroke="#00f5f5" stroke-width="8"/><use href="#d34" fill="#00f5f5" stroke="#00f5f5" stroke-width="13"/><use href="#d35" fill="#00f5f5" stroke="#00f5f5" stroke-width="8"/><use href="#d36" fill="#00f5f5" stroke="#00f5f5" stroke-width="6"/><use href="#d38" fill="#00f5f5" stroke="#00f5f5" stroke-width="30"/><use href="#d39" fill="#00f5f5" stroke="#00f5f5" stroke-width="13"/><use href="#d41" fill="#00f5f5" stroke="#00f5f5" stroke-width="13"/><use href="#d43" fill="#00f5f5" stroke="#00f5f5" stroke-width="11"/><use href="#d44" fill="none" stroke="#00f5f5" stroke-width="14"/><use href="#d47" fill="#00f5f5" stroke="#00f5f5" stroke-width="13"/><use href="#d48" fill="#00f5f5" stroke="#00f5f5" stroke-width="40"/><use href="#d49" fill="#00f5f5" stroke="#00f5f5" stroke-width="11"/><use href="#d50" fill="#00f5f5" stroke="#00f5f5" stroke-width="19"/><use href="#d51" fill="none" stroke="#00f5f5" stroke-width="15"/><use href="#d52" fill="none" stroke="#00f5f5" stroke-width="20"/><use href="#d53" fill="#00f5f5" stroke="#00f5f5" stroke-width="23"/><use href="#d55" fill="#00f5f5" stroke="#00f5f5" stroke-width="13"/><use href="#d57" fill="#00f5f5" stroke="#00f5f5" stroke-width="8"/><use href="#d58" fill="#00f5f5" stroke="#00f5f5" stroke-width="13"/><use href="#d60" fill="#00f5f5" stroke="#00f5f5" stroke-width="13"/><use href="#d61" fill="#00f5f5" stroke="#00f5f5" stroke-width="13"/><use href="#d63" fill="#00f5f5" stroke="#00f5f5" stroke-width="8"/><use href="#d64" fill="#00f5f5" stroke="#00f5f5" stroke-width="13"/><use href="#d68" fill="#00f5f5" stroke="#00f5f5" stroke-width="8"/><use href="#d69" fill="#00f5f5" stroke="#00f5f5" stroke-width="8"/><use href="#d70" fill="#00f5f5" stroke="#00f5f5" stroke-width="8"/><use href="#d71" fill="#00f5f5" stroke="#00f5f5" stroke-width="13"/><use href="#d72" fill="#00f5f5" stroke="#00f5f5" stroke-width="13"/><use href="#d73" fill="#00f5f5" stroke="#00f5f5" stroke-width="11"/><use href="#d74" fill="#00f5f5" stroke="#00f5f5" stroke-width="15"/><use href="#d75" fill="#00f5f5" stroke="#00f5f5" stroke-width="15"/><use href="#d76" fill="#00f5f5" stroke="#00f5f5" stroke-width="11"/><use href="#d77" fill="#00f5f5" stroke="#00f5f5" stroke-width="11"/><use href="#d78" fill="#00f5f5" stroke="#00f5f5" stroke-width="11"/><use href="#d1" fill="none" stroke="#0ab428" stroke-width="8"/><use href="#d2" fill="none" stroke="#0ab428" stroke-width="15"/><use href="#d7" fill="#0ab428"/><use href="#d8" fill="#0ab428"/><use href="#d9" fill="none" stroke="#0ab428" stroke-width="13"/><use href="#d12" fill="#0ab428" stroke="#0ab428" stroke-width="8"/><use href="#d13" fill="none" stroke="#0ab428" stroke-width="8"/><use href="#d14" fill="none" stroke="#0ab428" stroke-width="13"/><use href="#d15" fill="#0ab428"/><use href="#d17" fill="#0ab428" stroke="#0ab428" stroke-width="4"/><use href="#d18" fill="#0ab428"/><use href="#d19" fill="#0ab428" stroke="#0ab428" stroke-width="8"/><use href="#d21" fill="none" stroke="#0ab428" stroke-width="21"/><use href="#d23" fill="#0ab428" stroke="#0ab428" stroke-width="6"/><use href="#d24" fill="#0ab428" stroke="#0ab428" stroke-width="6"/><use href="#d25" fill="#0ab428" stroke="#0ab428" stroke-width="17"/><use href="#d27" fill="#0ab428"/><use href="#d28" fill="#0ab428"/><use href="#d29" fill="none" stroke="#0ab428" stroke-width="15"/><use href="#d30" fill="#0ab428" stroke="#0ab428" stroke-width="13"/><use href="#d31" fill="#0ab428" stroke="#0ab428" stroke-width="15"/><use href="#d32" fill="#0ab428"/><use href="#d33" fill="#0ab428" stroke="#0ab428" stroke-width="4"/><use href="#d34" fill="#0ab428" stroke="#0ab428" stroke-width="8"/><use href="#d35" fill="#0ab428" stroke="#0ab428" stroke-width="4"/><use href="#d36" fill="#0ab428"/><use href="#d38" fill="#0ab428" stroke="#0ab428" stroke-width="23"/><use href="#d39" fill="#0ab428" stroke="#0ab428" stroke-width="8"/><use href="#d42" fill="#0ab428" stroke="#0ab428" stroke-width="11"/><use href="#d43" fill="#0ab428" stroke="#0ab428" stroke-width="6"/><use href="#d44" fill="none" stroke="#0ab428" stroke-width="10"/><use href="#d45" fill="#0ab428" stroke="#0ab428" stroke-width="6"/><use href="#d47" fill="#0ab428" stroke="#0ab428" stroke-width="8"/><use href="#d48" fill="#0ab428" stroke="#0ab428" stroke-width="34"/><use href="#d49" fill="#0ab428" stroke="#0ab428" stroke-width="6"/><use href="#d50" fill="#0ab428" stroke="#0ab428" stroke-width="13"/><use href="#d51" fill="none" stroke="#0ab428" stroke-width="11"/><use href="#d52" fill="none" stroke="#0ab428" stroke-width="14"/><use href="#d53" fill="#0ab428" stroke="#0ab428" stroke-width="17"/><use href="#d54" fill="none" stroke="#0ab428" stroke-width="18"/><use href="#d55" fill="#0ab428" stroke="#0ab428" stroke-width="6"/><use href="#d57" fill="#0ab428" stroke="#0ab428" stroke-width="4"/><use href="#d58" fill="#0ab428" stroke="#0ab428" stroke-width="6"/><use href="#d60" fill="#0ab428" stroke="#0ab428" stroke-width="6"/><use href="#d61" fill="#0ab428" stroke="#0ab428" stroke-width="6"/><use href="#d63" fill="#0ab428" stroke="#0ab428" stroke-width="4"/><use href="#d64" fill="#0ab428" stroke="#0ab428" stroke-width="6"/><use href="#d67" fill="#0ab428" stroke="#0ab428" stroke-width="8"/><use href="#d68" fill="#0ab428" stroke="#0ab428" stroke-width="4"/><use href="#d69" fill="#0ab428" stroke="#0ab428" stroke-width="4"/><use href="#d70" fill="#0ab428" stroke="#0ab428" stroke-width="4"/><use href="#d71" fill="#0ab428" stroke="#0ab428" stroke-width="6"/><use href="#d72" fill="#0ab428" stroke="#0ab428" stroke-width="6"/><use href="#d73" fill="#0ab428" stroke="#0ab428" stroke-width="6"/><use href="#d74" fill="#0ab428" stroke="#0ab428" stroke-width="11"/><use href="#d75" fill="#0ab428" stroke="#0ab428" stroke-width="11"/><use href="#d76" fill="#0ab428" stroke="#0ab428" stroke-width="6"/><use href="#d77" fill="#0ab428" stroke="#0ab428" stroke-width="6"/><use href="#d78" fill="#0ab428" stroke="#0ab428" stroke-width="6"/><use href="#d1" fill="none" stroke="#78d20a" stroke-width="4"/><use href="#d2" fill="none" stroke="#78d20a" stroke-width="11"/><use href="#d5" fill="#78d20a" stroke="#78d20a" stroke-width="8"/><use href="#d6" fill="#78d20a" stroke="#78d20a" stroke-width="8"/><use href="#d9" fill="none" stroke="#78d20a" stroke-width="6"/><use href="#d12" fill="#78d20a" stroke="#78d20a" stroke-width="4"/><use href="#d14" fill="none" stroke="#78d20a" stroke-width="10"/><use href="#d16" fill="#78d20a" stroke="#78d20a" stroke-width="8"/><use href="#d17" fill="#78d20a"/><use href="#d19" fill="#78d20a" stroke="#78d20a" stroke-width="4"/><use href="#d21" fill="none" stroke="#78d20a" stroke-width="16"/><use href="#d23" fill="#78d20a"/><use href="#d24" fill="#78d20a" stroke="#78d20a" stroke-width="3"/><use href="#d25" fill="#78d20a" stroke="#78d20a" stroke-width="11"/><use href="#d29" fill="none" stroke="#78d20a" stroke-width="11"/><use href="#d30" fill="#78d20a" stroke="#78d20a" stroke-width="7"/><use href="#d31" fill="#78d20a" stroke="#78d20a" stroke-width="10"/><use href="#d33" fill="#78d20a"/><use href="#d34" fill="#78d20a" stroke="#78d20a" stroke-width="4"/><use href="#d35" fill="#78d20a"/><use href="#d38" fill="#78d20a" stroke="#78d20a" stroke-width="17"/><use href="#d39" fill="#78d20a" stroke="#78d20a" stroke-width="4"/><use href="#d41" fill="#78d20a" stroke="#78d20a" stroke-width="6"/><use href="#d42" fill="#78d20a" stroke="#78d20a" stroke-width="6"/><use href="#d43" fill="#78d20a" stroke="#78d20a" stroke-width="3"/><use href="#d44" fill="none" stroke="#78d20a" stroke-width="5"/><use href="#d45" fill="#78d20a" stroke="#78d20a" stroke-width="3"/><use href="#d46" fill="#78d20a" stroke="#78d20a" stroke-width="8"/><use href="#d47" fill="#78d20a" stroke="#78d20a" stroke-width="4"/><use href="#d48" fill="#78d20a" stroke="#78d20a" stroke-width="26"/><use href="#d49" fill="#78d20a" stroke="#78d20a" stroke-width="3"/><use href="#d50" fill="#78d20a" stroke="#78d20a" stroke-width="8"/><use href="#d51" fill="none" stroke="#78d20a" stroke-width="6"/><use href="#d52" fill="none" stroke="#78d20a" stroke-width="10"/><use href="#d53" fill="#78d20a" stroke="#78d20a" stroke-width="12"/><use href="#d54" fill="none" stroke="#78d20a" stroke-width="14"/><use href="#d55" fill="#78d20a"/><use href="#d57" fill="#78d20a"/><use href="#d58" fill="#78d20a"/><use href="#d60" fill="#78d20a"/><use href="#d61" fill="#78d20a"/><use href="#d63" fill="#78d20a"/><use href="#d64" fill="#78d20a"/><use href="#d68" fill="#78d20a"/><use href="#d69" fill="#78d20a"/><use href="#d70" fill="#78d20a"/><use href="#d71" fill="#78d20a"/><use href="#d72" fill="#78d20a"/><use href="#d73" fill="#78d20a" stroke="#78d20a" stroke-width="3"/><use href="#d74" fill="#78d20a" stroke="#78d20a" stroke-width="7"/><use href="#d75" fill="#78d20a" stroke="#78d20a" stroke-width="7"/><use href="#d76" fill="#78d20a" stroke="#78d20a" stroke-width="3"/><use href="#d77" fill="#78d20a" stroke="#78d20a" stroke-width="3"/><use href="#d78" fill="#78d20a" stroke="#78d20a" stroke-width="3"/><use href="#d2" fill="none" stroke="#b4e614" stroke-width="6"/><use href="#d14" fill="none" stroke="#b4e614" stroke-width="6"/><path d="M563 28c2-3 7-5 10-5 4 0 9 0 11 4 1 3 1 14 0 17-2 4-7 3-11 2-3-1-7-4-9-7-1-3-2-8-1-11z" fill="#b4e614"/><use href="#d19" fill="#b4e614"/><use href="#d24" fill="#b4e614"/><use href="#d25" fill="#b4e614" stroke="#b4e614" stroke-width="4"/><use href="#d29" fill="none" stroke="#b4e614" stroke-width="8"/><use href="#d34" fill="#b4e614"/><use href="#d38" fill="#b4e614" stroke="#b4e614" stroke-width="13"/><use href="#d39" fill="#b4e614"/><use href="#d43" fill="#b4e614"/><use href="#d45" fill="#b4e614"/><use href="#d48" fill="#b4e614" stroke="#b4e614" stroke-width="21"/><use href="#d49" fill="#b4e614"/><use href="#d50" fill="#b4e614" stroke="#b4e614" stroke-width="4"/><use href="#d52" fill="none" stroke="#b4e614" stroke-width="5"/><path d="M587 444c4-3 11-4 17-3 5 1 14 5 16 9 3 5 0 13-1 18-2 6-7 11-8 15 0 5 6 10 3 12-2 3-12 4-18 3-5-1-14-5-15-9-1-4 9-10 9-15 1-5-5-10-6-15 0-5 0-12 3-15z" fill="#b4e614"/><path d="M518 512c4-5 11-4 15-1 5 2 10 8 12 15 2 6 0 16-2 22-1 6-6 13-10 15-4 2-11 0-15-3-3-4-6-10-6-18 0-8 3-25 6-30z" fill="#b4e614"/><path d="M572 535c4-3 15-3 22-3 8 0 19-1 23 3 3 4 2 17-2 21-3 3-14 0-21-2-6-1-17-4-20-7-4-4-5-10-2-12z" fill="#b4e614"/><use href="#d67" fill="#b4e614" stroke="#b4e614" stroke-width="4"/><path d="M736 486c2-2 14 0 20 1 5 1 9 1 12 4 4 2 8 8 7 10-1 2-8 3-13 3-5-1-11-5-15-8-5-3-12-9-11-10z" fill="#b4e614"/><path d="M748 558c4-6 13-8 21-8 7-1 18 2 25 5 7 3 11 11 17 12 7 0 20-19 24-9 4 10 14 56 0 67-14 11-71 4-83 0-12-4 11-17 10-24-1-7-11-10-14-17-2-7-3-20 0-26z" fill="#b4e614"/><use href="#d73" fill="#b4e614"/><use href="#d76" fill="#b4e614"/><use href="#d77" fill="#b4e614"/><use href="#d78" fill="#b4e614"/><use href="#d3" fill="none" stroke="#ffff00" stroke-width="7"/><use href="#d4" fill="#ffff00" stroke="#ffff00" stroke-width="4"/><use href="#d5" fill="#ffff00" stroke="#ffff00" stroke-width="4"/><use href="#d6" fill="#ffff00" stroke="#ffff00" stroke-width="5"/><use href="#d10" fill="#ffff00" stroke="#ffff00" stroke-width="4"/><use href="#d11" fill="#ffff00" stroke="#ffff00" stroke-width="4"/><use href="#d12" fill="#ffff00"/><use href="#d16" fill="#ffff00" stroke="#ffff00" stroke-width="4"/><use href="#d20" fill="#ffff00" stroke="#ffff00" stroke-width="10"/><use href="#d21" fill="none" stroke="#ffff00" stroke-width="12"/><use href="#d25" fill="#ffff00"/><use href="#d29" fill="none" stroke="#ffff00" stroke-width="5"/><use href="#d30" fill="#ffff00" stroke="#ffff00" stroke-width="3"/><use href="#d31" fill="#ffff00" stroke="#ffff00" stroke-width="5"/><path d="M126 440c0 0-1 1-1 2-1 1-1 2-2 2-1 1-3 1-4 1-1 0-2 0-3-1-1 0-2-1-2-2-1-1-1-2-1-2 0-1 0-2 1-3 0-1 1-2 2-2 1 0 2-1 3-1 1 0 3 1 4 1 1 0 1 1 2 2 0 1 1 2 1 3z" fill="#ffff00"/><use href="#d38" fill="#ffff00" stroke="#ffff00" stroke-width="8"/><use href="#d40" fill="#ffff00" stroke="#ffff00" stroke-width="6"/><use href="#d41" fill="#ffff00"/><use href="#d42" fill="#ffff00" stroke="#ffff00" stroke-width="3"/><use href="#d46" fill="#ffff00" stroke="#ffff00" stroke-width="4"/><use href="#d47" fill="#ffff00"/><use href="#d48" fill="#ffff00" stroke="#ffff00" stroke-width="17"/><path d="M241 429c6-4 26-6 36-6 10-1 21-1 26 2 5 2 8 10 4 12-4 3-19 3-30 5-11 1-28 6-34 4-6-2-8-13-2-17z" fill="#ffff00"/><use href="#d50" fill="#ffff00"/><use href="#d53" fill="#ffff00" stroke="#ffff00" stroke-width="7"/><use href="#d54" fill="none" stroke="#ffff00" stroke-width="10"/><use href="#d56" fill="#ffff00" stroke="#ffff00" stroke-width="3"/><use href="#d59" fill="#ffff00" stroke="#ffff00" stroke-width="7"/><path d="M523 523c2-3 6-2 8-1 3 1 6 5 7 9 1 3 0 9-1 12-1 4-3 8-6 9-2 1-6 0-8-2-2-2-4-5-4-10 0-5 2-14 4-17z" fill="#ffff00"/><use href="#d62" fill="#ffff00" stroke="#ffff00" stroke-width="4"/><path d="M663 455c3-3 8-8 13-10 6-2 13-1 19 0 6 1 14 5 17 8 3 3 4 8 1 10-2 2-11 0-18 0-6 0-13 0-19 0-5 0-10 4-13 3-2-2-2-7 0-11z" fill="#ffff00"/><path d="M779 506c0 1-1 2-1 3-1 1-3 2-4 2-1 1-3 1-5 1-1 0-3 0-4-1-2 0-3-1-4-2-1-1-1-2-1-3 0-1 0-3 1-4 1 0 2-1 4-2 1 0 3-1 4-1 2 0 4 1 5 1 1 1 3 2 4 2 0 1 1 3 1 4z" fill="#ffff00"/><path d="M819 452c2-4 7-12 11-15 3-4 9-12 11-5 2 6 2 36 0 43-2 7-8 0-11-2-4-2-6-7-8-11-2-3-4-5-3-10z" fill="#ffff00"/><path d="M757 591c3-5 19-5 29-6 11-2 22-3 32-5 11-1 25-10 30-6 5 4 6 24 0 30-7 5-27 3-40 4-14 1-34 7-43 4-8-3-12-16-8-21z" fill="#ffff00"/><use href="#d74" fill="#ffff00" stroke="#ffff00" stroke-width="4"/><use href="#d75" fill="#ffff00" stroke="#ffff00" stroke-width="4"/><use href="#d3" fill="none" stroke="#ffb414" stroke-width="4"/><use href="#d5" fill="#ffb414"/><use href="#d20" fill="#ffb414" stroke="#ffb414" stroke-width="3"/><use href="#d26" fill="#ffb414" stroke="#ffb414" stroke-width="4"/><use href="#d30" fill="#ffb414"/><use href="#d31" fill="#ffb414" stroke="#ffb414" stroke-width="2"/><use href="#d38" fill="#ffb414" stroke="#ffb414" stroke-width="4"/><use href="#d42" fill="#ffb414"/><use href="#d48" fill="#ffb414" stroke="#ffb414" stroke-width="11"/><path d="M541 322l32 2" fill="none" stroke="#ffb414" stroke-width="3"/><use href="#d53" fill="#ffb414" stroke="#ffb414" stroke-width="3"/><use href="#d59" fill="#ffb414" stroke="#ffb414" stroke-width="3"/><use href="#d67" fill="#ffb414"/><use href="#d4" fill="#ff8c0a"/><path d="M407 241c0 1 0 2-1 3 0 0-1 1-2 2-1 0-2 0-3 0-1 0-2 0-3 0-1-1-2-2-3-2 0-1-1-2-1-3 0-1 1-2 1-3 1-1 2-1 3-2 1 0 2 0 3 0 1 0 2 0 3 0 1 1 2 1 2 2 1 1 1 2 1 3z" fill="#ff8c0a"/><use href="#d6" fill="#ff8c0a" stroke="#ff8c0a" stroke-width="2"/><use href="#d10" fill="#ff8c0a"/><use href="#d11" fill="#ff8c0a"/><use href="#d16" fill="#ff8c0a"/><use href="#d20" fill="#ff8c0a"/><use href="#d21" fill="none" stroke="#ff8c0a" stroke-width="6"/><use href="#d22" fill="#ff8c0a" stroke="#ff8c0a" stroke-width="3"/><use href="#d26" fill="#ff8c0a"/><path d="M829 245c-4 3-12 13-21 19-9 7-22 14-32 20-10 5-23 9-28 11" fill="none" stroke="#ff8c0a" stroke-width="4"/><path d="M733 300l-26 6" fill="none" stroke="#ff8c0a" stroke-width="3"/><path d="M448 247c0 1 0 3 0 4-1 0-1 1-2 2-1 0-2 1-3 1-1 0-2-1-3-1 0-1-1-2-1-2-1-1-1-3-1-4 0-1 0-2 1-3 0-1 1-2 1-2 1-1 2-1 3-1 1 0 2 0 3 1 1 0 1 1 2 2 0 1 0 2 0 3z" fill="#ff8c0a"/><use href="#d31" fill="#ff8c0a"/><use href="#d38" fill="#ff8c0a"/><use href="#d40" fill="#ff8c0a"/><use href="#d46" fill="#ff8c0a"/><use href="#d48" fill="#ff8c0a" stroke="#ff8c0a" stroke-width="5"/><path d="M241 442c5-6 25-3 36-5 12-1 26-5 32-4 7 2 12 9 7 13-6 4-27 9-39 13-12 4-26 15-32 13-6-3-9-25-4-30z" fill="#ff8c0a"/><path d="M394 497c5 1 25 9 30 13 5 4 4 9 0 8-5 0-23-7-27-10-5-4-7-11-3-11z" fill="#ff8c0a"/><path d="M477 317l36 3" fill="none" stroke="#ff8c0a" stroke-width="5"/><use href="#d53" fill="#ff8c0a"/><use href="#d54" fill="none" stroke="#ff8c0a" stroke-width="5"/><use href="#d56" fill="#ff8c0a"/><use href="#d59" fill="#ff8c0a"/><path d="M534 542c0 1-1 2-1 3-1 0-2 1-3 2-1 0-2 0-4 0-1 0-2 0-3 0-2-1-3-2-3-2-1-1-1-2-1-3 0-1 0-2 1-3 0-1 1-1 3-2 1 0 2 0 3 0 2 0 3 0 4 0 1 1 2 1 3 2 0 1 1 2 1 3z" fill="#ff8c0a"/><use href="#d62" fill="#ff8c0a"/><use href="#d65" fill="#ff8c0a" stroke="#ff8c0a" stroke-width="3"/><use href="#d66" fill="#ff8c0a" stroke="#ff8c0a" stroke-width="3"/><path d="M842 593c0 1-1 2-2 3-1 1-3 2-5 3-1 0-4 0-6 0-2 0-5 0-6 0-2-1-4-2-5-3-1-1-2-2-2-3 0-1 1-2 2-3 1-1 3-2 5-2 1-1 4-1 6-1 2 0 5 0 6 1 2 0 4 1 5 2 1 1 2 2 2 3z" fill="#ff8c0a"/><use href="#d74" fill="#ff8c0a"/><use href="#d75" fill="#ff8c0a"/><use href="#d6" fill="#ff1e0a"/><use href="#d22" fill="#ff1e0a"/><use href="#d37" fill="#ff1e0a" stroke="#ff1e0a" stroke-width="5"/><use href="#d48" fill="#ff1e0a"/><path d="M424 446c2-15 7-4 11-2 3 2 7 7 8 15 1 7-4 18-4 30-1 11 4 31 2 38-3 7-14 18-17 4-3-13-2-70 0-85z" fill="#ff1e0a"/><use href="#d65" fill="#ff1e0a"/><use href="#d66" fill="#ff1e0a"/><path d="M828 131c0 1 0 1-1 1-1 1-2 1-3 1-1 1-2 1-4 1-1 0-2 0-3-1-1 0-2 0-3-1-1 0-1 0-1-1 0 0 0-1 1-1 1-1 2-1 3-1 1 0 2 0 3 0 2 0 3 0 4 0 1 0 2 0 3 1 1 0 1 1 1 1z" fill="#7832a0"/><use href="#d37" fill="#7832a0"/><path d="M262 480c3-3 13-6 17-4 5 1 9 8 9 13 0 4-5 11-9 12-4 2-12 0-15-4-2-3-4-13-2-17z" fill="#7832a0"/><path d="M436 506c0 2-1 5-1 7-1 2-2 4-3 6-1 1-3 2-4 2-1 0-2-1-4-2-1-2-2-4-2-6-1-2-1-5-1-7 0-3 0-6 1-8 0-2 1-4 2-5 2-1 3-2 4-2 1 0 3 1 4 2 1 1 2 3 3 5 0 2 1 5 1 8z" fill="#7832a0"/></g></g><path fill="#fff" d="M304 446l2 0-22 190-13 0z"/><path fill="#fff" d="M573 457l1 0-34 179-12 0z"/><path fill="#fff" d="M840 457l2 0-32 179-13 0z"/><path fill="#fff" d="M484 458l2 0-8 37-7 0 1-6 5-2z"/><path fill="#fff" d="M769 617l5 0 12 12-8 2z"/><path fill="#fff" d="M375 53l30-12 6 19-17 6z"/><path fill="#fff" d="M698 46l19 0 0 8-19 0z"/><path fill="#fff" d="M766 71l15 0 0 7-15 0z"/><path fill="#fff" d="M818 80l22 0 0 8-22 0z"/><path fill="#fff" d="M443 349l5 0 0 4-5 0z"/><path fill="#fff" d="M481 542l5 0 0 4-5 0z"/><path fill="#fff" d="M461 555l5 0 0 4-5 0z"/><path fill="#fff" d="M609 496l5 0 0 5-5 0z"/><path fill="#fff" d="M615 559l4 0 0 4-4 0z"/><path fill="#fff" d="M656 512l5 0 0 5-5 0z"/><path fill="#fff" d="M728 476l4 0 0 4-4 0z"/><path fill="#fff" d="M664 575l4 0 0 4-4 0z"/><path fill="#fff" d="M718 546l5 0 0 5-5 0z"/><path fill="#fff" d="M705 533l5 0 0 5-5 0z"/><path fill="#fff" d="M729 526l4 0 0 4-4 0z"/><path fill="#fff" d="M756 558l5 0 0 4-5 0z"/><path fill="#fff" d="M750 540l5 0 0 4-5 0z"/><use href="#land"/><g stroke="#000" stroke-width="9.5" stroke-dasharray="9.5 9.7" fill="none"><line x1="211.3" y1="13.7" x2="211.3" y2="635.1"/><line x1="423" y1="13.7" x2="423" y2="635.1"/><line x1="634.7" y1="13.7" x2="634.7" y2="635.1"/><line x1="-1" y1="211.3" x2="849.8" y2="211.3"/><line x1="-1" y1="423" x2="849.8" y2="423"/></g></g><rect x="0" y="0" width="846.8" height="635.1" fill="none" stroke="#000" stroke-width="7"/></g>
<rect x="282.4" y="1701.3" width="140.8" height="39.5" fill="#0040ff"/><rect x="422.7" y="1701.3" width="140.8" height="39.5" fill="#0a78f5"/><rect x="563" y="1701.3" width="140.8" height="39.5" fill="#14aaf0"/><rect x="703.2" y="1701.3" width="140.8" height="39.5" fill="#00f5f5"/><rect x="843.5" y="1701.3" width="140.8" height="39.5" fill="#0ab428"/><rect x="983.8" y="1701.3" width="140.8" height="39.5" fill="#78d20a"/><rect x="1124.1" y="1701.3" width="140.8" height="39.5" fill="#b4e614"/><rect x="1264.3" y="1701.3" width="140.8" height="39.5" fill="#ffff00"/><rect x="1404.6" y="1701.3" width="140.8" height="39.5" fill="#ffb414"/><rect x="1544.9" y="1701.3" width="140.8" height="39.5" fill="#ff8c0a"/><rect x="1685.2" y="1701.3" width="140.8" height="39.5" fill="#ff1e0a"/><rect x="1825.4" y="1701.3" width="140.8" height="39.5" fill="#7832a0"/><rect x="282.4" y="1701.3" width="1683.3" height="39.5" fill="none" stroke="#000" stroke-width="7"/><rect x="278.7" y="1740.8" width="7.4" height="32.4" fill="#000"/><rect x="419" y="1740.8" width="7.4" height="32.4" fill="#000"/><rect x="559.2" y="1740.8" width="7.4" height="32.4" fill="#000"/><rect x="699.5" y="1740.8" width="7.4" height="32.4" fill="#000"/><rect x="839.8" y="1740.8" width="7.4" height="32.4" fill="#000"/><rect x="980.1" y="1740.8" width="7.4" height="32.4" fill="#000"/><rect x="1120.4" y="1740.8" width="7.4" height="32.4" fill="#000"/><rect x="1260.6" y="1740.8" width="7.4" height="32.4" fill="#000"/><rect x="1400.9" y="1740.8" width="7.4" height="32.4" fill="#000"/><rect x="1541.2" y="1740.8" width="7.4" height="32.4" fill="#000"/><rect x="1681.5" y="1740.8" width="7.4" height="32.4" fill="#000"/><rect x="1821.7" y="1740.8" width="7.4" height="32.4" fill="#000"/><rect x="1962" y="1740.8" width="7.4" height="32.4" fill="#000"/>
<g fill="#000" font-family="'Liberation Sans', sans-serif" font-size="53.5"><text x="43.7 72 105.8" y="166.2" dy="0 0 -3.5">60°<tspan x="158" dy="3.5" textLength="31.3" lengthAdjust="spacingAndGlyphs">N</tspan></text><text x="43.7 72 105.8" y="377.9" dy="0 0 -3.5">40°<tspan x="158" dy="3.5" textLength="31.3" lengthAdjust="spacingAndGlyphs">N</tspan></text><text x="43.7 72 105.8" y="589.6" dy="0 0 -3.5">20°<tspan x="158" dy="3.5" textLength="31.3" lengthAdjust="spacingAndGlyphs">N</tspan></text><text x="100.3 134.1" y="801.3" dy="0 -3.5">0°</text><text x="111.3 140.1 168.4 202.2" y="832.5" dy="0 0 0 -3.5">100°<tspan x="256.3" dy="3.5" textLength="25" lengthAdjust="spacingAndGlyphs">E</tspan></text><text x="323 351.8 380.1 413.9" y="832.5" dy="0 0 0 -3.5">120°<tspan x="468" dy="3.5" textLength="25" lengthAdjust="spacingAndGlyphs">E</tspan></text><text x="534.7 563.5 591.8 625.6" y="832.5" dy="0 0 0 -3.5">140°<tspan x="679.7" dy="3.5" textLength="25" lengthAdjust="spacingAndGlyphs">E</tspan></text><text x="746.4 775.2 803.5 837.3" y="832.5" dy="0 0 0 -3.5">160°<tspan x="891.4" dy="3.5" textLength="25" lengthAdjust="spacingAndGlyphs">E</tspan></text><text x="972.2 1001 1029.3 1063.2" y="832.5" dy="0 0 0 -3.5">180°</text><text x="1061.4 1089.7 1123.5" y="166.2" dy="0 0 -3.5">60°<tspan x="1175.7" dy="3.5" textLength="31.3" lengthAdjust="spacingAndGlyphs">N</tspan></text><text x="1061.4 1089.7 1123.5" y="377.9" dy="0 0 -3.5">40°<tspan x="1175.7" dy="3.5" textLength="31.3" lengthAdjust="spacingAndGlyphs">N</tspan></text><text x="1061.4 1089.7 1123.5" y="589.6" dy="0 0 -3.5">20°<tspan x="1175.7" dy="3.5" textLength="31.3" lengthAdjust="spacingAndGlyphs">N</tspan></text><text x="1118 1151.8" y="801.3" dy="0 -3.5">0°</text><text x="1129 1157.8 1186.1 1219.9" y="832.5" dy="0 0 0 -3.5">100°<tspan x="1274" dy="3.5" textLength="25" lengthAdjust="spacingAndGlyphs">E</tspan></text><text x="1340.7 1369.5 1397.8 1431.6" y="832.5" dy="0 0 0 -3.5">120°<tspan x="1485.7" dy="3.5" textLength="25" lengthAdjust="spacingAndGlyphs">E</tspan></text><text x="1552.4 1581.2 1609.5 1643.3" y="832.5" dy="0 0 0 -3.5">140°<tspan x="1697.4" dy="3.5" textLength="25" lengthAdjust="spacingAndGlyphs">E</tspan></text><text x="1764.1 1792.9 1821.2 1855" y="832.5" dy="0 0 0 -3.5">160°<tspan x="1909.1" dy="3.5" textLength="25" lengthAdjust="spacingAndGlyphs">E</tspan></text><text x="1990 2018.8 2047.1 2080.9" y="832.5" dy="0 0 0 -3.5">180°</text><text x="43.7 72 105.8" y="988.1" dy="0 0 -3.5">60°<tspan x="158" dy="3.5" textLength="31.3" lengthAdjust="spacingAndGlyphs">N</tspan></text><text x="43.7 72 105.8" y="1199.8" dy="0 0 -3.5">40°<tspan x="158" dy="3.5" textLength="31.3" lengthAdjust="spacingAndGlyphs">N</tspan></text><text x="43.7 72 105.8" y="1411.5" dy="0 0 -3.5">20°<tspan x="158" dy="3.5" textLength="31.3" lengthAdjust="spacingAndGlyphs">N</tspan></text><text x="100.3 134.1" y="1623.2" dy="0 -3.5">0°</text><text x="111.3 140.1 168.4 202.2" y="1654.4" dy="0 0 0 -3.5">100°<tspan x="256.3" dy="3.5" textLength="25" lengthAdjust="spacingAndGlyphs">E</tspan></text><text x="323 351.8 380.1 413.9" y="1654.4" dy="0 0 0 -3.5">120°<tspan x="468" dy="3.5" textLength="25" lengthAdjust="spacingAndGlyphs">E</tspan></text><text x="534.7 563.5 591.8 625.6" y="1654.4" dy="0 0 0 -3.5">140°<tspan x="679.7" dy="3.5" textLength="25" lengthAdjust="spacingAndGlyphs">E</tspan></text><text x="746.4 775.2 803.5 837.3" y="1654.4" dy="0 0 0 -3.5">160°<tspan x="891.4" dy="3.5" textLength="25" lengthAdjust="spacingAndGlyphs">E</tspan></text><text x="972.2 1001 1029.3 1063.2" y="1654.4" dy="0 0 0 -3.5">180°</text><text x="1061.4 1089.7 1123.5" y="988.1" dy="0 0 -3.5">60°<tspan x="1175.7" dy="3.5" textLength="31.3" lengthAdjust="spacingAndGlyphs">N</tspan></text><text x="1061.4 1089.7 1123.5" y="1199.8" dy="0 0 -3.5">40°<tspan x="1175.7" dy="3.5" textLength="31.3" lengthAdjust="spacingAndGlyphs">N</tspan></text><text x="1061.4 1089.7 1123.5" y="1411.5" dy="0 0 -3.5">20°<tspan x="1175.7" dy="3.5" textLength="31.3" lengthAdjust="spacingAndGlyphs">N</tspan></text><text x="1118 1151.8" y="1623.2" dy="0 -3.5">0°</text><text x="1129 1157.8 1186.1 1219.9" y="1654.4" dy="0 0 0 -3.5">100°<tspan x="1274" dy="3.5" textLength="25" lengthAdjust="spacingAndGlyphs">E</tspan></text><text x="1340.7 1369.5 1397.8 1431.6" y="1654.4" dy="0 0 0 -3.5">120°<tspan x="1485.7" dy="3.5" textLength="25" lengthAdjust="spacingAndGlyphs">E</tspan></text><text x="1552.4 1581.2 1609.5 1643.3" y="1654.4" dy="0 0 0 -3.5">140°<tspan x="1697.4" dy="3.5" textLength="25" lengthAdjust="spacingAndGlyphs">E</tspan></text><text x="1764.1 1792.9 1821.2 1855" y="1654.4" dy="0 0 0 -3.5">160°<tspan x="1909.1" dy="3.5" textLength="25" lengthAdjust="spacingAndGlyphs">E</tspan></text><text x="1990 2018.8 2047.1 2080.9" y="1654.4" dy="0 0 0 -3.5">180°</text><text x="267.2" y="1847.8">0</text><text x="365.1 394.9 421.7 449.5" y="1847.8">0.01</text><text x="505.3 535.1 561.9 590.2" y="1847.8">0.04</text><text x="645.6 675.4 702.2 730.5" y="1847.8">0.07</text><text x="800 829.8 856.1" y="1847.8">0.1</text><text x="926.1 955.9 982.2 1011" y="1847.8">0.15</text><text x="1080.6 1110.4 1137.2" y="1847.8">0.2</text><text x="1220.8 1250.6 1277.4" y="1847.8">0.3</text><text x="1361.1 1390.9 1417.7" y="1847.8">0.4</text><text x="1501.4 1531.2 1558" y="1847.8">0.5</text><text x="1641.1 1671.4 1698.2" y="1847.8">1.0</text><text x="1781.4 1811.7 1838.5" y="1847.8">1.5</text><text x="1922.2 1952 1978.8" y="1847.8">2.0</text><text y="89.6" font-size="63"><tspan x="209.3" dy="-6.5" font-size="69">(</tspan><tspan x="235.3" dy="6.5">a</tspan><tspan x="275.2" dy="-6.5" font-size="69">)</tspan></text><text y="89.6" font-size="63"><tspan x="1227" dy="-6.5" font-size="69">(</tspan><tspan x="1253" dy="6.5">b</tspan><tspan x="1292.9" dy="-6.5" font-size="69">)</tspan></text><text y="911.5" font-size="63"><tspan x="209.3" dy="-6.5" font-size="69">(</tspan><tspan x="235.3" dy="6.5">c</tspan><tspan x="275.2" dy="-6.5" font-size="69">)</tspan></text><text y="911.5" font-size="63"><tspan x="1227" dy="-6.5" font-size="69">(</tspan><tspan x="1253" dy="6.5">d</tspan><tspan x="1292.9" dy="-6.5" font-size="69">)</tspan></text></g><text x="720.8" y="1954.5" font-size="66.4" word-spacing="3" font-family="'Liberation Serif', serif">Cloud Liquid Water <tspan font-family="'DejaVu Sans', sans-serif" font-style="italic" font-size="65"><tspan x="1277">(</tspan><tspan x="1302">kg/m</tspan><tspan x="1476" dy="-25" font-size="45" font-style="normal">2</tspan><tspan x="1506" dy="25">)</tspan></tspan></text>
</svg>
</body></html>
